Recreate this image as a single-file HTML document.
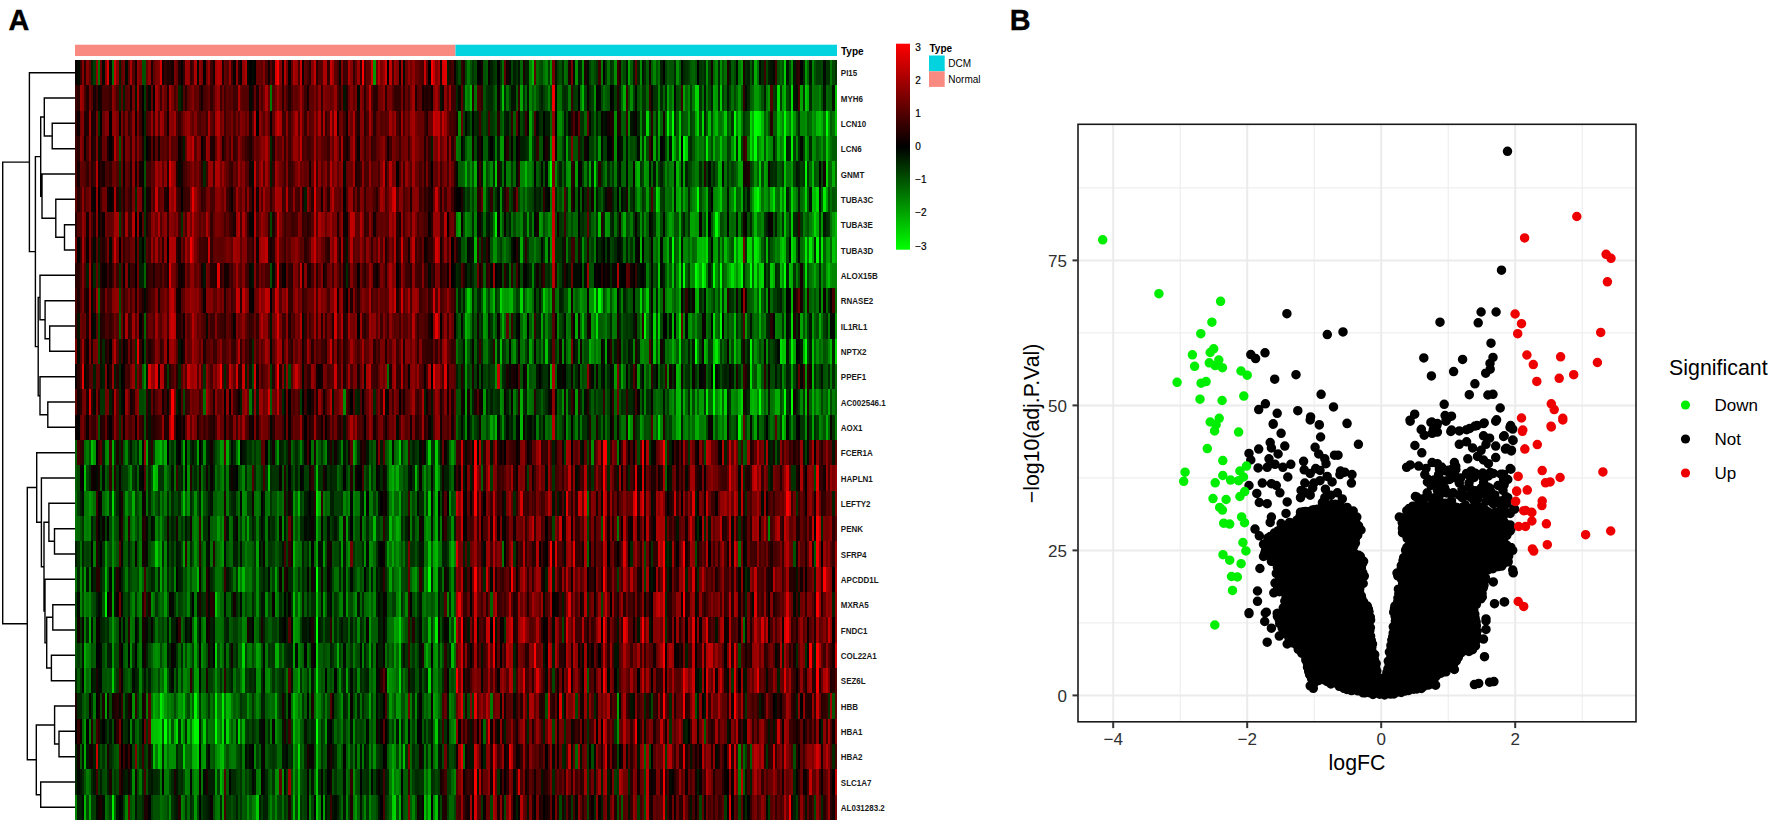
<!DOCTYPE html>
<html><head><meta charset="utf-8"><style>
html,body{margin:0;padding:0;background:#fff;}
body{width:1772px;height:824px;position:relative;overflow:hidden;font-family:"Liberation Sans",Arial,sans-serif;}
.hm{position:absolute;left:0;top:0;filter:blur(0.45px);}
.r{position:absolute;left:75.0px;width:762.0px;height:25.63px;}
svg{position:absolute;left:0;top:0;}
.gm{stroke:#ebebeb;stroke-width:1;}
.gM{stroke:#ebebeb;stroke-width:2;}
.tk{stroke:#333;stroke-width:2;}
.at{font-size:17px;fill:#303030;}
.ax{font-size:21.3px;fill:#000;}
.lg{font-size:21.4px;fill:#000;}
.li{font-size:17px;fill:#000;}
.gl{font-size:8px;fill:#1a1a1a;font-weight:bold;}
.tl{font-size:10px;font-weight:bold;fill:#000;}
.cl{font-size:10px;fill:#000;stroke:#000;stroke-width:0.2px;}
.ll{font-size:10px;fill:#000;}
.pl{font-size:28.8px;font-weight:bold;fill:#000;stroke:#000;stroke-width:0.35px;}
</style></head><body>
<div class="hm"><div class="r" style="top:60.00px;background:linear-gradient(90deg,#0a0000 0.0px 2.3px,#000a00 2.3px 4.6px,#330000 4.6px 6.9px,#850000 6.9px 9.2px,#290000 9.2px 11.5px,#850000 11.5px 13.8px,#5c0000 13.8px 16.1px,#001f00 16.1px 18.4px,#003d00 18.4px 20.7px,#8f0000 20.7px 23.0px,#007000 23.0px 25.2px,#660000 25.2px 27.5px,#000a00 27.5px 29.8px,#850000 29.8px 32.1px,#d60000 32.1px 34.4px,#000a00 34.4px 36.7px,#007000 36.7px 39.0px,#cc0000 39.0px 41.3px,#850000 41.3px 43.6px,#001f00 43.6px 45.9px,#5c0000 45.9px 48.2px,#700000 48.2px 50.5px,#000a00 50.5px 52.8px,#5c0000 52.8px 55.1px,#ad0000 55.1px 57.4px,#520000 57.4px 59.7px,#140000 59.7px 62.0px,#8f0000 62.0px 64.3px,#7a0000 64.3px 66.6px,#005200 66.6px 71.2px,#660000 71.2px 73.4px,#8f0000 73.4px 75.7px,#1f0000 75.7px 78.0px,#5c0000 78.0px 80.3px,#7a0000 80.3px 82.6px,#850000 82.6px 84.9px,#d60000 84.9px 87.2px,#140000 87.2px 89.5px,#330000 89.5px 91.8px,#1f0000 91.8px 94.1px,#290000 94.1px 96.4px,#140000 96.4px 98.7px,#7a0000 98.7px 101.0px,#660000 101.0px 103.3px,#1f0000 103.3px 105.6px,#000000 105.6px 107.9px,#330000 107.9px 110.2px,#990000 110.2px 114.8px,#330000 114.8px 117.1px,#470000 117.1px 119.3px,#ad0000 119.3px 121.6px,#000a00 121.6px 123.9px,#8f0000 123.9px 126.2px,#7a0000 126.2px 128.5px,#000000 128.5px 130.8px,#700000 130.8px 133.1px,#990000 133.1px 135.4px,#3d0000 135.4px 137.7px,#140000 137.7px 140.0px,#a30000 140.0px 142.3px,#b80000 142.3px 144.6px,#ad0000 144.6px 146.9px,#1f0000 146.9px 149.2px,#660000 149.2px 151.5px,#520000 151.5px 153.8px,#990000 153.8px 156.1px,#3d0000 156.1px 158.4px,#0a0000 158.4px 160.7px,#8f0000 160.7px 163.0px,#290000 163.0px 165.3px,#0a0000 165.3px 167.5px,#8f0000 167.5px 169.8px,#ad0000 169.8px 172.1px,#000a00 172.1px 174.4px,#000000 174.4px 176.7px,#000a00 176.7px 179.0px,#000000 179.0px 181.3px,#660000 181.3px 185.9px,#5c0000 185.9px 188.2px,#850000 188.2px 190.5px,#470000 190.5px 192.8px,#140000 192.8px 195.1px,#520000 195.1px 197.4px,#290000 197.4px 199.7px,#d60000 199.7px 202.0px,#ff0000 202.0px 204.3px,#850000 204.3px 206.6px,#140000 206.6px 208.9px,#b80000 208.9px 211.2px,#700000 211.2px 213.5px,#0a0000 213.5px 215.7px,#5c0000 215.7px 218.0px,#ad0000 218.0px 220.3px,#990000 220.3px 222.6px,#470000 222.6px 224.9px,#cc0000 224.9px 227.2px,#0a0000 227.2px 229.5px,#5c0000 229.5px 231.8px,#470000 231.8px 234.1px,#290000 234.1px 236.4px,#850000 236.4px 238.7px,#c20000 238.7px 241.0px,#290000 241.0px 243.3px,#520000 243.3px 247.9px,#ad0000 247.9px 252.5px,#330000 252.5px 254.8px,#cc0000 254.8px 257.1px,#a30000 257.1px 259.4px,#5c0000 259.4px 261.7px,#470000 261.7px 263.9px,#000a00 263.9px 266.2px,#850000 266.2px 268.5px,#3d0000 268.5px 273.1px,#ad0000 273.1px 275.4px,#850000 275.4px 277.7px,#330000 277.7px 280.0px,#5c0000 280.0px 282.3px,#990000 282.3px 284.6px,#330000 284.6px 286.9px,#ff0000 286.9px 289.2px,#3d0000 289.2px 291.5px,#5c0000 291.5px 293.8px,#660000 293.8px 296.1px,#cc0000 296.1px 298.4px,#009900 298.4px 300.7px,#700000 300.7px 303.0px,#b80000 303.0px 305.3px,#7a0000 305.3px 307.6px,#990000 307.6px 309.8px,#cc0000 309.8px 312.1px,#000000 312.1px 314.4px,#c20000 314.4px 316.7px,#470000 316.7px 319.0px,#990000 319.0px 321.3px,#850000 321.3px 323.6px,#0a0000 323.6px 325.9px,#a30000 325.9px 328.2px,#000a00 328.2px 330.5px,#660000 330.5px 332.8px,#8f0000 332.8px 335.1px,#700000 335.1px 337.4px,#8f0000 337.4px 339.7px,#660000 339.7px 344.3px,#520000 344.3px 346.6px,#470000 346.6px 348.9px,#cc0000 348.9px 351.2px,#5c0000 351.2px 353.5px,#000000 353.5px 355.8px,#ff0000 355.8px 358.0px,#c20000 358.0px 360.3px,#850000 360.3px 362.6px,#a30000 362.6px 364.9px,#1f0000 364.9px 367.2px,#d60000 367.2px 369.5px,#e00000 369.5px 371.8px,#001f00 371.8px 374.1px,#330000 374.1px 376.4px,#470000 376.4px 378.7px,#0a0000 378.7px 381.0px,#002900 381.0px 383.3px,#004700 383.3px 385.6px,#330000 385.6px 387.9px,#1f0000 387.9px 390.2px,#004700 390.2px 392.5px,#007a00 392.5px 394.8px,#005200 394.8px 397.1px,#003300 397.1px 399.4px,#004700 399.4px 401.7px,#000000 401.7px 406.2px,#140000 406.2px 408.5px,#005200 408.5px 410.8px,#005c00 410.8px 413.1px,#0a0000 413.1px 415.4px,#001f00 415.4px 417.7px,#003300 417.7px 420.0px,#003d00 420.0px 422.3px,#000000 422.3px 424.6px,#003300 424.6px 426.9px,#007000 426.9px 429.2px,#5c0000 429.2px 431.5px,#140000 431.5px 433.8px,#000a00 433.8px 436.1px,#004700 436.1px 438.4px,#001f00 438.4px 440.7px,#003300 440.7px 443.0px,#001400 443.0px 445.3px,#006600 445.3px 447.6px,#1f0000 447.6px 449.9px,#001f00 449.9px 454.4px,#008500 454.4px 456.7px,#00b800 456.7px 459.0px,#5c0000 459.0px 461.3px,#006600 461.3px 463.6px,#005200 463.6px 465.9px,#004700 465.9px 468.2px,#007000 468.2px 470.5px,#008500 470.5px 472.8px,#003d00 472.8px 475.1px,#009900 475.1px 477.4px,#700000 477.4px 479.7px,#001400 479.7px 482.0px,#003d00 482.0px 484.3px,#005200 484.3px 486.6px,#002900 486.6px 488.9px,#007000 488.9px 491.2px,#006600 491.2px 493.5px,#1f0000 493.5px 495.8px,#7a0000 495.8px 498.1px,#000a00 498.1px 500.3px,#008f00 500.3px 502.6px,#001f00 502.6px 504.9px,#002900 504.9px 507.2px,#008f00 507.2px 509.5px,#1f0000 509.5px 511.8px,#000a00 511.8px 514.1px,#003d00 514.1px 516.4px,#005c00 516.4px 518.7px,#004700 518.7px 521.0px,#003300 521.0px 523.3px,#3d0000 523.3px 525.6px,#007a00 525.6px 527.9px,#000000 527.9px 530.2px,#003300 530.2px 532.5px,#007000 532.5px 534.8px,#003300 534.8px 537.1px,#003d00 537.1px 539.4px,#008f00 539.4px 541.7px,#3d0000 541.7px 544.0px,#1f0000 544.0px 546.3px,#005c00 546.3px 548.5px,#004700 548.5px 550.8px,#001400 550.8px 553.1px,#00a300 553.1px 555.4px,#005c00 555.4px 557.7px,#001f00 557.7px 560.0px,#5c0000 560.0px 562.3px,#002900 562.3px 564.6px,#008f00 564.6px 566.9px,#001400 566.9px 569.2px,#002900 569.2px 571.5px,#005c00 571.5px 573.8px,#140000 573.8px 576.1px,#005c00 576.1px 578.4px,#008500 578.4px 580.7px,#005200 580.7px 583.0px,#007000 583.0px 585.3px,#001f00 585.3px 587.6px,#000000 587.6px 589.9px,#003d00 589.9px 592.2px,#005c00 592.2px 594.5px,#005200 594.5px 599.0px,#002900 599.0px 601.3px,#008f00 601.3px 603.6px,#005c00 603.6px 605.9px,#000a00 605.9px 608.2px,#002900 608.2px 610.5px,#003300 610.5px 612.8px,#003d00 612.8px 615.1px,#005c00 615.1px 617.4px,#006600 617.4px 619.7px,#005200 619.7px 622.0px,#000000 622.0px 624.3px,#003300 624.3px 626.6px,#003d00 626.6px 628.9px,#002900 628.9px 631.2px,#008f00 631.2px 633.5px,#003d00 633.5px 635.8px,#140000 635.8px 638.1px,#006600 638.1px 640.4px,#008500 640.4px 642.7px,#002900 642.7px 644.9px,#008f00 644.9px 647.2px,#005200 647.2px 649.5px,#007000 649.5px 651.8px,#1f0000 651.8px 654.1px,#001f00 654.1px 656.4px,#005c00 656.4px 658.7px,#004700 658.7px 661.0px,#000a00 661.0px 663.3px,#007a00 663.3px 665.6px,#009900 665.6px 667.9px,#1f0000 667.9px 670.2px,#002900 670.2px 672.5px,#001f00 672.5px 674.8px,#005c00 674.8px 677.1px,#002900 677.1px 679.4px,#00ad00 679.4px 681.7px,#007000 681.7px 684.0px,#000a00 684.0px 686.3px,#002900 686.3px 688.6px,#3d0000 688.6px 690.8px,#004700 690.8px 693.1px,#001f00 693.1px 695.4px,#001400 695.4px 697.7px,#000a00 697.7px 700.0px,#470000 700.0px 702.3px,#005200 702.3px 704.6px,#006600 704.6px 706.9px,#005200 706.9px 709.2px,#00cc00 709.2px 711.5px,#001400 711.5px 713.8px,#004700 713.8px 716.1px,#008f00 716.1px 718.4px,#001400 718.4px 720.7px,#290000 720.7px 723.0px,#330000 723.0px 725.3px,#000000 725.3px 727.6px,#002900 727.6px 729.9px,#009900 729.9px 732.2px,#006600 732.2px 734.5px,#001400 734.5px 736.8px,#008500 736.8px 739.0px,#005200 739.0px 741.3px,#003d00 741.3px 745.9px,#004700 745.9px 748.2px,#000a00 748.2px 750.5px,#003300 750.5px 755.1px,#007a00 755.1px 757.4px,#004700 757.4px 759.7px,#003300 759.7px 762.0px)"></div><div class="r" style="top:85.33px;background:linear-gradient(90deg,#3d0000 0.0px 2.3px,#290000 2.3px 4.6px,#a30000 4.6px 6.9px,#8f0000 6.9px 9.2px,#470000 9.2px 11.5px,#1f0000 11.5px 13.8px,#700000 13.8px 16.1px,#520000 16.1px 18.4px,#140000 18.4px 20.7px,#3d0000 20.7px 23.0px,#000a00 23.0px 25.2px,#140000 25.2px 27.5px,#470000 27.5px 34.4px,#330000 34.4px 36.7px,#8f0000 36.7px 39.0px,#700000 39.0px 41.3px,#470000 41.3px 43.6px,#002900 43.6px 45.9px,#5c0000 45.9px 48.2px,#001f00 48.2px 50.5px,#520000 50.5px 52.8px,#5c0000 52.8px 55.1px,#140000 55.1px 57.4px,#7a0000 57.4px 59.7px,#001400 59.7px 62.0px,#a30000 62.0px 64.3px,#330000 64.3px 66.6px,#000000 66.6px 68.9px,#003d00 68.9px 71.2px,#330000 71.2px 73.4px,#000a00 73.4px 75.7px,#660000 75.7px 78.0px,#000000 78.0px 80.3px,#a30000 80.3px 82.6px,#7a0000 82.6px 84.9px,#3d0000 84.9px 87.2px,#850000 87.2px 89.5px,#660000 89.5px 91.8px,#1f0000 91.8px 94.1px,#ad0000 94.1px 96.4px,#7a0000 96.4px 98.7px,#470000 98.7px 101.0px,#660000 101.0px 103.3px,#002900 103.3px 105.6px,#001400 105.6px 107.9px,#520000 107.9px 110.2px,#290000 110.2px 112.5px,#5c0000 112.5px 114.8px,#700000 114.8px 117.1px,#850000 117.1px 119.3px,#5c0000 119.3px 121.6px,#660000 121.6px 123.9px,#330000 123.9px 126.2px,#140000 126.2px 128.5px,#470000 128.5px 130.8px,#520000 130.8px 133.1px,#660000 133.1px 135.4px,#330000 135.4px 137.7px,#520000 137.7px 140.0px,#850000 140.0px 142.3px,#990000 142.3px 144.6px,#3d0000 144.6px 146.9px,#700000 146.9px 149.2px,#3d0000 149.2px 151.5px,#5c0000 151.5px 153.8px,#520000 153.8px 156.1px,#5c0000 156.1px 158.4px,#3d0000 158.4px 163.0px,#ad0000 163.0px 165.3px,#660000 165.3px 167.5px,#520000 167.5px 174.4px,#000a00 174.4px 176.7px,#1f0000 176.7px 179.0px,#660000 179.0px 181.3px,#1f0000 181.3px 183.6px,#700000 183.6px 185.9px,#470000 185.9px 188.2px,#700000 188.2px 190.5px,#ad0000 190.5px 192.8px,#660000 192.8px 195.1px,#007a00 195.1px 197.4px,#520000 197.4px 199.7px,#700000 199.7px 202.0px,#990000 202.0px 204.3px,#700000 204.3px 206.6px,#290000 206.6px 208.9px,#700000 208.9px 211.2px,#470000 211.2px 213.5px,#1f0000 213.5px 215.7px,#470000 215.7px 218.0px,#660000 218.0px 220.3px,#5c0000 220.3px 222.6px,#700000 222.6px 224.9px,#a30000 224.9px 227.2px,#660000 227.2px 229.5px,#3d0000 229.5px 231.8px,#140000 231.8px 234.1px,#5c0000 234.1px 238.7px,#7a0000 238.7px 241.0px,#520000 241.0px 243.3px,#8f0000 243.3px 245.6px,#330000 245.6px 247.9px,#850000 247.9px 250.2px,#7a0000 250.2px 252.5px,#700000 252.5px 254.8px,#660000 254.8px 257.1px,#700000 257.1px 259.4px,#990000 259.4px 261.7px,#470000 261.7px 263.9px,#290000 263.9px 266.2px,#5c0000 266.2px 268.5px,#001400 268.5px 270.8px,#1f0000 270.8px 273.1px,#660000 273.1px 275.4px,#850000 275.4px 277.7px,#5c0000 277.7px 280.0px,#7a0000 280.0px 282.3px,#000a00 282.3px 284.6px,#8f0000 284.6px 286.9px,#700000 286.9px 289.2px,#290000 289.2px 291.5px,#660000 291.5px 293.8px,#c20000 293.8px 296.1px,#520000 296.1px 298.4px,#290000 298.4px 303.0px,#700000 303.0px 307.6px,#8f0000 307.6px 309.8px,#290000 309.8px 312.1px,#7a0000 312.1px 316.7px,#520000 316.7px 319.0px,#330000 319.0px 325.9px,#7a0000 325.9px 328.2px,#290000 328.2px 330.5px,#660000 330.5px 332.8px,#470000 332.8px 335.1px,#7a0000 335.1px 337.4px,#a30000 337.4px 339.7px,#1f0000 339.7px 342.0px,#520000 342.0px 344.3px,#5c0000 344.3px 346.6px,#140000 346.6px 348.9px,#290000 348.9px 351.2px,#1f0000 351.2px 353.5px,#290000 353.5px 355.8px,#0a0000 355.8px 358.0px,#850000 358.0px 360.3px,#a30000 360.3px 362.6px,#700000 362.6px 364.9px,#001400 364.9px 367.2px,#140000 367.2px 369.5px,#8f0000 369.5px 371.8px,#520000 371.8px 374.1px,#a30000 374.1px 376.4px,#3d0000 376.4px 381.0px,#002900 381.0px 383.3px,#000a00 383.3px 385.6px,#5c0000 385.6px 387.9px,#002900 387.9px 390.2px,#008f00 390.2px 392.5px,#007a00 392.5px 394.8px,#00b800 394.8px 397.1px,#290000 397.1px 399.4px,#007000 399.4px 401.7px,#470000 401.7px 406.2px,#330000 406.2px 408.5px,#005200 408.5px 410.8px,#003300 410.8px 413.1px,#002900 413.1px 417.7px,#004700 417.7px 420.0px,#006600 420.0px 422.3px,#0a0000 422.3px 424.6px,#004700 424.6px 426.9px,#00c200 426.9px 429.2px,#002900 429.2px 431.5px,#007000 431.5px 433.8px,#003d00 433.8px 436.1px,#001400 436.1px 440.7px,#005c00 440.7px 443.0px,#330000 443.0px 445.3px,#00a300 445.3px 447.6px,#003300 447.6px 449.9px,#006600 449.9px 452.2px,#001400 452.2px 454.4px,#008500 454.4px 456.7px,#005c00 456.7px 459.0px,#007a00 459.0px 461.3px,#005200 461.3px 463.6px,#003300 463.6px 465.9px,#001f00 465.9px 468.2px,#003d00 468.2px 470.5px,#005200 470.5px 472.8px,#008500 472.8px 475.1px,#004700 475.1px 477.4px,#f50000 477.4px 479.7px,#000a00 479.7px 482.0px,#007000 482.0px 486.6px,#003300 486.6px 488.9px,#002900 488.9px 491.2px,#003300 491.2px 493.5px,#007a00 493.5px 495.8px,#3d0000 495.8px 498.1px,#003300 498.1px 500.3px,#003d00 500.3px 502.6px,#000000 502.6px 504.9px,#007a00 504.9px 507.2px,#00b800 507.2px 509.5px,#003d00 509.5px 511.8px,#0a0000 511.8px 514.1px,#002900 514.1px 516.4px,#003d00 516.4px 518.7px,#008f00 518.7px 521.0px,#0a0000 521.0px 523.3px,#000a00 523.3px 525.6px,#004700 525.6px 527.9px,#007000 527.9px 530.2px,#005c00 530.2px 532.5px,#005200 532.5px 534.8px,#000000 534.8px 537.1px,#000a00 537.1px 539.4px,#003d00 539.4px 541.7px,#290000 541.7px 544.0px,#001f00 544.0px 546.3px,#006600 546.3px 548.5px,#00ad00 548.5px 550.8px,#3d0000 550.8px 553.1px,#005200 553.1px 555.4px,#008f00 555.4px 557.7px,#003d00 557.7px 560.0px,#000a00 560.0px 562.3px,#005200 562.3px 564.6px,#007000 564.6px 566.9px,#003300 566.9px 571.5px,#006600 571.5px 573.8px,#3d0000 573.8px 576.1px,#000a00 576.1px 578.4px,#003300 578.4px 583.0px,#008500 583.0px 585.3px,#002900 585.3px 587.6px,#006600 587.6px 589.9px,#002900 589.9px 592.2px,#00a300 592.2px 594.5px,#006600 594.5px 596.7px,#008f00 596.7px 599.0px,#000000 599.0px 601.3px,#004700 601.3px 603.6px,#005200 603.6px 605.9px,#3d0000 605.9px 608.2px,#00a300 608.2px 610.5px,#006600 610.5px 612.8px,#008500 612.8px 615.1px,#003d00 615.1px 617.4px,#007a00 617.4px 619.7px,#00d600 619.7px 624.3px,#003300 624.3px 626.6px,#007000 626.6px 628.9px,#001400 628.9px 631.2px,#007a00 631.2px 633.5px,#004700 633.5px 635.8px,#001f00 635.8px 638.1px,#00a300 638.1px 640.4px,#009900 640.4px 642.7px,#002900 642.7px 644.9px,#00cc00 644.9px 647.2px,#003d00 647.2px 649.5px,#005c00 649.5px 651.8px,#001400 651.8px 654.1px,#003d00 654.1px 656.4px,#007000 656.4px 658.7px,#004700 658.7px 661.0px,#006600 661.0px 663.3px,#009900 663.3px 665.6px,#005c00 665.6px 667.9px,#330000 667.9px 670.2px,#000a00 670.2px 672.5px,#002900 672.5px 674.8px,#005c00 674.8px 677.1px,#006600 677.1px 679.4px,#009900 679.4px 684.0px,#007a00 684.0px 686.3px,#005200 686.3px 688.6px,#001f00 688.6px 690.8px,#007a00 690.8px 693.1px,#009900 693.1px 695.4px,#520000 695.4px 697.7px,#003d00 697.7px 700.0px,#003300 700.0px 702.3px,#00e000 702.3px 704.6px,#003d00 704.6px 706.9px,#009900 706.9px 709.2px,#00b800 709.2px 711.5px,#004700 711.5px 713.8px,#003300 713.8px 716.1px,#00e000 716.1px 718.4px,#001400 718.4px 720.7px,#000a00 720.7px 723.0px,#470000 723.0px 725.3px,#00a300 725.3px 727.6px,#003300 727.6px 729.9px,#00cc00 729.9px 732.2px,#00ad00 732.2px 734.5px,#002900 734.5px 736.8px,#007a00 736.8px 739.0px,#007000 739.0px 743.6px,#008500 743.6px 745.9px,#005200 745.9px 748.2px,#001400 748.2px 750.5px,#006600 750.5px 752.8px,#005c00 752.8px 757.4px,#001400 757.4px 759.7px,#00c200 759.7px 762.0px)"></div><div class="r" style="top:110.67px;background:linear-gradient(90deg,#330000 0.0px 2.3px,#0a0000 2.3px 4.6px,#7a0000 4.6px 6.9px,#850000 6.9px 9.2px,#1f0000 9.2px 13.8px,#a30000 13.8px 16.1px,#1f0000 16.1px 20.7px,#7a0000 20.7px 23.0px,#003300 23.0px 25.2px,#000000 25.2px 27.5px,#660000 27.5px 29.8px,#850000 29.8px 34.4px,#000000 34.4px 36.7px,#8f0000 36.7px 41.3px,#7a0000 41.3px 43.6px,#000a00 43.6px 45.9px,#7a0000 45.9px 48.2px,#3d0000 48.2px 50.5px,#7a0000 50.5px 52.8px,#330000 52.8px 55.1px,#470000 55.1px 57.4px,#8f0000 57.4px 59.7px,#140000 59.7px 62.0px,#7a0000 62.0px 64.3px,#3d0000 64.3px 66.6px,#000000 66.6px 68.9px,#002900 68.9px 71.2px,#470000 71.2px 73.4px,#520000 73.4px 75.7px,#990000 75.7px 78.0px,#3d0000 78.0px 80.3px,#a30000 80.3px 82.6px,#520000 82.6px 84.9px,#a30000 84.9px 87.2px,#990000 87.2px 89.5px,#520000 89.5px 91.8px,#140000 91.8px 94.1px,#8f0000 94.1px 96.4px,#850000 96.4px 98.7px,#a30000 98.7px 101.0px,#470000 101.0px 103.3px,#330000 103.3px 105.6px,#520000 105.6px 107.9px,#7a0000 107.9px 110.2px,#8f0000 110.2px 112.5px,#990000 112.5px 114.8px,#700000 114.8px 117.1px,#5c0000 117.1px 119.3px,#850000 119.3px 121.6px,#520000 121.6px 123.9px,#470000 123.9px 126.2px,#5c0000 126.2px 130.8px,#3d0000 130.8px 133.1px,#ad0000 133.1px 135.4px,#5c0000 135.4px 137.7px,#470000 137.7px 140.0px,#a30000 140.0px 142.3px,#b80000 142.3px 144.6px,#700000 144.6px 146.9px,#850000 146.9px 149.2px,#3d0000 149.2px 151.5px,#5c0000 151.5px 156.1px,#7a0000 156.1px 158.4px,#470000 158.4px 160.7px,#7a0000 160.7px 163.0px,#520000 163.0px 165.3px,#850000 165.3px 167.5px,#7a0000 167.5px 169.8px,#5c0000 169.8px 172.1px,#7a0000 172.1px 174.4px,#1f0000 174.4px 176.7px,#5c0000 176.7px 179.0px,#c20000 179.0px 181.3px,#000000 181.3px 183.6px,#8f0000 183.6px 185.9px,#700000 185.9px 188.2px,#520000 188.2px 190.5px,#850000 190.5px 192.8px,#5c0000 192.8px 195.1px,#0a0000 195.1px 197.4px,#5c0000 197.4px 199.7px,#a30000 199.7px 202.0px,#cc0000 202.0px 204.3px,#ad0000 204.3px 206.6px,#3d0000 206.6px 211.2px,#8f0000 211.2px 213.5px,#3d0000 213.5px 215.7px,#5c0000 215.7px 218.0px,#850000 218.0px 220.3px,#ad0000 220.3px 222.6px,#520000 222.6px 224.9px,#ad0000 224.9px 227.2px,#660000 227.2px 229.5px,#330000 229.5px 231.8px,#850000 231.8px 234.1px,#520000 234.1px 236.4px,#5c0000 236.4px 238.7px,#990000 238.7px 241.0px,#660000 241.0px 243.3px,#ad0000 243.3px 245.6px,#3d0000 245.6px 247.9px,#ad0000 247.9px 250.2px,#330000 250.2px 252.5px,#520000 252.5px 254.8px,#c20000 254.8px 257.1px,#660000 257.1px 259.4px,#cc0000 259.4px 261.7px,#140000 261.7px 263.9px,#660000 263.9px 266.2px,#700000 266.2px 268.5px,#3d0000 268.5px 270.8px,#0a0000 270.8px 273.1px,#850000 273.1px 275.4px,#660000 275.4px 277.7px,#ad0000 277.7px 280.0px,#3d0000 280.0px 282.3px,#1f0000 282.3px 284.6px,#850000 284.6px 289.2px,#290000 289.2px 291.5px,#470000 291.5px 293.8px,#ad0000 293.8px 296.1px,#700000 296.1px 298.4px,#290000 298.4px 300.7px,#5c0000 300.7px 303.0px,#700000 303.0px 305.3px,#520000 305.3px 307.6px,#5c0000 307.6px 309.8px,#520000 309.8px 312.1px,#5c0000 312.1px 314.4px,#a30000 314.4px 316.7px,#7a0000 316.7px 319.0px,#990000 319.0px 321.3px,#470000 321.3px 323.6px,#290000 323.6px 325.9px,#a30000 325.9px 328.2px,#470000 328.2px 330.5px,#7a0000 330.5px 332.8px,#5c0000 332.8px 335.1px,#990000 335.1px 337.4px,#a30000 337.4px 339.7px,#7a0000 339.7px 342.0px,#660000 342.0px 348.9px,#3d0000 348.9px 351.2px,#1f0000 351.2px 353.5px,#660000 353.5px 358.0px,#cc0000 358.0px 360.3px,#b80000 360.3px 362.6px,#c20000 362.6px 364.9px,#700000 364.9px 367.2px,#c20000 367.2px 369.5px,#990000 369.5px 371.8px,#660000 371.8px 374.1px,#470000 374.1px 378.7px,#3d0000 378.7px 381.0px,#1f0000 381.0px 383.3px,#008f00 383.3px 385.6px,#660000 385.6px 387.9px,#003d00 387.9px 390.2px,#000a00 390.2px 392.5px,#002900 392.5px 394.8px,#005200 394.8px 397.1px,#000000 397.1px 399.4px,#002900 399.4px 401.7px,#001f00 401.7px 404.0px,#470000 404.0px 406.2px,#003300 406.2px 408.5px,#004700 408.5px 410.8px,#003300 410.8px 413.1px,#470000 413.1px 415.4px,#003300 415.4px 417.7px,#003d00 417.7px 420.0px,#005200 420.0px 422.3px,#290000 422.3px 424.6px,#005200 424.6px 426.9px,#006600 426.9px 429.2px,#001f00 429.2px 431.5px,#001400 431.5px 433.8px,#003d00 433.8px 436.1px,#330000 436.1px 438.4px,#005c00 438.4px 440.7px,#5c0000 440.7px 443.0px,#0a0000 443.0px 445.3px,#004700 445.3px 447.6px,#002900 447.6px 449.9px,#3d0000 449.9px 452.2px,#0a0000 452.2px 454.4px,#00a300 454.4px 456.7px,#005c00 456.7px 459.0px,#470000 459.0px 461.3px,#000a00 461.3px 463.6px,#002900 463.6px 465.9px,#003300 465.9px 468.2px,#000000 468.2px 470.5px,#001f00 470.5px 475.1px,#006600 475.1px 477.4px,#8f0000 477.4px 479.7px,#000000 479.7px 482.0px,#008500 482.0px 484.3px,#008f00 484.3px 486.6px,#006600 486.6px 488.9px,#001400 488.9px 491.2px,#004700 491.2px 493.5px,#000a00 493.5px 495.8px,#290000 495.8px 498.1px,#520000 498.1px 500.3px,#140000 500.3px 502.6px,#660000 502.6px 504.9px,#003300 504.9px 509.5px,#006600 509.5px 511.8px,#660000 511.8px 514.1px,#000a00 514.1px 516.4px,#003300 516.4px 518.7px,#006600 518.7px 521.0px,#001f00 521.0px 523.3px,#004700 523.3px 525.6px,#0a0000 525.6px 527.9px,#001400 527.9px 530.2px,#000a00 530.2px 532.5px,#140000 532.5px 534.8px,#1f0000 534.8px 539.4px,#008f00 539.4px 541.7px,#1f0000 541.7px 546.3px,#005c00 546.3px 550.8px,#3d0000 550.8px 553.1px,#008f00 553.1px 555.4px,#001400 555.4px 557.7px,#000a00 557.7px 560.0px,#0a0000 560.0px 562.3px,#002900 562.3px 564.6px,#008500 564.6px 566.9px,#002900 566.9px 571.5px,#00d600 571.5px 573.8px,#004700 573.8px 576.1px,#290000 576.1px 578.4px,#006600 578.4px 580.7px,#002900 580.7px 583.0px,#00ad00 583.0px 585.3px,#005c00 585.3px 587.6px,#140000 587.6px 589.9px,#005c00 589.9px 592.2px,#00eb00 592.2px 594.5px,#007a00 594.5px 596.7px,#00ff00 596.7px 599.0px,#002900 599.0px 601.3px,#005c00 601.3px 603.6px,#00cc00 603.6px 605.9px,#004700 605.9px 608.2px,#005c00 608.2px 612.8px,#009900 612.8px 615.1px,#003d00 615.1px 617.4px,#005200 617.4px 619.7px,#00a300 619.7px 622.0px,#00d600 622.0px 624.3px,#004700 624.3px 626.6px,#00d600 626.6px 628.9px,#001f00 628.9px 631.2px,#005c00 631.2px 633.5px,#00b800 633.5px 635.8px,#004700 635.8px 638.1px,#009900 638.1px 640.4px,#00b800 640.4px 642.7px,#007000 642.7px 647.2px,#008500 647.2px 649.5px,#00cc00 649.5px 651.8px,#005200 651.8px 654.1px,#007000 654.1px 656.4px,#003300 656.4px 658.7px,#00ff00 658.7px 661.0px,#008500 661.0px 663.3px,#00c200 663.3px 665.6px,#007a00 665.6px 667.9px,#003300 667.9px 670.2px,#004700 670.2px 672.5px,#005200 672.5px 674.8px,#00d600 674.8px 677.1px,#00ad00 677.1px 679.4px,#00ff00 679.4px 681.7px,#00f500 681.7px 684.0px,#00eb00 684.0px 686.3px,#00b800 686.3px 688.6px,#005c00 688.6px 690.8px,#008500 690.8px 693.1px,#005200 693.1px 695.4px,#290000 695.4px 697.7px,#005c00 697.7px 702.3px,#00c200 702.3px 704.6px,#00a300 704.6px 706.9px,#008500 706.9px 709.2px,#00ff00 709.2px 711.5px,#009900 711.5px 713.8px,#007a00 713.8px 716.1px,#00e000 716.1px 718.4px,#008f00 718.4px 720.7px,#005200 720.7px 723.0px,#002900 723.0px 725.3px,#008500 725.3px 729.9px,#008f00 729.9px 732.2px,#005c00 732.2px 734.5px,#006600 734.5px 736.8px,#009900 736.8px 739.0px,#008500 739.0px 741.3px,#00b800 741.3px 743.6px,#00c200 743.6px 745.9px,#00ad00 745.9px 748.2px,#007000 748.2px 750.5px,#00ff00 750.5px 752.8px,#009900 752.8px 755.1px,#005c00 755.1px 757.4px,#007000 757.4px 759.7px,#00c200 759.7px 762.0px)"></div><div class="r" style="top:136.00px;background:linear-gradient(90deg,#3d0000 0.0px 2.3px,#290000 2.3px 4.6px,#8f0000 4.6px 6.9px,#700000 6.9px 9.2px,#0a0000 9.2px 11.5px,#470000 11.5px 13.8px,#8f0000 13.8px 16.1px,#1f0000 16.1px 18.4px,#290000 18.4px 20.7px,#850000 20.7px 23.0px,#001400 23.0px 25.2px,#1f0000 25.2px 27.5px,#660000 27.5px 32.1px,#1f0000 32.1px 34.4px,#000000 34.4px 36.7px,#1f0000 36.7px 39.0px,#b80000 39.0px 41.3px,#700000 41.3px 43.6px,#005200 43.6px 45.9px,#700000 45.9px 48.2px,#140000 48.2px 50.5px,#7a0000 50.5px 52.8px,#700000 52.8px 55.1px,#330000 55.1px 57.4px,#8f0000 57.4px 59.7px,#3d0000 59.7px 62.0px,#850000 62.0px 64.3px,#520000 64.3px 66.6px,#1f0000 66.6px 68.9px,#003300 68.9px 71.2px,#000000 71.2px 73.4px,#140000 73.4px 75.7px,#5c0000 75.7px 78.0px,#140000 78.0px 80.3px,#5c0000 80.3px 82.6px,#140000 82.6px 84.9px,#5c0000 84.9px 87.2px,#520000 87.2px 89.5px,#5c0000 89.5px 91.8px,#470000 91.8px 94.1px,#8f0000 94.1px 96.4px,#520000 96.4px 98.7px,#5c0000 98.7px 101.0px,#520000 101.0px 103.3px,#0a0000 103.3px 105.6px,#1f0000 105.6px 107.9px,#001f00 107.9px 110.2px,#660000 110.2px 112.5px,#ad0000 112.5px 114.8px,#990000 114.8px 117.1px,#c20000 117.1px 119.3px,#520000 119.3px 121.6px,#8f0000 121.6px 123.9px,#7a0000 123.9px 126.2px,#0a0000 126.2px 128.5px,#290000 128.5px 130.8px,#990000 130.8px 133.1px,#8f0000 133.1px 135.4px,#1f0000 135.4px 140.0px,#660000 140.0px 142.3px,#a30000 142.3px 144.6px,#7a0000 144.6px 146.9px,#1f0000 146.9px 149.2px,#3d0000 149.2px 151.5px,#660000 151.5px 153.8px,#3d0000 153.8px 156.1px,#8f0000 156.1px 158.4px,#330000 158.4px 160.7px,#470000 160.7px 163.0px,#8f0000 163.0px 165.3px,#700000 165.3px 167.5px,#520000 167.5px 169.8px,#3d0000 169.8px 172.1px,#330000 172.1px 174.4px,#1f0000 174.4px 176.7px,#3d0000 176.7px 179.0px,#700000 179.0px 181.3px,#5c0000 181.3px 183.6px,#700000 183.6px 185.9px,#8f0000 185.9px 188.2px,#850000 188.2px 190.5px,#ad0000 190.5px 192.8px,#7a0000 192.8px 195.1px,#002900 195.1px 197.4px,#1f0000 197.4px 199.7px,#7a0000 199.7px 202.0px,#5c0000 202.0px 206.6px,#850000 206.6px 208.9px,#330000 208.9px 211.2px,#7a0000 211.2px 213.5px,#3d0000 213.5px 215.7px,#5c0000 215.7px 218.0px,#990000 218.0px 222.6px,#700000 222.6px 224.9px,#c20000 224.9px 227.2px,#470000 227.2px 229.5px,#520000 229.5px 231.8px,#3d0000 231.8px 236.4px,#520000 236.4px 238.7px,#a30000 238.7px 241.0px,#520000 241.0px 243.3px,#7a0000 243.3px 245.6px,#5c0000 245.6px 247.9px,#520000 247.9px 252.5px,#3d0000 252.5px 254.8px,#850000 254.8px 257.1px,#5c0000 257.1px 259.4px,#a30000 259.4px 261.7px,#7a0000 261.7px 263.9px,#330000 263.9px 266.2px,#ad0000 266.2px 268.5px,#290000 268.5px 270.8px,#140000 270.8px 273.1px,#330000 273.1px 275.4px,#850000 275.4px 277.7px,#ad0000 277.7px 280.0px,#3d0000 280.0px 282.3px,#0a0000 282.3px 284.6px,#850000 284.6px 286.9px,#700000 286.9px 289.2px,#3d0000 289.2px 291.5px,#5c0000 291.5px 293.8px,#7a0000 293.8px 296.1px,#330000 296.1px 298.4px,#3d0000 298.4px 300.7px,#5c0000 300.7px 303.0px,#660000 303.0px 305.3px,#7a0000 305.3px 307.6px,#8f0000 307.6px 309.8px,#520000 309.8px 312.1px,#140000 312.1px 314.4px,#3d0000 314.4px 316.7px,#7a0000 316.7px 319.0px,#700000 319.0px 321.3px,#5c0000 321.3px 323.6px,#3d0000 323.6px 325.9px,#700000 325.9px 330.5px,#7a0000 330.5px 332.8px,#3d0000 332.8px 335.1px,#700000 335.1px 337.4px,#a30000 337.4px 339.7px,#7a0000 339.7px 344.3px,#660000 344.3px 348.9px,#1f0000 348.9px 351.2px,#5c0000 351.2px 353.5px,#330000 353.5px 355.8px,#001f00 355.8px 358.0px,#850000 358.0px 360.3px,#7a0000 360.3px 362.6px,#b80000 362.6px 364.9px,#5c0000 364.9px 367.2px,#7a0000 367.2px 369.5px,#990000 369.5px 371.8px,#330000 371.8px 374.1px,#990000 374.1px 376.4px,#290000 376.4px 378.7px,#520000 378.7px 381.0px,#007a00 381.0px 383.3px,#007000 383.3px 385.6px,#000a00 385.6px 387.9px,#001f00 387.9px 390.2px,#005c00 390.2px 392.5px,#007a00 392.5px 397.1px,#140000 397.1px 399.4px,#004700 399.4px 401.7px,#000a00 401.7px 404.0px,#1f0000 404.0px 406.2px,#000000 406.2px 408.5px,#005c00 408.5px 413.1px,#001400 413.1px 415.4px,#000000 415.4px 417.7px,#001f00 417.7px 420.0px,#007a00 420.0px 422.3px,#001f00 422.3px 424.6px,#009900 424.6px 429.2px,#0a0000 429.2px 431.5px,#290000 431.5px 433.8px,#003300 433.8px 436.1px,#0a0000 436.1px 438.4px,#004700 438.4px 440.7px,#000000 440.7px 443.0px,#140000 443.0px 445.3px,#001f00 445.3px 449.9px,#002900 449.9px 452.2px,#003300 452.2px 454.4px,#00a300 454.4px 456.7px,#003d00 456.7px 459.0px,#001f00 459.0px 461.3px,#330000 461.3px 463.6px,#005200 463.6px 468.2px,#000000 468.2px 470.5px,#1f0000 470.5px 472.8px,#001400 472.8px 475.1px,#008f00 475.1px 477.4px,#d60000 477.4px 479.7px,#140000 479.7px 482.0px,#007000 482.0px 486.6px,#003d00 486.6px 488.9px,#001400 488.9px 491.2px,#00a300 491.2px 493.5px,#003d00 493.5px 495.8px,#850000 495.8px 498.1px,#005200 498.1px 502.6px,#3d0000 502.6px 504.9px,#002900 504.9px 507.2px,#003d00 507.2px 509.5px,#140000 509.5px 511.8px,#000000 511.8px 514.1px,#003d00 514.1px 518.7px,#006600 518.7px 521.0px,#003300 521.0px 523.3px,#009900 523.3px 525.6px,#000a00 525.6px 527.9px,#003d00 527.9px 532.5px,#000000 532.5px 537.1px,#1f0000 537.1px 539.4px,#008f00 539.4px 541.7px,#0a0000 541.7px 544.0px,#000a00 544.0px 546.3px,#001400 546.3px 548.5px,#006600 548.5px 550.8px,#001400 550.8px 553.1px,#006600 553.1px 555.4px,#004700 555.4px 557.7px,#005200 557.7px 560.0px,#003d00 560.0px 562.3px,#000a00 562.3px 564.6px,#00a300 564.6px 566.9px,#003300 566.9px 569.2px,#00ad00 569.2px 571.5px,#004700 571.5px 573.8px,#3d0000 573.8px 576.1px,#0a0000 576.1px 578.4px,#00a300 578.4px 580.7px,#003300 580.7px 583.0px,#008f00 583.0px 585.3px,#000000 585.3px 587.6px,#000a00 587.6px 589.9px,#004700 589.9px 592.2px,#008f00 592.2px 594.5px,#001400 594.5px 596.7px,#00d600 596.7px 599.0px,#009900 599.0px 601.3px,#005c00 601.3px 603.6px,#00e000 603.6px 605.9px,#000000 605.9px 608.2px,#00ff00 608.2px 610.5px,#00cc00 610.5px 612.8px,#003300 612.8px 615.1px,#002900 615.1px 617.4px,#005200 617.4px 619.7px,#007a00 619.7px 622.0px,#008f00 622.0px 624.3px,#007000 624.3px 626.6px,#007a00 626.6px 628.9px,#005200 628.9px 631.2px,#00eb00 631.2px 633.5px,#007000 633.5px 635.8px,#004700 635.8px 638.1px,#00ad00 638.1px 640.4px,#007000 640.4px 642.7px,#007a00 642.7px 644.9px,#00c200 644.9px 647.2px,#007a00 647.2px 649.5px,#008500 649.5px 651.8px,#003d00 651.8px 654.1px,#004700 654.1px 656.4px,#008f00 656.4px 658.7px,#00d600 658.7px 661.0px,#002900 661.0px 663.3px,#00d600 663.3px 665.6px,#003d00 665.6px 667.9px,#330000 667.9px 670.2px,#470000 670.2px 672.5px,#007a00 672.5px 674.8px,#00d600 674.8px 677.1px,#00a300 677.1px 679.4px,#00ff00 679.4px 681.7px,#007a00 681.7px 684.0px,#009900 684.0px 686.3px,#00b800 686.3px 688.6px,#005200 688.6px 690.8px,#00b800 690.8px 693.1px,#008f00 693.1px 695.4px,#008500 695.4px 697.7px,#001f00 697.7px 700.0px,#005200 700.0px 702.3px,#00ad00 702.3px 704.6px,#007a00 704.6px 706.9px,#008f00 706.9px 709.2px,#00ff00 709.2px 711.5px,#001f00 711.5px 713.8px,#002900 713.8px 716.1px,#00f500 716.1px 718.4px,#003d00 718.4px 720.7px,#008500 720.7px 723.0px,#002900 723.0px 725.3px,#000a00 725.3px 727.6px,#003d00 727.6px 729.9px,#00ad00 729.9px 732.2px,#007a00 732.2px 734.5px,#002900 734.5px 736.8px,#008f00 736.8px 739.0px,#008500 739.0px 741.3px,#005c00 741.3px 743.6px,#007000 743.6px 745.9px,#008f00 745.9px 748.2px,#005c00 748.2px 750.5px,#00cc00 750.5px 752.8px,#008f00 752.8px 755.1px,#007000 755.1px 757.4px,#005c00 757.4px 762.0px)"></div><div class="r" style="top:161.33px;background:linear-gradient(90deg,#470000 0.0px 2.3px,#140000 2.3px 4.6px,#660000 4.6px 6.9px,#5c0000 6.9px 9.2px,#520000 9.2px 11.5px,#330000 11.5px 13.8px,#660000 13.8px 16.1px,#290000 16.1px 18.4px,#3d0000 18.4px 20.7px,#b80000 20.7px 23.0px,#140000 23.0px 25.2px,#290000 25.2px 27.5px,#140000 27.5px 29.8px,#470000 29.8px 34.4px,#330000 34.4px 36.7px,#660000 36.7px 39.0px,#700000 39.0px 41.3px,#520000 41.3px 43.6px,#003300 43.6px 45.9px,#660000 45.9px 48.2px,#0a0000 48.2px 50.5px,#660000 50.5px 52.8px,#520000 52.8px 55.1px,#1f0000 55.1px 57.4px,#8f0000 57.4px 59.7px,#140000 59.7px 62.0px,#700000 62.0px 64.3px,#140000 64.3px 66.6px,#0a0000 66.6px 68.9px,#005200 68.9px 71.2px,#3d0000 71.2px 75.7px,#5c0000 75.7px 78.0px,#520000 78.0px 80.3px,#a30000 80.3px 82.6px,#850000 82.6px 84.9px,#990000 84.9px 87.2px,#5c0000 87.2px 89.5px,#8f0000 89.5px 91.8px,#290000 91.8px 94.1px,#e00000 94.1px 96.4px,#a30000 96.4px 98.7px,#8f0000 98.7px 101.0px,#1f0000 101.0px 103.3px,#000a00 103.3px 105.6px,#140000 105.6px 107.9px,#3d0000 107.9px 110.2px,#470000 110.2px 112.5px,#5c0000 112.5px 114.8px,#700000 114.8px 117.1px,#850000 117.1px 119.3px,#660000 119.3px 121.6px,#7a0000 121.6px 123.9px,#520000 123.9px 126.2px,#290000 126.2px 128.5px,#002900 128.5px 130.8px,#3d0000 130.8px 133.1px,#990000 133.1px 137.7px,#3d0000 137.7px 140.0px,#ad0000 140.0px 144.6px,#700000 144.6px 146.9px,#990000 146.9px 149.2px,#700000 149.2px 151.5px,#5c0000 151.5px 153.8px,#3d0000 153.8px 156.1px,#330000 156.1px 158.4px,#660000 158.4px 160.7px,#520000 160.7px 163.0px,#a30000 163.0px 165.3px,#700000 165.3px 167.5px,#850000 167.5px 169.8px,#520000 169.8px 174.4px,#140000 174.4px 176.7px,#000a00 176.7px 179.0px,#c20000 179.0px 181.3px,#520000 181.3px 183.6px,#850000 183.6px 185.9px,#ad0000 185.9px 188.2px,#520000 188.2px 190.5px,#a30000 190.5px 192.8px,#700000 192.8px 195.1px,#001f00 195.1px 197.4px,#330000 197.4px 199.7px,#a30000 199.7px 202.0px,#8f0000 202.0px 204.3px,#700000 204.3px 206.6px,#5c0000 206.6px 208.9px,#3d0000 208.9px 211.2px,#850000 211.2px 213.5px,#330000 213.5px 215.7px,#3d0000 215.7px 218.0px,#520000 218.0px 220.3px,#7a0000 220.3px 222.6px,#990000 222.6px 224.9px,#660000 224.9px 227.2px,#700000 227.2px 229.5px,#5c0000 229.5px 231.8px,#660000 231.8px 234.1px,#140000 234.1px 236.4px,#5c0000 236.4px 238.7px,#cc0000 238.7px 241.0px,#3d0000 241.0px 243.3px,#8f0000 243.3px 245.6px,#520000 245.6px 247.9px,#700000 247.9px 250.2px,#850000 250.2px 252.5px,#470000 252.5px 254.8px,#b80000 254.8px 257.1px,#700000 257.1px 259.4px,#8f0000 259.4px 261.7px,#5c0000 261.7px 263.9px,#7a0000 263.9px 266.2px,#8f0000 266.2px 268.5px,#000a00 268.5px 270.8px,#5c0000 270.8px 273.1px,#700000 273.1px 275.4px,#660000 275.4px 277.7px,#a30000 277.7px 280.0px,#1f0000 280.0px 282.3px,#290000 282.3px 284.6px,#3d0000 284.6px 286.9px,#8f0000 286.9px 289.2px,#470000 289.2px 293.8px,#990000 293.8px 296.1px,#520000 296.1px 298.4px,#5c0000 298.4px 300.7px,#660000 300.7px 303.0px,#470000 303.0px 305.3px,#850000 305.3px 307.6px,#c20000 307.6px 309.8px,#290000 309.8px 312.1px,#5c0000 312.1px 314.4px,#b80000 314.4px 316.7px,#700000 316.7px 319.0px,#7a0000 319.0px 321.3px,#000000 321.3px 323.6px,#470000 323.6px 325.9px,#8f0000 325.9px 328.2px,#3d0000 328.2px 330.5px,#990000 330.5px 332.8px,#700000 332.8px 335.1px,#520000 335.1px 337.4px,#a30000 337.4px 339.7px,#660000 339.7px 344.3px,#470000 344.3px 346.6px,#660000 346.6px 348.9px,#290000 348.9px 351.2px,#7a0000 351.2px 353.5px,#330000 353.5px 355.8px,#000000 355.8px 358.0px,#660000 358.0px 360.3px,#5c0000 360.3px 362.6px,#8f0000 362.6px 364.9px,#3d0000 364.9px 367.2px,#660000 367.2px 369.5px,#7a0000 369.5px 371.8px,#470000 371.8px 374.1px,#8f0000 374.1px 376.4px,#660000 376.4px 378.7px,#290000 378.7px 381.0px,#000a00 381.0px 383.3px,#005c00 383.3px 387.9px,#006600 387.9px 390.2px,#00ad00 390.2px 392.5px,#005c00 392.5px 394.8px,#008f00 394.8px 397.1px,#005200 397.1px 399.4px,#00ad00 399.4px 401.7px,#000a00 401.7px 404.0px,#3d0000 404.0px 406.2px,#001400 406.2px 408.5px,#00a300 408.5px 410.8px,#004700 410.8px 413.1px,#005c00 413.1px 415.4px,#008500 415.4px 417.7px,#002900 417.7px 420.0px,#00cc00 420.0px 422.3px,#1f0000 422.3px 424.6px,#001f00 424.6px 426.9px,#007000 426.9px 429.2px,#000a00 429.2px 431.5px,#007a00 431.5px 436.1px,#003300 436.1px 438.4px,#006600 438.4px 440.7px,#000a00 440.7px 443.0px,#330000 443.0px 445.3px,#008500 445.3px 449.9px,#00b800 449.9px 452.2px,#007a00 452.2px 454.4px,#008500 454.4px 456.7px,#006600 456.7px 459.0px,#000000 459.0px 461.3px,#005c00 461.3px 463.6px,#004700 463.6px 465.9px,#000a00 465.9px 468.2px,#005200 468.2px 470.5px,#000a00 470.5px 472.8px,#008f00 472.8px 475.1px,#00f500 475.1px 477.4px,#7a0000 477.4px 479.7px,#008500 479.7px 482.0px,#004700 482.0px 484.3px,#001f00 484.3px 486.6px,#005c00 486.6px 488.9px,#002900 488.9px 491.2px,#008f00 491.2px 493.5px,#009900 493.5px 495.8px,#290000 495.8px 498.1px,#1f0000 498.1px 500.3px,#009900 500.3px 502.6px,#000000 502.6px 504.9px,#0a0000 504.9px 507.2px,#003d00 507.2px 509.5px,#007a00 509.5px 511.8px,#003300 511.8px 514.1px,#00a300 514.1px 516.4px,#001f00 516.4px 518.7px,#00d600 518.7px 521.0px,#005200 521.0px 523.3px,#290000 523.3px 525.6px,#003300 525.6px 527.9px,#005c00 527.9px 530.2px,#007a00 530.2px 532.5px,#002900 532.5px 534.8px,#005c00 534.8px 537.1px,#003300 537.1px 539.4px,#007a00 539.4px 541.7px,#001f00 541.7px 544.0px,#000a00 544.0px 546.3px,#005c00 546.3px 548.5px,#006600 548.5px 550.8px,#000a00 550.8px 553.1px,#007000 553.1px 555.4px,#006600 555.4px 557.7px,#0a0000 557.7px 560.0px,#009900 560.0px 562.3px,#00b800 562.3px 564.6px,#003300 564.6px 566.9px,#004700 566.9px 569.2px,#009900 569.2px 571.5px,#008f00 571.5px 573.8px,#001400 573.8px 576.1px,#006600 576.1px 578.4px,#001400 578.4px 580.7px,#008f00 580.7px 583.0px,#003d00 583.0px 585.3px,#001f00 585.3px 587.6px,#004700 587.6px 589.9px,#008500 589.9px 592.2px,#005c00 592.2px 594.5px,#007a00 594.5px 596.7px,#008500 596.7px 599.0px,#000a00 599.0px 601.3px,#00b800 601.3px 603.6px,#008500 603.6px 605.9px,#001400 605.9px 608.2px,#00a300 608.2px 610.5px,#001f00 610.5px 612.8px,#003d00 612.8px 615.1px,#004700 615.1px 617.4px,#006600 617.4px 619.7px,#007a00 619.7px 624.3px,#002900 624.3px 626.6px,#005c00 626.6px 628.9px,#290000 628.9px 631.2px,#003d00 631.2px 633.5px,#000a00 633.5px 635.8px,#004700 635.8px 638.1px,#002900 638.1px 640.4px,#005200 640.4px 642.7px,#00ad00 642.7px 647.2px,#000a00 647.2px 649.5px,#007000 649.5px 651.8px,#003300 651.8px 654.1px,#005c00 654.1px 656.4px,#003d00 656.4px 658.7px,#005200 658.7px 661.0px,#006600 661.0px 663.3px,#00a300 663.3px 667.9px,#140000 667.9px 672.5px,#1f0000 672.5px 674.8px,#003d00 674.8px 677.1px,#005200 677.1px 679.4px,#008f00 679.4px 681.7px,#005c00 681.7px 684.0px,#00cc00 684.0px 686.3px,#004700 686.3px 688.6px,#00a300 688.6px 690.8px,#008f00 690.8px 693.1px,#0a0000 693.1px 695.4px,#002900 695.4px 697.7px,#003300 697.7px 700.0px,#002900 700.0px 702.3px,#005c00 702.3px 704.6px,#005200 704.6px 706.9px,#003300 706.9px 709.2px,#00c200 709.2px 711.5px,#007000 711.5px 716.1px,#009900 716.1px 718.4px,#003d00 718.4px 720.7px,#001400 720.7px 723.0px,#001f00 723.0px 725.3px,#003d00 725.3px 727.6px,#003300 727.6px 729.9px,#00f500 729.9px 732.2px,#003300 732.2px 734.5px,#006600 734.5px 736.8px,#00b800 736.8px 739.0px,#005200 739.0px 741.3px,#005c00 741.3px 743.6px,#000000 743.6px 745.9px,#004700 745.9px 748.2px,#140000 748.2px 750.5px,#00d600 750.5px 752.8px,#006600 752.8px 757.4px,#00ad00 757.4px 759.7px,#006600 759.7px 762.0px)"></div><div class="r" style="top:186.67px;background:linear-gradient(90deg,#5c0000 0.0px 2.3px,#290000 2.3px 4.6px,#470000 4.6px 6.9px,#8f0000 6.9px 9.2px,#470000 9.2px 11.5px,#660000 11.5px 13.8px,#7a0000 13.8px 16.1px,#140000 16.1px 18.4px,#0a0000 18.4px 20.7px,#990000 20.7px 23.0px,#000000 23.0px 25.2px,#3d0000 25.2px 27.5px,#700000 27.5px 32.1px,#140000 32.1px 34.4px,#000000 34.4px 36.7px,#140000 36.7px 39.0px,#ad0000 39.0px 41.3px,#290000 41.3px 43.6px,#001f00 43.6px 45.9px,#470000 45.9px 48.2px,#1f0000 48.2px 50.5px,#5c0000 50.5px 52.8px,#3d0000 52.8px 55.1px,#290000 55.1px 57.4px,#7a0000 57.4px 59.7px,#002900 59.7px 62.0px,#850000 62.0px 64.3px,#7a0000 64.3px 66.6px,#140000 66.6px 68.9px,#003d00 68.9px 71.2px,#140000 71.2px 75.7px,#660000 75.7px 78.0px,#470000 78.0px 80.3px,#cc0000 80.3px 82.6px,#520000 82.6px 84.9px,#660000 84.9px 87.2px,#700000 87.2px 89.5px,#1f0000 89.5px 91.8px,#140000 91.8px 94.1px,#ad0000 94.1px 96.4px,#8f0000 96.4px 98.7px,#b80000 98.7px 101.0px,#470000 101.0px 103.3px,#330000 103.3px 105.6px,#000000 105.6px 107.9px,#330000 107.9px 110.2px,#3d0000 110.2px 114.8px,#850000 114.8px 117.1px,#eb0000 117.1px 119.3px,#990000 119.3px 121.6px,#700000 121.6px 123.9px,#5c0000 123.9px 126.2px,#330000 126.2px 128.5px,#3d0000 128.5px 130.8px,#700000 130.8px 133.1px,#7a0000 133.1px 135.4px,#470000 135.4px 140.0px,#850000 140.0px 142.3px,#8f0000 142.3px 144.6px,#7a0000 144.6px 146.9px,#660000 146.9px 149.2px,#8f0000 149.2px 151.5px,#3d0000 151.5px 153.8px,#290000 153.8px 156.1px,#0a0000 156.1px 158.4px,#470000 158.4px 160.7px,#a30000 160.7px 163.0px,#700000 163.0px 165.3px,#5c0000 165.3px 167.5px,#850000 167.5px 169.8px,#3d0000 169.8px 172.1px,#8f0000 172.1px 174.4px,#3d0000 174.4px 176.7px,#0a0000 176.7px 179.0px,#a30000 179.0px 181.3px,#140000 181.3px 183.6px,#8f0000 183.6px 185.9px,#520000 185.9px 188.2px,#a30000 188.2px 190.5px,#700000 190.5px 195.1px,#330000 195.1px 197.4px,#5c0000 197.4px 199.7px,#ad0000 199.7px 202.0px,#a30000 202.0px 206.6px,#3d0000 206.6px 208.9px,#470000 208.9px 211.2px,#b80000 211.2px 213.5px,#3d0000 213.5px 215.7px,#470000 215.7px 218.0px,#8f0000 218.0px 220.3px,#470000 220.3px 222.6px,#3d0000 222.6px 224.9px,#8f0000 224.9px 227.2px,#1f0000 227.2px 229.5px,#001f00 229.5px 231.8px,#8f0000 231.8px 234.1px,#5c0000 234.1px 236.4px,#290000 236.4px 238.7px,#e00000 238.7px 241.0px,#5c0000 241.0px 243.3px,#660000 243.3px 245.6px,#140000 245.6px 247.9px,#850000 247.9px 250.2px,#660000 250.2px 252.5px,#290000 252.5px 254.8px,#8f0000 254.8px 257.1px,#b80000 257.1px 259.4px,#660000 259.4px 263.9px,#520000 263.9px 266.2px,#7a0000 266.2px 268.5px,#000000 268.5px 270.8px,#470000 270.8px 273.1px,#8f0000 273.1px 275.4px,#990000 275.4px 277.7px,#3d0000 277.7px 280.0px,#700000 280.0px 282.3px,#330000 282.3px 284.6px,#850000 284.6px 286.9px,#7a0000 286.9px 289.2px,#330000 289.2px 291.5px,#660000 291.5px 293.8px,#700000 293.8px 296.1px,#660000 296.1px 298.4px,#470000 298.4px 300.7px,#290000 300.7px 303.0px,#5c0000 303.0px 305.3px,#a30000 305.3px 307.6px,#8f0000 307.6px 309.8px,#470000 309.8px 312.1px,#660000 312.1px 314.4px,#8f0000 314.4px 316.7px,#cc0000 316.7px 319.0px,#e00000 319.0px 321.3px,#470000 321.3px 323.6px,#850000 323.6px 328.2px,#470000 328.2px 330.5px,#5c0000 330.5px 332.8px,#700000 332.8px 335.1px,#1f0000 335.1px 337.4px,#850000 337.4px 339.7px,#8f0000 339.7px 342.0px,#850000 342.0px 344.3px,#3d0000 344.3px 346.6px,#520000 346.6px 348.9px,#290000 348.9px 351.2px,#3d0000 351.2px 353.5px,#1f0000 353.5px 355.8px,#140000 355.8px 358.0px,#660000 358.0px 360.3px,#cc0000 360.3px 362.6px,#700000 362.6px 364.9px,#290000 364.9px 367.2px,#7a0000 367.2px 369.5px,#3d0000 369.5px 371.8px,#7a0000 371.8px 376.4px,#3d0000 376.4px 378.7px,#140000 378.7px 381.0px,#000000 381.0px 385.6px,#1f0000 385.6px 387.9px,#001f00 387.9px 390.2px,#004700 390.2px 392.5px,#003300 392.5px 394.8px,#006600 394.8px 397.1px,#003d00 397.1px 399.4px,#007000 399.4px 401.7px,#290000 401.7px 406.2px,#5c0000 406.2px 408.5px,#008f00 408.5px 410.8px,#003d00 410.8px 413.1px,#001f00 413.1px 415.4px,#330000 415.4px 417.7px,#005200 417.7px 420.0px,#003300 420.0px 422.3px,#000a00 422.3px 424.6px,#008f00 424.6px 426.9px,#001f00 426.9px 429.2px,#1f0000 429.2px 431.5px,#470000 431.5px 433.8px,#004700 433.8px 436.1px,#003300 436.1px 438.4px,#1f0000 438.4px 440.7px,#700000 440.7px 443.0px,#003d00 443.0px 445.3px,#007000 445.3px 447.6px,#005200 447.6px 449.9px,#007a00 449.9px 452.2px,#005200 452.2px 454.4px,#004700 454.4px 456.7px,#003d00 456.7px 459.0px,#001400 459.0px 461.3px,#002900 461.3px 463.6px,#001f00 463.6px 465.9px,#003d00 465.9px 468.2px,#330000 468.2px 470.5px,#000a00 470.5px 472.8px,#000000 472.8px 475.1px,#007a00 475.1px 477.4px,#c20000 477.4px 479.7px,#002900 479.7px 482.0px,#005c00 482.0px 484.3px,#004700 484.3px 486.6px,#007000 486.6px 488.9px,#520000 488.9px 491.2px,#002900 491.2px 493.5px,#008500 493.5px 495.8px,#290000 495.8px 498.1px,#0a0000 498.1px 500.3px,#005c00 500.3px 502.6px,#000000 502.6px 504.9px,#005c00 504.9px 507.2px,#0a0000 507.2px 509.5px,#002900 509.5px 511.8px,#470000 511.8px 514.1px,#003300 514.1px 516.4px,#140000 516.4px 518.7px,#008f00 518.7px 521.0px,#001400 521.0px 523.3px,#003d00 523.3px 525.6px,#005c00 525.6px 527.9px,#002900 527.9px 530.2px,#000a00 530.2px 532.5px,#1f0000 532.5px 537.1px,#001f00 537.1px 539.4px,#004700 539.4px 541.7px,#000000 541.7px 544.0px,#006600 544.0px 546.3px,#000a00 546.3px 548.5px,#001f00 548.5px 550.8px,#1f0000 550.8px 553.1px,#007a00 553.1px 555.4px,#003300 555.4px 557.7px,#001f00 557.7px 560.0px,#006600 560.0px 562.3px,#009900 562.3px 564.6px,#007000 564.6px 566.9px,#003300 566.9px 569.2px,#004700 569.2px 571.5px,#009900 571.5px 573.8px,#003d00 573.8px 576.1px,#470000 576.1px 578.4px,#004700 578.4px 580.7px,#00e000 580.7px 583.0px,#00b800 583.0px 585.3px,#003d00 585.3px 587.6px,#003300 587.6px 589.9px,#007000 589.9px 594.5px,#006600 594.5px 596.7px,#00a300 596.7px 599.0px,#001400 599.0px 601.3px,#00a300 601.3px 603.6px,#00b800 603.6px 605.9px,#005200 605.9px 608.2px,#00a300 608.2px 610.5px,#007a00 610.5px 612.8px,#002900 612.8px 615.1px,#006600 615.1px 617.4px,#008500 617.4px 619.7px,#009900 619.7px 622.0px,#00ff00 622.0px 624.3px,#004700 624.3px 626.6px,#007000 626.6px 628.9px,#007a00 628.9px 631.2px,#00ad00 631.2px 633.5px,#002900 633.5px 635.8px,#000000 635.8px 638.1px,#008500 638.1px 640.4px,#008f00 640.4px 642.7px,#00a300 642.7px 644.9px,#00cc00 644.9px 647.2px,#007000 647.2px 651.8px,#001400 651.8px 654.1px,#007000 654.1px 656.4px,#008500 656.4px 658.7px,#00d600 658.7px 661.0px,#005c00 661.0px 663.3px,#006600 663.3px 665.6px,#00ad00 665.6px 667.9px,#001f00 667.9px 670.2px,#004700 670.2px 672.5px,#001400 672.5px 674.8px,#006600 674.8px 677.1px,#009900 677.1px 679.4px,#00e000 679.4px 681.7px,#00ff00 681.7px 684.0px,#00b800 684.0px 686.3px,#007000 686.3px 688.6px,#009900 688.6px 690.8px,#008f00 690.8px 693.1px,#006600 693.1px 695.4px,#00ad00 695.4px 697.7px,#00e000 697.7px 700.0px,#007000 700.0px 702.3px,#006600 702.3px 704.6px,#00c200 704.6px 706.9px,#008500 706.9px 709.2px,#00e000 709.2px 711.5px,#001f00 711.5px 713.8px,#005200 713.8px 716.1px,#00d600 716.1px 718.4px,#008f00 718.4px 720.7px,#007000 720.7px 723.0px,#001f00 723.0px 725.3px,#006600 725.3px 727.6px,#007a00 727.6px 729.9px,#00d600 729.9px 732.2px,#005c00 732.2px 734.5px,#001400 734.5px 736.8px,#00c200 736.8px 739.0px,#00b800 739.0px 741.3px,#00e000 741.3px 743.6px,#001400 743.6px 745.9px,#005c00 745.9px 748.2px,#00eb00 748.2px 750.5px,#009900 750.5px 752.8px,#004700 752.8px 755.1px,#007000 755.1px 757.4px,#005200 757.4px 759.7px,#005c00 759.7px 762.0px)"></div><div class="r" style="top:212.00px;background:linear-gradient(90deg,#290000 0.0px 2.3px,#520000 2.3px 6.9px,#990000 6.9px 9.2px,#7a0000 9.2px 11.5px,#140000 11.5px 13.8px,#850000 13.8px 16.1px,#470000 16.1px 18.4px,#1f0000 18.4px 20.7px,#8f0000 20.7px 23.0px,#000a00 23.0px 25.2px,#290000 25.2px 27.5px,#0a0000 27.5px 29.8px,#700000 29.8px 32.1px,#5c0000 32.1px 36.7px,#660000 36.7px 39.0px,#a30000 39.0px 43.6px,#003d00 43.6px 45.9px,#520000 45.9px 48.2px,#290000 48.2px 50.5px,#a30000 50.5px 52.8px,#3d0000 52.8px 57.4px,#b80000 57.4px 59.7px,#000000 59.7px 62.0px,#990000 62.0px 64.3px,#000000 64.3px 66.6px,#5c0000 66.6px 68.9px,#003300 68.9px 71.2px,#1f0000 71.2px 73.4px,#3d0000 73.4px 75.7px,#850000 75.7px 78.0px,#8f0000 78.0px 80.3px,#700000 80.3px 82.6px,#ad0000 82.6px 84.9px,#520000 84.9px 87.2px,#7a0000 87.2px 89.5px,#8f0000 89.5px 91.8px,#330000 91.8px 94.1px,#8f0000 94.1px 96.4px,#850000 96.4px 98.7px,#700000 98.7px 101.0px,#850000 101.0px 103.3px,#3d0000 103.3px 105.6px,#003300 105.6px 107.9px,#700000 107.9px 110.2px,#470000 110.2px 112.5px,#a30000 112.5px 114.8px,#700000 114.8px 117.1px,#b80000 117.1px 119.3px,#7a0000 119.3px 121.6px,#700000 121.6px 123.9px,#520000 123.9px 126.2px,#700000 126.2px 128.5px,#5c0000 128.5px 130.8px,#ad0000 130.8px 133.1px,#7a0000 133.1px 135.4px,#330000 135.4px 137.7px,#5c0000 137.7px 140.0px,#7a0000 140.0px 144.6px,#700000 144.6px 146.9px,#660000 146.9px 149.2px,#470000 149.2px 151.5px,#5c0000 151.5px 153.8px,#3d0000 153.8px 156.1px,#330000 156.1px 158.4px,#1f0000 158.4px 160.7px,#990000 160.7px 163.0px,#b80000 163.0px 165.3px,#470000 165.3px 167.5px,#ad0000 167.5px 169.8px,#700000 169.8px 172.1px,#330000 172.1px 174.4px,#0a0000 174.4px 176.7px,#000000 176.7px 179.0px,#b80000 179.0px 181.3px,#470000 181.3px 183.6px,#700000 183.6px 185.9px,#990000 185.9px 188.2px,#850000 188.2px 190.5px,#700000 190.5px 192.8px,#330000 192.8px 195.1px,#004700 195.1px 197.4px,#1f0000 197.4px 199.7px,#520000 199.7px 202.0px,#cc0000 202.0px 204.3px,#850000 204.3px 206.6px,#5c0000 206.6px 208.9px,#3d0000 208.9px 211.2px,#520000 211.2px 215.7px,#3d0000 215.7px 220.3px,#470000 220.3px 222.6px,#850000 222.6px 224.9px,#7a0000 224.9px 227.2px,#330000 227.2px 229.5px,#3d0000 229.5px 231.8px,#290000 231.8px 234.1px,#330000 234.1px 236.4px,#520000 236.4px 238.7px,#c20000 238.7px 241.0px,#520000 241.0px 243.3px,#ad0000 243.3px 245.6px,#8f0000 245.6px 250.2px,#660000 250.2px 252.5px,#850000 252.5px 254.8px,#a30000 254.8px 257.1px,#700000 257.1px 259.4px,#7a0000 259.4px 261.7px,#1f0000 261.7px 263.9px,#660000 263.9px 266.2px,#8f0000 266.2px 268.5px,#0a0000 268.5px 273.1px,#660000 273.1px 275.4px,#c20000 275.4px 277.7px,#b80000 277.7px 280.0px,#5c0000 280.0px 284.6px,#b80000 284.6px 286.9px,#850000 286.9px 289.2px,#330000 289.2px 291.5px,#3d0000 291.5px 293.8px,#8f0000 293.8px 296.1px,#5c0000 296.1px 298.4px,#140000 298.4px 300.7px,#520000 300.7px 303.0px,#660000 303.0px 305.3px,#5c0000 305.3px 307.6px,#660000 307.6px 309.8px,#5c0000 309.8px 312.1px,#520000 312.1px 314.4px,#a30000 314.4px 316.7px,#850000 316.7px 319.0px,#ad0000 319.0px 321.3px,#290000 321.3px 323.6px,#140000 323.6px 325.9px,#990000 325.9px 328.2px,#3d0000 328.2px 330.5px,#700000 330.5px 332.8px,#850000 332.8px 335.1px,#520000 335.1px 337.4px,#a30000 337.4px 339.7px,#7a0000 339.7px 342.0px,#470000 342.0px 344.3px,#5c0000 344.3px 346.6px,#520000 346.6px 348.9px,#470000 348.9px 353.5px,#0a0000 353.5px 355.8px,#290000 355.8px 358.0px,#990000 358.0px 364.9px,#3d0000 364.9px 367.2px,#470000 367.2px 369.5px,#b80000 369.5px 371.8px,#000000 371.8px 374.1px,#660000 374.1px 376.4px,#700000 376.4px 378.7px,#3d0000 378.7px 381.0px,#008500 381.0px 383.3px,#00a300 383.3px 385.6px,#0a0000 385.6px 387.9px,#004700 387.9px 390.2px,#008f00 390.2px 392.5px,#007a00 392.5px 394.8px,#007000 394.8px 397.1px,#002900 397.1px 399.4px,#008500 399.4px 401.7px,#000a00 401.7px 404.0px,#140000 404.0px 406.2px,#001f00 406.2px 408.5px,#006600 408.5px 410.8px,#001f00 410.8px 413.1px,#001400 413.1px 415.4px,#003300 415.4px 417.7px,#007a00 417.7px 420.0px,#00eb00 420.0px 422.3px,#0a0000 422.3px 424.6px,#008f00 424.6px 426.9px,#005200 426.9px 429.2px,#0a0000 429.2px 431.5px,#003d00 431.5px 433.8px,#001f00 433.8px 436.1px,#007000 436.1px 438.4px,#004700 438.4px 440.7px,#007000 440.7px 443.0px,#006600 443.0px 445.3px,#008500 445.3px 447.6px,#002900 447.6px 449.9px,#003300 449.9px 452.2px,#009900 452.2px 454.4px,#003300 454.4px 456.7px,#007a00 456.7px 459.0px,#000000 459.0px 461.3px,#140000 461.3px 463.6px,#009900 463.6px 465.9px,#008f00 465.9px 468.2px,#004700 468.2px 470.5px,#006600 470.5px 472.8px,#008f00 472.8px 475.1px,#008500 475.1px 477.4px,#cc0000 477.4px 479.7px,#004700 479.7px 482.0px,#140000 482.0px 484.3px,#003300 484.3px 486.6px,#003d00 486.6px 488.9px,#3d0000 488.9px 491.2px,#004700 491.2px 493.5px,#006600 493.5px 495.8px,#004700 495.8px 498.1px,#006600 498.1px 502.6px,#000000 502.6px 504.9px,#003300 504.9px 507.2px,#002900 507.2px 509.5px,#003d00 509.5px 511.8px,#660000 511.8px 514.1px,#003300 514.1px 516.4px,#005c00 516.4px 518.7px,#007000 518.7px 521.0px,#003300 521.0px 523.3px,#00c200 523.3px 525.6px,#290000 525.6px 527.9px,#001f00 527.9px 530.2px,#009900 530.2px 532.5px,#008f00 532.5px 534.8px,#002900 534.8px 537.1px,#001f00 537.1px 539.4px,#007000 539.4px 541.7px,#003300 541.7px 544.0px,#140000 544.0px 546.3px,#007000 546.3px 548.5px,#00ad00 548.5px 550.8px,#004700 550.8px 553.1px,#005200 553.1px 555.4px,#007a00 555.4px 557.7px,#003300 557.7px 560.0px,#0a0000 560.0px 562.3px,#003300 562.3px 564.6px,#008f00 564.6px 566.9px,#003d00 566.9px 569.2px,#008500 569.2px 571.5px,#005c00 571.5px 573.8px,#0a0000 573.8px 576.1px,#001400 576.1px 578.4px,#003300 578.4px 580.7px,#008f00 580.7px 583.0px,#009900 583.0px 585.3px,#004700 585.3px 587.6px,#000a00 587.6px 589.9px,#005c00 589.9px 592.2px,#008500 592.2px 594.5px,#00a300 594.5px 596.7px,#008f00 596.7px 599.0px,#005200 599.0px 603.6px,#00ad00 603.6px 605.9px,#003d00 605.9px 608.2px,#001f00 608.2px 610.5px,#005c00 610.5px 612.8px,#003300 612.8px 615.1px,#00a300 615.1px 619.7px,#009900 619.7px 624.3px,#0a0000 624.3px 626.6px,#006600 626.6px 628.9px,#004700 628.9px 631.2px,#00b800 631.2px 633.5px,#000000 633.5px 635.8px,#005200 635.8px 638.1px,#008f00 638.1px 640.4px,#00ff00 640.4px 642.7px,#00a300 642.7px 644.9px,#004700 644.9px 647.2px,#005200 647.2px 649.5px,#006600 649.5px 651.8px,#000000 651.8px 654.1px,#007000 654.1px 656.4px,#006600 656.4px 658.7px,#007000 658.7px 661.0px,#001400 661.0px 663.3px,#008500 663.3px 665.6px,#003d00 665.6px 667.9px,#140000 667.9px 670.2px,#000000 670.2px 672.5px,#005200 672.5px 674.8px,#002900 674.8px 677.1px,#007000 677.1px 679.4px,#00b800 679.4px 681.7px,#007000 681.7px 686.3px,#008500 686.3px 688.6px,#003300 688.6px 690.8px,#001f00 690.8px 693.1px,#000000 693.1px 695.4px,#0a0000 695.4px 697.7px,#005200 697.7px 700.0px,#001f00 700.0px 702.3px,#006600 702.3px 704.6px,#008500 704.6px 706.9px,#003300 706.9px 709.2px,#00c200 709.2px 711.5px,#006600 711.5px 713.8px,#003300 713.8px 716.1px,#00cc00 716.1px 718.4px,#002900 718.4px 720.7px,#001f00 720.7px 723.0px,#330000 723.0px 725.3px,#003300 725.3px 727.6px,#007a00 727.6px 729.9px,#006600 729.9px 732.2px,#005200 732.2px 734.5px,#007a00 734.5px 736.8px,#009900 736.8px 739.0px,#00d600 739.0px 741.3px,#00ad00 741.3px 743.6px,#003300 743.6px 745.9px,#009900 745.9px 748.2px,#001400 748.2px 750.5px,#002900 750.5px 752.8px,#003300 752.8px 755.1px,#007000 755.1px 757.4px,#009900 757.4px 759.7px,#00b800 759.7px 762.0px)"></div><div class="r" style="top:237.33px;background:linear-gradient(90deg,#700000 0.0px 2.3px,#000000 2.3px 4.6px,#330000 4.6px 6.9px,#ad0000 6.9px 9.2px,#5c0000 9.2px 11.5px,#0a0000 11.5px 13.8px,#850000 13.8px 16.1px,#290000 16.1px 18.4px,#000a00 18.4px 20.7px,#5c0000 20.7px 23.0px,#001f00 23.0px 25.2px,#330000 25.2px 27.5px,#1f0000 27.5px 29.8px,#3d0000 29.8px 32.1px,#7a0000 32.1px 34.4px,#000a00 34.4px 36.7px,#660000 36.7px 39.0px,#cc0000 39.0px 41.3px,#7a0000 41.3px 43.6px,#000000 43.6px 45.9px,#700000 45.9px 48.2px,#330000 48.2px 50.5px,#520000 50.5px 52.8px,#470000 52.8px 55.1px,#660000 55.1px 57.4px,#700000 57.4px 59.7px,#000a00 59.7px 62.0px,#660000 62.0px 64.3px,#001f00 64.3px 66.6px,#000000 66.6px 68.9px,#003300 68.9px 71.2px,#520000 71.2px 73.4px,#3d0000 73.4px 75.7px,#990000 75.7px 78.0px,#5c0000 78.0px 80.3px,#a30000 80.3px 82.6px,#520000 82.6px 84.9px,#7a0000 84.9px 87.2px,#290000 87.2px 89.5px,#8f0000 89.5px 91.8px,#000000 91.8px 94.1px,#b80000 94.1px 96.4px,#ad0000 96.4px 101.0px,#290000 101.0px 103.3px,#140000 103.3px 105.6px,#660000 105.6px 107.9px,#470000 107.9px 110.2px,#a30000 110.2px 112.5px,#7a0000 112.5px 114.8px,#f50000 114.8px 117.1px,#b80000 117.1px 119.3px,#7a0000 119.3px 121.6px,#5c0000 121.6px 123.9px,#3d0000 123.9px 126.2px,#470000 126.2px 128.5px,#3d0000 128.5px 130.8px,#330000 130.8px 133.1px,#cc0000 133.1px 135.4px,#330000 135.4px 137.7px,#5c0000 137.7px 140.0px,#660000 140.0px 142.3px,#5c0000 142.3px 149.2px,#660000 149.2px 151.5px,#7a0000 151.5px 153.8px,#700000 153.8px 156.1px,#5c0000 156.1px 158.4px,#a30000 158.4px 160.7px,#990000 160.7px 165.3px,#5c0000 165.3px 167.5px,#850000 167.5px 172.1px,#3d0000 172.1px 174.4px,#470000 174.4px 176.7px,#290000 176.7px 179.0px,#990000 179.0px 181.3px,#140000 181.3px 183.6px,#990000 183.6px 185.9px,#ad0000 185.9px 190.5px,#c20000 190.5px 192.8px,#290000 192.8px 195.1px,#140000 195.1px 197.4px,#290000 197.4px 199.7px,#850000 199.7px 202.0px,#c20000 202.0px 204.3px,#660000 204.3px 206.6px,#520000 206.6px 208.9px,#3d0000 208.9px 211.2px,#660000 211.2px 213.5px,#520000 213.5px 215.7px,#7a0000 215.7px 220.3px,#8f0000 220.3px 222.6px,#700000 222.6px 224.9px,#520000 224.9px 227.2px,#5c0000 227.2px 229.5px,#290000 229.5px 231.8px,#3d0000 231.8px 234.1px,#520000 234.1px 236.4px,#990000 236.4px 238.7px,#cc0000 238.7px 241.0px,#700000 241.0px 243.3px,#850000 243.3px 245.6px,#660000 245.6px 247.9px,#5c0000 247.9px 250.2px,#3d0000 250.2px 252.5px,#290000 252.5px 254.8px,#990000 254.8px 257.1px,#7a0000 257.1px 259.4px,#b80000 259.4px 261.7px,#470000 261.7px 263.9px,#1f0000 263.9px 266.2px,#ad0000 266.2px 268.5px,#1f0000 268.5px 270.8px,#001400 270.8px 273.1px,#5c0000 273.1px 275.4px,#b80000 275.4px 277.7px,#520000 277.7px 280.0px,#660000 280.0px 282.3px,#5c0000 282.3px 284.6px,#990000 284.6px 286.9px,#700000 286.9px 289.2px,#470000 289.2px 291.5px,#8f0000 291.5px 293.8px,#700000 293.8px 296.1px,#330000 296.1px 298.4px,#700000 298.4px 300.7px,#520000 300.7px 303.0px,#a30000 303.0px 305.3px,#520000 305.3px 307.6px,#990000 307.6px 309.8px,#1f0000 309.8px 312.1px,#470000 312.1px 314.4px,#7a0000 314.4px 316.7px,#5c0000 316.7px 319.0px,#b80000 319.0px 321.3px,#1f0000 321.3px 323.6px,#3d0000 323.6px 325.9px,#d60000 325.9px 328.2px,#520000 328.2px 332.8px,#140000 332.8px 335.1px,#850000 335.1px 337.4px,#c20000 337.4px 339.7px,#3d0000 339.7px 342.0px,#520000 342.0px 344.3px,#3d0000 344.3px 346.6px,#660000 346.6px 348.9px,#0a0000 348.9px 351.2px,#140000 351.2px 353.5px,#330000 353.5px 355.8px,#290000 355.8px 358.0px,#5c0000 358.0px 360.3px,#d60000 360.3px 362.6px,#b80000 362.6px 364.9px,#140000 364.9px 367.2px,#470000 367.2px 369.5px,#8f0000 369.5px 371.8px,#470000 371.8px 374.1px,#8f0000 374.1px 376.4px,#000000 376.4px 378.7px,#520000 378.7px 381.0px,#1f0000 381.0px 383.3px,#001400 383.3px 385.6px,#005200 385.6px 390.2px,#006600 390.2px 392.5px,#000a00 392.5px 394.8px,#001400 394.8px 399.4px,#00b800 399.4px 401.7px,#330000 401.7px 404.0px,#003d00 404.0px 406.2px,#330000 406.2px 408.5px,#001f00 408.5px 410.8px,#330000 410.8px 413.1px,#0a0000 413.1px 415.4px,#005200 415.4px 417.7px,#008f00 417.7px 422.3px,#005200 422.3px 424.6px,#003d00 424.6px 426.9px,#006600 426.9px 429.2px,#007a00 429.2px 431.5px,#005c00 431.5px 433.8px,#004700 433.8px 436.1px,#001400 436.1px 438.4px,#000000 438.4px 440.7px,#290000 440.7px 443.0px,#001400 443.0px 445.3px,#00ad00 445.3px 447.6px,#003300 447.6px 449.9px,#330000 449.9px 452.2px,#003300 452.2px 454.4px,#005c00 454.4px 459.0px,#007a00 459.0px 461.3px,#005c00 461.3px 463.6px,#005200 463.6px 465.9px,#000a00 465.9px 468.2px,#003300 468.2px 470.5px,#009900 470.5px 472.8px,#001400 472.8px 475.1px,#008f00 475.1px 477.4px,#d60000 477.4px 479.7px,#003300 479.7px 486.6px,#001400 486.6px 488.9px,#1f0000 488.9px 491.2px,#007a00 491.2px 493.5px,#003300 493.5px 495.8px,#3d0000 495.8px 500.3px,#005200 500.3px 502.6px,#1f0000 502.6px 504.9px,#001f00 504.9px 507.2px,#008f00 507.2px 509.5px,#004700 509.5px 511.8px,#290000 511.8px 514.1px,#005200 514.1px 516.4px,#003d00 516.4px 518.7px,#007a00 518.7px 521.0px,#000a00 521.0px 523.3px,#002900 523.3px 525.6px,#001400 525.6px 527.9px,#000000 527.9px 530.2px,#003d00 530.2px 532.5px,#000a00 532.5px 534.8px,#004700 534.8px 537.1px,#003d00 537.1px 539.4px,#002900 539.4px 541.7px,#000a00 541.7px 546.3px,#001f00 546.3px 548.5px,#006600 548.5px 550.8px,#001f00 550.8px 553.1px,#005c00 553.1px 555.4px,#003300 555.4px 557.7px,#006600 557.7px 560.0px,#000a00 560.0px 562.3px,#0a0000 562.3px 564.6px,#00b800 564.6px 566.9px,#000000 566.9px 569.2px,#005c00 569.2px 573.8px,#003d00 573.8px 576.1px,#0a0000 576.1px 578.4px,#007a00 578.4px 580.7px,#006600 580.7px 583.0px,#00a300 583.0px 585.3px,#000a00 585.3px 587.6px,#007a00 587.6px 589.9px,#008500 589.9px 592.2px,#00ad00 592.2px 594.5px,#003d00 594.5px 596.7px,#00ff00 596.7px 599.0px,#005200 599.0px 601.3px,#006600 601.3px 603.6px,#00cc00 603.6px 605.9px,#001400 605.9px 608.2px,#008500 608.2px 612.8px,#006600 612.8px 615.1px,#008f00 615.1px 617.4px,#006600 617.4px 619.7px,#007000 619.7px 622.0px,#00b800 622.0px 626.6px,#00c200 626.6px 628.9px,#00b800 628.9px 631.2px,#00e000 631.2px 633.5px,#004700 633.5px 635.8px,#000a00 635.8px 638.1px,#009900 638.1px 640.4px,#00a300 640.4px 642.7px,#003d00 642.7px 644.9px,#009900 644.9px 647.2px,#005200 647.2px 649.5px,#00b800 649.5px 651.8px,#008500 651.8px 654.1px,#006600 654.1px 656.4px,#005200 656.4px 658.7px,#00eb00 658.7px 661.0px,#008f00 661.0px 663.3px,#00d600 663.3px 665.6px,#00cc00 665.6px 667.9px,#7a0000 667.9px 670.2px,#003300 670.2px 672.5px,#00d600 672.5px 677.1px,#007000 677.1px 679.4px,#00eb00 679.4px 681.7px,#00d600 681.7px 684.0px,#00a300 684.0px 686.3px,#005c00 686.3px 688.6px,#003300 688.6px 690.8px,#00b800 690.8px 693.1px,#002900 693.1px 695.4px,#005200 695.4px 697.7px,#006600 697.7px 700.0px,#008500 700.0px 702.3px,#007a00 702.3px 704.6px,#00b800 704.6px 706.9px,#00cc00 706.9px 709.2px,#00b800 709.2px 711.5px,#004700 711.5px 713.8px,#000a00 713.8px 716.1px,#00e000 716.1px 718.4px,#00b800 718.4px 720.7px,#004700 720.7px 723.0px,#000a00 723.0px 725.3px,#006600 725.3px 727.6px,#007a00 727.6px 729.9px,#00eb00 729.9px 732.2px,#007a00 732.2px 734.5px,#00eb00 734.5px 736.8px,#00a300 736.8px 739.0px,#002900 739.0px 741.3px,#00ff00 741.3px 743.6px,#003d00 743.6px 745.9px,#00eb00 745.9px 748.2px,#005c00 748.2px 750.5px,#009900 750.5px 752.8px,#00a300 752.8px 755.1px,#006600 755.1px 757.4px,#00c200 757.4px 759.7px,#00ad00 759.7px 762.0px)"></div><div class="r" style="top:262.67px;background:linear-gradient(90deg,#290000 0.0px 4.6px,#470000 4.6px 6.9px,#850000 6.9px 9.2px,#470000 9.2px 11.5px,#001f00 11.5px 13.8px,#ad0000 13.8px 16.1px,#140000 16.1px 18.4px,#002900 18.4px 20.7px,#660000 20.7px 23.0px,#003300 23.0px 25.2px,#1f0000 25.2px 27.5px,#0a0000 27.5px 32.1px,#3d0000 32.1px 34.4px,#140000 34.4px 36.7px,#3d0000 36.7px 39.0px,#7a0000 39.0px 41.3px,#3d0000 41.3px 43.6px,#003300 43.6px 45.9px,#520000 45.9px 48.2px,#000000 48.2px 50.5px,#850000 50.5px 52.8px,#000a00 52.8px 55.1px,#3d0000 55.1px 59.7px,#000000 59.7px 62.0px,#700000 62.0px 64.3px,#001f00 64.3px 68.9px,#006600 68.9px 71.2px,#1f0000 71.2px 73.4px,#330000 73.4px 75.7px,#3d0000 75.7px 78.0px,#1f0000 78.0px 80.3px,#470000 80.3px 84.9px,#330000 84.9px 87.2px,#5c0000 87.2px 89.5px,#3d0000 89.5px 91.8px,#1f0000 91.8px 94.1px,#e00000 94.1px 96.4px,#7a0000 96.4px 98.7px,#700000 98.7px 101.0px,#470000 101.0px 103.3px,#140000 103.3px 105.6px,#0a0000 105.6px 107.9px,#1f0000 107.9px 110.2px,#700000 110.2px 112.5px,#520000 112.5px 114.8px,#8f0000 114.8px 119.3px,#5c0000 119.3px 121.6px,#700000 121.6px 123.9px,#520000 123.9px 126.2px,#140000 126.2px 128.5px,#001400 128.5px 130.8px,#700000 130.8px 133.1px,#660000 133.1px 135.4px,#290000 135.4px 140.0px,#1f0000 140.0px 142.3px,#e00000 142.3px 144.6px,#290000 144.6px 146.9px,#470000 146.9px 149.2px,#140000 149.2px 153.8px,#470000 153.8px 156.1px,#3d0000 156.1px 158.4px,#660000 158.4px 160.7px,#a30000 160.7px 163.0px,#660000 163.0px 165.3px,#520000 165.3px 167.5px,#850000 167.5px 169.8px,#470000 169.8px 172.1px,#3d0000 172.1px 174.4px,#000a00 174.4px 176.7px,#001400 176.7px 179.0px,#850000 179.0px 181.3px,#330000 181.3px 183.6px,#700000 183.6px 185.9px,#520000 185.9px 188.2px,#660000 188.2px 190.5px,#470000 190.5px 195.1px,#005200 195.1px 197.4px,#000a00 197.4px 199.7px,#520000 199.7px 202.0px,#e00000 202.0px 204.3px,#330000 204.3px 206.6px,#0a0000 206.6px 208.9px,#000000 208.9px 211.2px,#5c0000 211.2px 213.5px,#330000 213.5px 215.7px,#290000 215.7px 218.0px,#850000 218.0px 220.3px,#7a0000 220.3px 222.6px,#470000 222.6px 224.9px,#c20000 224.9px 227.2px,#140000 227.2px 229.5px,#850000 229.5px 231.8px,#1f0000 231.8px 234.1px,#140000 234.1px 236.4px,#470000 236.4px 238.7px,#8f0000 238.7px 241.0px,#290000 241.0px 243.3px,#5c0000 243.3px 245.6px,#850000 245.6px 247.9px,#140000 247.9px 250.2px,#290000 250.2px 252.5px,#660000 252.5px 254.8px,#7a0000 254.8px 257.1px,#3d0000 257.1px 259.4px,#850000 259.4px 261.7px,#5c0000 261.7px 263.9px,#330000 263.9px 266.2px,#660000 266.2px 268.5px,#140000 268.5px 270.8px,#002900 270.8px 273.1px,#290000 273.1px 275.4px,#850000 275.4px 277.7px,#520000 277.7px 280.0px,#470000 280.0px 282.3px,#0a0000 282.3px 284.6px,#700000 284.6px 286.9px,#470000 286.9px 289.2px,#290000 289.2px 291.5px,#520000 291.5px 293.8px,#990000 293.8px 296.1px,#7a0000 296.1px 298.4px,#1f0000 298.4px 300.7px,#0a0000 300.7px 303.0px,#330000 303.0px 305.3px,#7a0000 305.3px 307.6px,#660000 307.6px 309.8px,#290000 309.8px 312.1px,#7a0000 312.1px 314.4px,#ad0000 314.4px 316.7px,#7a0000 316.7px 319.0px,#8f0000 319.0px 321.3px,#000000 321.3px 323.6px,#290000 323.6px 325.9px,#8f0000 325.9px 328.2px,#660000 328.2px 330.5px,#3d0000 330.5px 335.1px,#290000 335.1px 337.4px,#8f0000 337.4px 339.7px,#470000 339.7px 342.0px,#3d0000 342.0px 346.6px,#850000 346.6px 348.9px,#330000 348.9px 351.2px,#3d0000 351.2px 353.5px,#000a00 353.5px 355.8px,#3d0000 355.8px 358.0px,#290000 358.0px 360.3px,#7a0000 360.3px 364.9px,#1f0000 364.9px 367.2px,#330000 367.2px 369.5px,#3d0000 369.5px 371.8px,#140000 371.8px 374.1px,#850000 374.1px 376.4px,#000000 376.4px 378.7px,#000a00 378.7px 381.0px,#002900 381.0px 383.3px,#001f00 383.3px 385.6px,#520000 385.6px 387.9px,#290000 387.9px 390.2px,#000a00 390.2px 392.5px,#002900 392.5px 394.8px,#001400 394.8px 397.1px,#002900 397.1px 399.4px,#004700 399.4px 401.7px,#700000 401.7px 404.0px,#140000 404.0px 406.2px,#330000 406.2px 408.5px,#005c00 408.5px 410.8px,#290000 410.8px 413.1px,#3d0000 413.1px 415.4px,#000a00 415.4px 417.7px,#990000 417.7px 420.0px,#000000 420.0px 422.3px,#000a00 422.3px 424.6px,#0a0000 424.6px 426.9px,#004700 426.9px 429.2px,#330000 429.2px 431.5px,#001400 431.5px 433.8px,#006600 433.8px 436.1px,#330000 436.1px 438.4px,#003d00 438.4px 440.7px,#470000 440.7px 443.0px,#0a0000 443.0px 445.3px,#004700 445.3px 447.6px,#0a0000 447.6px 449.9px,#000000 449.9px 452.2px,#001400 452.2px 454.4px,#002900 454.4px 456.7px,#008500 456.7px 459.0px,#001f00 459.0px 461.3px,#140000 461.3px 463.6px,#002900 463.6px 465.9px,#1f0000 465.9px 468.2px,#3d0000 468.2px 470.5px,#003300 470.5px 472.8px,#002900 472.8px 475.1px,#004700 475.1px 477.4px,#b80000 477.4px 479.7px,#290000 479.7px 482.0px,#005c00 482.0px 484.3px,#003d00 484.3px 486.6px,#001400 486.6px 488.9px,#290000 488.9px 491.2px,#000a00 491.2px 493.5px,#001f00 493.5px 495.8px,#700000 495.8px 498.1px,#000a00 498.1px 504.9px,#000000 504.9px 507.2px,#005c00 507.2px 509.5px,#000a00 509.5px 511.8px,#a30000 511.8px 514.1px,#005200 514.1px 518.7px,#000000 518.7px 521.0px,#0a0000 521.0px 523.3px,#000000 523.3px 525.6px,#290000 525.6px 527.9px,#000000 527.9px 530.2px,#140000 530.2px 532.5px,#0a0000 532.5px 534.8px,#002900 534.8px 537.1px,#140000 537.1px 539.4px,#000a00 539.4px 541.7px,#ad0000 541.7px 544.0px,#000a00 544.0px 546.3px,#000000 546.3px 550.8px,#5c0000 550.8px 553.1px,#520000 553.1px 555.4px,#140000 555.4px 557.7px,#000000 557.7px 560.0px,#3d0000 560.0px 562.3px,#001400 562.3px 564.6px,#000a00 564.6px 566.9px,#000000 566.9px 569.2px,#001400 569.2px 571.5px,#007a00 571.5px 573.8px,#004700 573.8px 576.1px,#000a00 576.1px 578.4px,#005200 578.4px 580.7px,#003d00 580.7px 583.0px,#00cc00 583.0px 585.3px,#000a00 585.3px 587.6px,#001f00 587.6px 589.9px,#005c00 589.9px 592.2px,#008f00 592.2px 594.5px,#005c00 594.5px 596.7px,#00c200 596.7px 599.0px,#003d00 599.0px 601.3px,#008500 601.3px 603.6px,#00eb00 603.6px 605.9px,#003d00 605.9px 608.2px,#00ff00 608.2px 610.5px,#005c00 610.5px 612.8px,#003300 612.8px 615.1px,#008f00 615.1px 617.4px,#008500 617.4px 619.7px,#00ff00 619.7px 622.0px,#00d600 622.0px 624.3px,#00a300 624.3px 626.6px,#00ff00 626.6px 628.9px,#00d600 628.9px 631.2px,#007a00 631.2px 633.5px,#001f00 633.5px 635.8px,#004700 635.8px 638.1px,#00ff00 638.1px 640.4px,#008f00 640.4px 642.7px,#005c00 642.7px 644.9px,#00ff00 644.9px 647.2px,#005200 647.2px 649.5px,#007000 649.5px 651.8px,#009900 651.8px 654.1px,#00b800 654.1px 656.4px,#00e000 656.4px 658.7px,#00b800 658.7px 661.0px,#008f00 661.0px 663.3px,#00c200 663.3px 665.6px,#00ff00 665.6px 667.9px,#002900 667.9px 670.2px,#006600 670.2px 672.5px,#007a00 672.5px 674.8px,#00ff00 674.8px 677.1px,#006600 677.1px 679.4px,#00e000 679.4px 681.7px,#008500 681.7px 684.0px,#00cc00 684.0px 686.3px,#00d600 686.3px 688.6px,#001400 688.6px 690.8px,#004700 690.8px 693.1px,#002900 693.1px 695.4px,#00cc00 695.4px 697.7px,#00ad00 697.7px 700.0px,#002900 700.0px 702.3px,#003300 702.3px 704.6px,#00b800 704.6px 706.9px,#008f00 706.9px 709.2px,#00ff00 709.2px 711.5px,#001f00 711.5px 713.8px,#00b800 713.8px 716.1px,#00ad00 716.1px 718.4px,#003300 718.4px 720.7px,#007a00 720.7px 723.0px,#004700 723.0px 725.3px,#140000 725.3px 727.6px,#005200 727.6px 729.9px,#00e000 729.9px 732.2px,#004700 732.2px 734.5px,#007000 734.5px 736.8px,#008500 736.8px 739.0px,#00a300 739.0px 741.3px,#007a00 741.3px 743.6px,#002900 743.6px 745.9px,#008f00 745.9px 748.2px,#005c00 748.2px 750.5px,#00a300 750.5px 752.8px,#00c200 752.8px 755.1px,#008f00 755.1px 757.4px,#008500 757.4px 762.0px)"></div><div class="r" style="top:288.00px;background:linear-gradient(90deg,#470000 0.0px 2.3px,#1f0000 2.3px 4.6px,#520000 4.6px 6.9px,#7a0000 6.9px 9.2px,#290000 9.2px 11.5px,#140000 11.5px 13.8px,#a30000 13.8px 16.1px,#000a00 16.1px 18.4px,#330000 18.4px 20.7px,#a30000 20.7px 23.0px,#006600 23.0px 25.2px,#3d0000 25.2px 27.5px,#290000 27.5px 29.8px,#7a0000 29.8px 32.1px,#470000 32.1px 36.7px,#850000 36.7px 39.0px,#8f0000 39.0px 43.6px,#004700 43.6px 45.9px,#5c0000 45.9px 48.2px,#330000 48.2px 50.5px,#520000 50.5px 52.8px,#7a0000 52.8px 55.1px,#470000 55.1px 57.4px,#700000 57.4px 59.7px,#1f0000 59.7px 62.0px,#7a0000 62.0px 64.3px,#3d0000 64.3px 66.6px,#1f0000 66.6px 68.9px,#000a00 68.9px 71.2px,#1f0000 71.2px 73.4px,#3d0000 73.4px 75.7px,#520000 75.7px 80.3px,#850000 80.3px 82.6px,#1f0000 82.6px 84.9px,#5c0000 84.9px 87.2px,#660000 87.2px 89.5px,#7a0000 89.5px 91.8px,#520000 91.8px 94.1px,#ad0000 94.1px 96.4px,#c20000 96.4px 98.7px,#850000 98.7px 101.0px,#140000 101.0px 103.3px,#0a0000 103.3px 105.6px,#520000 105.6px 107.9px,#5c0000 107.9px 110.2px,#850000 110.2px 114.8px,#990000 114.8px 117.1px,#8f0000 117.1px 119.3px,#850000 119.3px 121.6px,#8f0000 121.6px 123.9px,#660000 123.9px 126.2px,#470000 126.2px 128.5px,#0a0000 128.5px 130.8px,#850000 130.8px 137.7px,#5c0000 137.7px 142.3px,#850000 142.3px 144.6px,#660000 144.6px 146.9px,#7a0000 146.9px 149.2px,#1f0000 149.2px 151.5px,#5c0000 151.5px 153.8px,#700000 153.8px 156.1px,#3d0000 156.1px 158.4px,#520000 158.4px 160.7px,#cc0000 160.7px 163.0px,#c20000 163.0px 165.3px,#290000 165.3px 167.5px,#c20000 167.5px 169.8px,#8f0000 169.8px 172.1px,#7a0000 172.1px 174.4px,#0a0000 174.4px 176.7px,#000000 176.7px 179.0px,#660000 179.0px 181.3px,#700000 181.3px 183.6px,#ad0000 183.6px 185.9px,#850000 185.9px 188.2px,#8f0000 188.2px 190.5px,#c20000 190.5px 192.8px,#b80000 192.8px 195.1px,#000000 195.1px 197.4px,#520000 197.4px 199.7px,#cc0000 199.7px 202.0px,#b80000 202.0px 204.3px,#520000 204.3px 206.6px,#8f0000 206.6px 208.9px,#7a0000 208.9px 211.2px,#ad0000 211.2px 213.5px,#330000 213.5px 218.0px,#7a0000 218.0px 220.3px,#990000 220.3px 222.6px,#660000 222.6px 224.9px,#7a0000 224.9px 227.2px,#330000 227.2px 229.5px,#470000 229.5px 231.8px,#5c0000 231.8px 234.1px,#660000 234.1px 238.7px,#ad0000 238.7px 241.0px,#470000 241.0px 243.3px,#a30000 243.3px 245.6px,#7a0000 245.6px 247.9px,#850000 247.9px 250.2px,#700000 250.2px 252.5px,#470000 252.5px 254.8px,#850000 254.8px 257.1px,#7a0000 257.1px 259.4px,#c20000 259.4px 261.7px,#140000 261.7px 263.9px,#850000 263.9px 266.2px,#990000 266.2px 268.5px,#1f0000 268.5px 270.8px,#000000 270.8px 273.1px,#7a0000 273.1px 275.4px,#1f0000 275.4px 277.7px,#850000 277.7px 280.0px,#470000 280.0px 282.3px,#290000 282.3px 284.6px,#660000 284.6px 286.9px,#850000 286.9px 289.2px,#700000 289.2px 291.5px,#660000 291.5px 293.8px,#ad0000 293.8px 296.1px,#470000 296.1px 298.4px,#5c0000 298.4px 300.7px,#520000 300.7px 303.0px,#7a0000 303.0px 305.3px,#5c0000 305.3px 307.6px,#660000 307.6px 309.8px,#520000 309.8px 312.1px,#5c0000 312.1px 314.4px,#ad0000 314.4px 316.7px,#8f0000 316.7px 319.0px,#cc0000 319.0px 321.3px,#1f0000 321.3px 323.6px,#470000 323.6px 325.9px,#d60000 325.9px 328.2px,#520000 328.2px 330.5px,#700000 330.5px 332.8px,#ad0000 332.8px 335.1px,#470000 335.1px 337.4px,#990000 337.4px 339.7px,#a30000 339.7px 342.0px,#8f0000 342.0px 344.3px,#3d0000 344.3px 346.6px,#520000 346.6px 351.2px,#660000 351.2px 353.5px,#330000 353.5px 355.8px,#470000 355.8px 358.0px,#d60000 358.0px 360.3px,#520000 360.3px 362.6px,#b80000 362.6px 364.9px,#470000 364.9px 367.2px,#520000 367.2px 369.5px,#660000 369.5px 371.8px,#990000 371.8px 374.1px,#660000 374.1px 376.4px,#470000 376.4px 378.7px,#330000 378.7px 381.0px,#006600 381.0px 383.3px,#001f00 383.3px 385.6px,#005200 385.6px 387.9px,#001f00 387.9px 390.2px,#007a00 390.2px 392.5px,#00cc00 392.5px 394.8px,#00a300 394.8px 397.1px,#002900 397.1px 399.4px,#006600 399.4px 401.7px,#002900 401.7px 404.0px,#001f00 404.0px 406.2px,#005200 406.2px 408.5px,#00b800 408.5px 410.8px,#006600 410.8px 413.1px,#003d00 413.1px 415.4px,#008500 415.4px 417.7px,#00b800 417.7px 420.0px,#003300 420.0px 422.3px,#005200 422.3px 424.6px,#00d600 424.6px 426.9px,#00a300 426.9px 429.2px,#009900 429.2px 433.8px,#00ad00 433.8px 436.1px,#00b800 436.1px 438.4px,#006600 438.4px 440.7px,#003d00 440.7px 443.0px,#004700 443.0px 445.3px,#00d600 445.3px 447.6px,#004700 447.6px 449.9px,#007a00 449.9px 452.2px,#00a300 452.2px 454.4px,#008f00 454.4px 456.7px,#006600 456.7px 459.0px,#000a00 459.0px 461.3px,#004700 461.3px 463.6px,#001400 463.6px 465.9px,#005200 465.9px 468.2px,#00cc00 468.2px 470.5px,#009900 470.5px 472.8px,#007000 472.8px 475.1px,#009900 475.1px 477.4px,#3d0000 477.4px 479.7px,#006600 479.7px 482.0px,#007000 482.0px 484.3px,#001f00 484.3px 486.6px,#002900 486.6px 488.9px,#005200 488.9px 493.5px,#00a300 493.5px 495.8px,#140000 495.8px 498.1px,#007a00 498.1px 500.3px,#005c00 500.3px 502.6px,#007000 502.6px 504.9px,#009900 504.9px 507.2px,#008500 507.2px 509.5px,#007a00 509.5px 511.8px,#0a0000 511.8px 514.1px,#008f00 514.1px 518.7px,#00eb00 518.7px 521.0px,#005c00 521.0px 523.3px,#00ff00 523.3px 525.6px,#00b800 525.6px 527.9px,#004700 527.9px 530.2px,#007000 530.2px 532.5px,#00a300 532.5px 534.8px,#005200 534.8px 537.1px,#008500 537.1px 539.4px,#00a300 539.4px 541.7px,#0a0000 541.7px 544.0px,#003300 544.0px 546.3px,#008500 546.3px 548.5px,#001f00 548.5px 550.8px,#003d00 550.8px 553.1px,#005c00 553.1px 555.4px,#005200 555.4px 557.7px,#000000 557.7px 560.0px,#005c00 560.0px 564.6px,#00d600 564.6px 566.9px,#005200 566.9px 569.2px,#008500 569.2px 571.5px,#00cc00 571.5px 573.8px,#003d00 573.8px 576.1px,#0a0000 576.1px 578.4px,#008f00 578.4px 580.7px,#001f00 580.7px 583.0px,#00a300 583.0px 585.3px,#006600 585.3px 587.6px,#140000 587.6px 589.9px,#007a00 589.9px 592.2px,#009900 592.2px 596.7px,#007000 596.7px 599.0px,#005c00 599.0px 601.3px,#007a00 601.3px 603.6px,#00ad00 603.6px 605.9px,#0a0000 605.9px 608.2px,#003300 608.2px 610.5px,#330000 610.5px 612.8px,#000a00 612.8px 615.1px,#001f00 615.1px 617.4px,#0a0000 617.4px 619.7px,#00ad00 619.7px 622.0px,#00b800 622.0px 624.3px,#002900 624.3px 626.6px,#004700 626.6px 628.9px,#000a00 628.9px 631.2px,#008f00 631.2px 633.5px,#007000 633.5px 635.8px,#005c00 635.8px 638.1px,#003d00 638.1px 640.4px,#007a00 640.4px 642.7px,#004700 642.7px 644.9px,#00c200 644.9px 647.2px,#003300 647.2px 649.5px,#00a300 649.5px 651.8px,#290000 651.8px 654.1px,#002900 654.1px 656.4px,#003300 656.4px 658.7px,#005c00 658.7px 661.0px,#140000 661.0px 663.3px,#004700 663.3px 665.6px,#000000 665.6px 667.9px,#990000 667.9px 670.2px,#140000 670.2px 672.5px,#005200 672.5px 674.8px,#005c00 674.8px 677.1px,#006600 677.1px 679.4px,#009900 679.4px 681.7px,#005c00 681.7px 684.0px,#00d600 684.0px 686.3px,#005c00 686.3px 688.6px,#003300 688.6px 690.8px,#009900 690.8px 693.1px,#0a0000 693.1px 695.4px,#006600 695.4px 697.7px,#003d00 697.7px 702.3px,#002900 702.3px 704.6px,#001f00 704.6px 706.9px,#005200 706.9px 709.2px,#007a00 709.2px 711.5px,#000000 711.5px 713.8px,#000a00 713.8px 716.1px,#00b800 716.1px 718.4px,#140000 718.4px 720.7px,#330000 720.7px 723.0px,#660000 723.0px 725.3px,#140000 725.3px 727.6px,#004700 727.6px 729.9px,#008f00 729.9px 732.2px,#290000 732.2px 734.5px,#005c00 734.5px 736.8px,#007000 736.8px 739.0px,#005200 739.0px 741.3px,#007000 741.3px 743.6px,#001400 743.6px 745.9px,#008f00 745.9px 748.2px,#0a0000 748.2px 750.5px,#006600 750.5px 752.8px,#002900 752.8px 755.1px,#000000 755.1px 757.4px,#470000 757.4px 759.7px,#007000 759.7px 762.0px)"></div><div class="r" style="top:313.33px;background:linear-gradient(90deg,#3d0000 0.0px 2.3px,#001400 2.3px 4.6px,#700000 4.6px 6.9px,#5c0000 6.9px 9.2px,#660000 9.2px 11.5px,#1f0000 11.5px 13.8px,#990000 13.8px 16.1px,#0a0000 16.1px 18.4px,#000a00 18.4px 20.7px,#5c0000 20.7px 23.0px,#004700 23.0px 25.2px,#1f0000 25.2px 27.5px,#290000 27.5px 29.8px,#470000 29.8px 34.4px,#330000 34.4px 36.7px,#470000 36.7px 39.0px,#700000 39.0px 41.3px,#520000 41.3px 43.6px,#005c00 43.6px 45.9px,#700000 45.9px 48.2px,#1f0000 48.2px 50.5px,#ad0000 50.5px 52.8px,#330000 52.8px 55.1px,#3d0000 55.1px 57.4px,#a30000 57.4px 59.7px,#520000 59.7px 62.0px,#8f0000 62.0px 64.3px,#000000 64.3px 66.6px,#290000 66.6px 68.9px,#006600 68.9px 71.2px,#3d0000 71.2px 73.4px,#660000 73.4px 78.0px,#470000 78.0px 80.3px,#a30000 80.3px 82.6px,#5c0000 82.6px 84.9px,#520000 84.9px 87.2px,#7a0000 87.2px 89.5px,#8f0000 89.5px 91.8px,#470000 91.8px 94.1px,#b80000 94.1px 96.4px,#cc0000 96.4px 98.7px,#b80000 98.7px 101.0px,#1f0000 101.0px 105.6px,#3d0000 105.6px 107.9px,#0a0000 107.9px 110.2px,#7a0000 110.2px 112.5px,#520000 112.5px 114.8px,#700000 114.8px 117.1px,#b80000 117.1px 119.3px,#850000 119.3px 121.6px,#5c0000 121.6px 123.9px,#700000 123.9px 126.2px,#520000 126.2px 128.5px,#470000 128.5px 130.8px,#000a00 130.8px 133.1px,#5c0000 133.1px 135.4px,#3d0000 135.4px 140.0px,#850000 140.0px 142.3px,#470000 142.3px 144.6px,#3d0000 144.6px 149.2px,#290000 149.2px 151.5px,#5c0000 151.5px 153.8px,#520000 153.8px 156.1px,#330000 156.1px 158.4px,#0a0000 158.4px 160.7px,#850000 160.7px 163.0px,#660000 163.0px 165.3px,#700000 165.3px 167.5px,#8f0000 167.5px 169.8px,#5c0000 169.8px 172.1px,#470000 172.1px 174.4px,#330000 174.4px 176.7px,#3d0000 176.7px 179.0px,#660000 179.0px 181.3px,#330000 181.3px 183.6px,#850000 183.6px 185.9px,#b80000 185.9px 188.2px,#850000 188.2px 190.5px,#8f0000 190.5px 192.8px,#470000 192.8px 195.1px,#001400 195.1px 197.4px,#700000 197.4px 199.7px,#8f0000 199.7px 202.0px,#e00000 202.0px 204.3px,#7a0000 204.3px 206.6px,#3d0000 206.6px 211.2px,#8f0000 211.2px 213.5px,#1f0000 213.5px 215.7px,#520000 215.7px 218.0px,#470000 218.0px 220.3px,#7a0000 220.3px 222.6px,#660000 222.6px 224.9px,#b80000 224.9px 227.2px,#000a00 227.2px 229.5px,#330000 229.5px 231.8px,#700000 231.8px 234.1px,#3d0000 234.1px 236.4px,#5c0000 236.4px 238.7px,#a30000 238.7px 241.0px,#3d0000 241.0px 243.3px,#8f0000 243.3px 245.6px,#290000 245.6px 247.9px,#850000 247.9px 250.2px,#330000 250.2px 252.5px,#700000 252.5px 254.8px,#5c0000 254.8px 257.1px,#1f0000 257.1px 259.4px,#d60000 259.4px 261.7px,#520000 261.7px 263.9px,#660000 263.9px 266.2px,#b80000 266.2px 268.5px,#1f0000 268.5px 270.8px,#330000 270.8px 273.1px,#a30000 273.1px 275.4px,#7a0000 275.4px 277.7px,#700000 277.7px 280.0px,#850000 280.0px 282.3px,#000000 282.3px 284.6px,#a30000 284.6px 286.9px,#3d0000 286.9px 289.2px,#290000 289.2px 291.5px,#470000 291.5px 293.8px,#a30000 293.8px 296.1px,#850000 296.1px 298.4px,#8f0000 298.4px 300.7px,#520000 300.7px 303.0px,#850000 303.0px 305.3px,#3d0000 305.3px 307.6px,#850000 307.6px 309.8px,#5c0000 309.8px 312.1px,#3d0000 312.1px 314.4px,#8f0000 314.4px 316.7px,#660000 316.7px 319.0px,#520000 319.0px 321.3px,#5c0000 321.3px 323.6px,#3d0000 323.6px 325.9px,#7a0000 325.9px 328.2px,#520000 328.2px 332.8px,#7a0000 332.8px 335.1px,#520000 335.1px 337.4px,#b80000 337.4px 339.7px,#5c0000 339.7px 342.0px,#330000 342.0px 344.3px,#520000 344.3px 348.9px,#470000 348.9px 353.5px,#1f0000 353.5px 355.8px,#000000 355.8px 358.0px,#8f0000 358.0px 360.3px,#eb0000 360.3px 362.6px,#a30000 362.6px 364.9px,#000000 364.9px 367.2px,#5c0000 367.2px 369.5px,#8f0000 369.5px 371.8px,#3d0000 371.8px 374.1px,#8f0000 374.1px 376.4px,#660000 376.4px 378.7px,#000000 378.7px 381.0px,#003d00 381.0px 383.3px,#005c00 383.3px 385.6px,#000a00 385.6px 387.9px,#004700 387.9px 390.2px,#00b800 390.2px 392.5px,#009900 392.5px 394.8px,#007000 394.8px 397.1px,#002900 397.1px 399.4px,#005200 399.4px 401.7px,#140000 401.7px 404.0px,#003d00 404.0px 406.2px,#002900 406.2px 408.5px,#009900 408.5px 410.8px,#008500 410.8px 413.1px,#001400 413.1px 415.4px,#003300 415.4px 417.7px,#007a00 417.7px 420.0px,#005200 420.0px 422.3px,#0a0000 422.3px 424.6px,#006600 424.6px 426.9px,#00ad00 426.9px 429.2px,#006600 429.2px 431.5px,#5c0000 431.5px 433.8px,#006600 433.8px 436.1px,#3d0000 436.1px 438.4px,#003300 438.4px 440.7px,#000a00 440.7px 443.0px,#000000 443.0px 445.3px,#006600 445.3px 447.6px,#009900 447.6px 449.9px,#008500 449.9px 452.2px,#000000 452.2px 454.4px,#005c00 454.4px 456.7px,#008500 456.7px 459.0px,#3d0000 459.0px 461.3px,#002900 461.3px 463.6px,#001f00 463.6px 465.9px,#00a300 465.9px 468.2px,#003d00 468.2px 470.5px,#008500 470.5px 472.8px,#005200 472.8px 475.1px,#004700 475.1px 477.4px,#520000 477.4px 479.7px,#0a0000 479.7px 482.0px,#008500 482.0px 484.3px,#004700 484.3px 486.6px,#003300 486.6px 488.9px,#000a00 488.9px 491.2px,#007a00 491.2px 493.5px,#007000 493.5px 495.8px,#330000 495.8px 498.1px,#000000 498.1px 500.3px,#00ad00 500.3px 502.6px,#140000 502.6px 504.9px,#007000 504.9px 507.2px,#00b800 507.2px 509.5px,#005c00 509.5px 511.8px,#140000 511.8px 516.4px,#009900 516.4px 518.7px,#007a00 518.7px 521.0px,#00e000 521.0px 523.3px,#005c00 523.3px 527.9px,#006600 527.9px 530.2px,#007a00 530.2px 532.5px,#005200 532.5px 534.8px,#002900 534.8px 537.1px,#007a00 537.1px 541.7px,#1f0000 541.7px 544.0px,#001f00 544.0px 546.3px,#005c00 546.3px 548.5px,#003d00 548.5px 550.8px,#003300 550.8px 553.1px,#003d00 553.1px 555.4px,#003300 555.4px 557.7px,#001400 557.7px 560.0px,#140000 560.0px 562.3px,#005200 562.3px 564.6px,#008500 564.6px 566.9px,#330000 566.9px 569.2px,#00f500 569.2px 571.5px,#007a00 571.5px 573.8px,#003d00 573.8px 576.1px,#001400 576.1px 578.4px,#00d600 578.4px 580.7px,#004700 580.7px 583.0px,#00d600 583.0px 585.3px,#004700 585.3px 587.6px,#000000 587.6px 592.2px,#005c00 592.2px 594.5px,#001400 594.5px 596.7px,#00b800 596.7px 599.0px,#000000 599.0px 601.3px,#008500 601.3px 603.6px,#00eb00 603.6px 605.9px,#5c0000 605.9px 608.2px,#008500 608.2px 610.5px,#000a00 610.5px 612.8px,#008500 612.8px 615.1px,#009900 615.1px 617.4px,#006600 617.4px 619.7px,#008f00 619.7px 622.0px,#005c00 622.0px 624.3px,#005200 624.3px 626.6px,#0a0000 626.6px 631.2px,#007000 631.2px 633.5px,#005c00 633.5px 635.8px,#000a00 635.8px 638.1px,#00e000 638.1px 640.4px,#007000 640.4px 642.7px,#005c00 642.7px 644.9px,#00f500 644.9px 647.2px,#000000 647.2px 649.5px,#007000 649.5px 651.8px,#004700 651.8px 654.1px,#006600 654.1px 656.4px,#005c00 656.4px 658.7px,#00c200 658.7px 661.0px,#003300 661.0px 663.3px,#005c00 663.3px 665.6px,#003300 665.6px 667.9px,#520000 667.9px 670.2px,#009900 670.2px 672.5px,#004700 672.5px 674.8px,#001400 674.8px 677.1px,#005c00 677.1px 679.4px,#007000 679.4px 681.7px,#005c00 681.7px 684.0px,#00ad00 684.0px 686.3px,#006600 686.3px 688.6px,#007a00 688.6px 690.8px,#002900 690.8px 693.1px,#001f00 693.1px 695.4px,#290000 695.4px 697.7px,#000000 697.7px 700.0px,#008500 700.0px 702.3px,#007a00 702.3px 706.9px,#003300 706.9px 709.2px,#009900 709.2px 711.5px,#000a00 711.5px 713.8px,#001f00 713.8px 716.1px,#00e000 716.1px 718.4px,#1f0000 718.4px 720.7px,#002900 720.7px 723.0px,#140000 723.0px 725.3px,#00a300 725.3px 727.6px,#005200 727.6px 729.9px,#008f00 729.9px 732.2px,#003d00 732.2px 734.5px,#001400 734.5px 736.8px,#009900 736.8px 739.0px,#005c00 739.0px 741.3px,#004700 741.3px 743.6px,#00ad00 743.6px 745.9px,#007000 745.9px 748.2px,#003d00 748.2px 750.5px,#002900 750.5px 752.8px,#007a00 752.8px 755.1px,#000a00 755.1px 759.7px,#009900 759.7px 762.0px)"></div><div class="r" style="top:338.67px;background:linear-gradient(90deg,#7a0000 0.0px 2.3px,#000a00 2.3px 4.6px,#520000 4.6px 6.9px,#a30000 6.9px 9.2px,#330000 9.2px 11.5px,#0a0000 11.5px 13.8px,#850000 13.8px 16.1px,#1f0000 16.1px 18.4px,#700000 18.4px 20.7px,#7a0000 20.7px 23.0px,#004700 23.0px 25.2px,#1f0000 25.2px 27.5px,#002900 27.5px 29.8px,#1f0000 29.8px 32.1px,#330000 32.1px 34.4px,#000000 34.4px 36.7px,#7a0000 36.7px 39.0px,#b80000 39.0px 41.3px,#520000 41.3px 43.6px,#001f00 43.6px 45.9px,#3d0000 45.9px 48.2px,#000000 48.2px 50.5px,#1f0000 50.5px 52.8px,#700000 52.8px 55.1px,#290000 55.1px 57.4px,#660000 57.4px 59.7px,#003300 59.7px 62.0px,#eb0000 62.0px 64.3px,#330000 64.3px 66.6px,#000000 66.6px 68.9px,#004700 68.9px 71.2px,#3d0000 71.2px 73.4px,#1f0000 73.4px 75.7px,#330000 75.7px 78.0px,#470000 78.0px 80.3px,#850000 80.3px 82.6px,#700000 82.6px 84.9px,#330000 84.9px 87.2px,#470000 87.2px 89.5px,#990000 89.5px 91.8px,#140000 91.8px 94.1px,#990000 94.1px 96.4px,#a30000 96.4px 98.7px,#850000 98.7px 101.0px,#520000 101.0px 103.3px,#001400 103.3px 105.6px,#000000 105.6px 107.9px,#1f0000 107.9px 110.2px,#850000 110.2px 112.5px,#5c0000 112.5px 114.8px,#660000 114.8px 117.1px,#a30000 117.1px 119.3px,#850000 119.3px 121.6px,#7a0000 121.6px 123.9px,#520000 123.9px 126.2px,#850000 126.2px 128.5px,#1f0000 128.5px 130.8px,#520000 130.8px 135.4px,#660000 135.4px 137.7px,#3d0000 137.7px 142.3px,#700000 142.3px 144.6px,#8f0000 144.6px 146.9px,#470000 146.9px 151.5px,#5c0000 151.5px 153.8px,#7a0000 153.8px 156.1px,#3d0000 156.1px 158.4px,#330000 158.4px 160.7px,#700000 160.7px 163.0px,#b80000 163.0px 165.3px,#330000 165.3px 167.5px,#700000 167.5px 169.8px,#3d0000 169.8px 172.1px,#470000 172.1px 174.4px,#1f0000 174.4px 176.7px,#002900 176.7px 179.0px,#700000 179.0px 181.3px,#470000 181.3px 183.6px,#7a0000 183.6px 185.9px,#520000 185.9px 188.2px,#700000 188.2px 190.5px,#a30000 190.5px 192.8px,#850000 192.8px 195.1px,#000a00 195.1px 197.4px,#520000 197.4px 199.7px,#7a0000 199.7px 202.0px,#b80000 202.0px 204.3px,#a30000 204.3px 206.6px,#290000 206.6px 208.9px,#660000 208.9px 211.2px,#990000 211.2px 213.5px,#3d0000 213.5px 215.7px,#290000 215.7px 218.0px,#7a0000 218.0px 220.3px,#5c0000 220.3px 222.6px,#850000 222.6px 224.9px,#700000 224.9px 227.2px,#140000 227.2px 229.5px,#3d0000 229.5px 231.8px,#a30000 231.8px 234.1px,#700000 234.1px 236.4px,#290000 236.4px 238.7px,#700000 238.7px 241.0px,#470000 241.0px 243.3px,#5c0000 243.3px 245.6px,#3d0000 245.6px 250.2px,#290000 250.2px 252.5px,#7a0000 252.5px 254.8px,#cc0000 254.8px 257.1px,#3d0000 257.1px 259.4px,#850000 259.4px 261.7px,#290000 261.7px 263.9px,#470000 263.9px 266.2px,#7a0000 266.2px 268.5px,#290000 268.5px 270.8px,#3d0000 270.8px 273.1px,#660000 273.1px 275.4px,#a30000 275.4px 277.7px,#7a0000 277.7px 280.0px,#5c0000 280.0px 282.3px,#470000 282.3px 284.6px,#660000 284.6px 286.9px,#a30000 286.9px 289.2px,#520000 289.2px 291.5px,#5c0000 291.5px 293.8px,#850000 293.8px 296.1px,#8f0000 296.1px 298.4px,#290000 298.4px 300.7px,#520000 300.7px 303.0px,#3d0000 303.0px 305.3px,#7a0000 305.3px 309.8px,#1f0000 309.8px 312.1px,#700000 312.1px 314.4px,#520000 314.4px 316.7px,#850000 316.7px 319.0px,#990000 319.0px 321.3px,#3d0000 321.3px 323.6px,#5c0000 323.6px 325.9px,#a30000 325.9px 328.2px,#1f0000 328.2px 330.5px,#850000 330.5px 335.1px,#660000 335.1px 337.4px,#8f0000 337.4px 339.7px,#660000 339.7px 342.0px,#330000 342.0px 344.3px,#850000 344.3px 346.6px,#3d0000 346.6px 351.2px,#330000 351.2px 355.8px,#290000 355.8px 358.0px,#660000 358.0px 360.3px,#330000 360.3px 362.6px,#700000 362.6px 364.9px,#330000 364.9px 367.2px,#8f0000 367.2px 369.5px,#ad0000 369.5px 371.8px,#5c0000 371.8px 374.1px,#520000 374.1px 376.4px,#330000 376.4px 378.7px,#3d0000 378.7px 381.0px,#007000 381.0px 383.3px,#004700 383.3px 385.6px,#003d00 385.6px 387.9px,#001400 387.9px 390.2px,#00ad00 390.2px 392.5px,#005c00 392.5px 394.8px,#003300 394.8px 397.1px,#0a0000 397.1px 399.4px,#005c00 399.4px 401.7px,#001f00 401.7px 404.0px,#3d0000 404.0px 406.2px,#002900 406.2px 408.5px,#007000 408.5px 410.8px,#007a00 410.8px 413.1px,#003d00 413.1px 415.4px,#002900 415.4px 417.7px,#330000 417.7px 420.0px,#009900 420.0px 422.3px,#001f00 422.3px 424.6px,#00c200 424.6px 426.9px,#003300 426.9px 429.2px,#003d00 429.2px 431.5px,#006600 431.5px 433.8px,#000000 433.8px 436.1px,#007000 436.1px 438.4px,#008f00 438.4px 440.7px,#003d00 440.7px 443.0px,#0a0000 443.0px 445.3px,#007000 445.3px 447.6px,#007a00 447.6px 449.9px,#004700 449.9px 452.2px,#001f00 452.2px 454.4px,#00a300 454.4px 456.7px,#006600 456.7px 459.0px,#0a0000 459.0px 461.3px,#005c00 461.3px 463.6px,#003d00 463.6px 465.9px,#007a00 465.9px 468.2px,#003300 468.2px 470.5px,#00c200 470.5px 472.8px,#003300 472.8px 475.1px,#001f00 475.1px 477.4px,#5c0000 477.4px 479.7px,#003300 479.7px 482.0px,#005c00 482.0px 484.3px,#140000 484.3px 486.6px,#008f00 486.6px 488.9px,#001400 488.9px 491.2px,#006600 491.2px 493.5px,#008500 493.5px 495.8px,#7a0000 495.8px 498.1px,#000a00 498.1px 500.3px,#001f00 500.3px 502.6px,#008500 502.6px 504.9px,#140000 504.9px 507.2px,#006600 507.2px 509.5px,#004700 509.5px 514.1px,#00ad00 514.1px 516.4px,#008f00 516.4px 518.7px,#007000 518.7px 521.0px,#008f00 521.0px 523.3px,#007a00 523.3px 525.6px,#0a0000 525.6px 527.9px,#001400 527.9px 530.2px,#00a300 530.2px 532.5px,#0a0000 532.5px 534.8px,#330000 534.8px 537.1px,#005200 537.1px 539.4px,#001f00 539.4px 541.7px,#330000 541.7px 544.0px,#140000 544.0px 546.3px,#006600 546.3px 548.5px,#003300 548.5px 550.8px,#004700 550.8px 553.1px,#001400 553.1px 555.4px,#001f00 555.4px 557.7px,#008500 557.7px 560.0px,#290000 560.0px 562.3px,#001f00 562.3px 564.6px,#008500 564.6px 566.9px,#008f00 566.9px 569.2px,#007a00 569.2px 573.8px,#520000 573.8px 576.1px,#001400 576.1px 578.4px,#00c200 578.4px 580.7px,#005200 580.7px 583.0px,#00ad00 583.0px 585.3px,#140000 585.3px 587.6px,#001400 587.6px 589.9px,#007000 589.9px 592.2px,#006600 592.2px 594.5px,#007a00 594.5px 596.7px,#00ad00 596.7px 599.0px,#008500 599.0px 601.3px,#005c00 601.3px 603.6px,#00d600 603.6px 605.9px,#003d00 605.9px 608.2px,#004700 608.2px 610.5px,#005c00 610.5px 612.8px,#001f00 612.8px 615.1px,#005c00 615.1px 617.4px,#001400 617.4px 619.7px,#00ff00 619.7px 622.0px,#008500 622.0px 624.3px,#003d00 624.3px 626.6px,#0a0000 626.6px 628.9px,#00b800 628.9px 631.2px,#009900 631.2px 633.5px,#003d00 633.5px 638.1px,#00c200 638.1px 640.4px,#00eb00 640.4px 642.7px,#00a300 642.7px 644.9px,#003d00 644.9px 647.2px,#006600 647.2px 649.5px,#004700 649.5px 651.8px,#0a0000 651.8px 654.1px,#008500 654.1px 656.4px,#004700 656.4px 658.7px,#00c200 658.7px 661.0px,#007000 661.0px 663.3px,#008f00 663.3px 665.6px,#001f00 665.6px 667.9px,#1f0000 667.9px 670.2px,#003d00 670.2px 672.5px,#001f00 672.5px 674.8px,#00f500 674.8px 677.1px,#005200 677.1px 679.4px,#008f00 679.4px 681.7px,#007000 681.7px 684.0px,#004700 684.0px 686.3px,#006600 686.3px 688.6px,#0a0000 688.6px 690.8px,#008f00 690.8px 693.1px,#002900 693.1px 695.4px,#004700 695.4px 697.7px,#003300 697.7px 700.0px,#001f00 700.0px 702.3px,#000a00 702.3px 704.6px,#00e000 704.6px 706.9px,#00c200 706.9px 709.2px,#00cc00 709.2px 711.5px,#001400 711.5px 713.8px,#005c00 713.8px 716.1px,#00f500 716.1px 718.4px,#00a300 718.4px 720.7px,#000000 720.7px 723.0px,#000a00 723.0px 725.3px,#001f00 725.3px 727.6px,#00ad00 727.6px 729.9px,#00ff00 729.9px 732.2px,#004700 732.2px 734.5px,#001f00 734.5px 736.8px,#00c200 736.8px 739.0px,#005c00 739.0px 741.3px,#008f00 741.3px 743.6px,#006600 743.6px 745.9px,#007a00 745.9px 748.2px,#005200 748.2px 750.5px,#005c00 750.5px 752.8px,#008500 752.8px 755.1px,#00b800 755.1px 757.4px,#002900 757.4px 759.7px,#00e000 759.7px 762.0px)"></div><div class="r" style="top:364.00px;background:linear-gradient(90deg,#0a0000 0.0px 2.3px,#290000 2.3px 4.6px,#470000 4.6px 6.9px,#eb0000 6.9px 9.2px,#000a00 9.2px 11.5px,#1f0000 11.5px 13.8px,#520000 13.8px 18.4px,#001f00 18.4px 20.7px,#5c0000 20.7px 25.2px,#001400 25.2px 27.5px,#001f00 27.5px 29.8px,#850000 29.8px 32.1px,#000000 32.1px 34.4px,#290000 34.4px 36.7px,#990000 36.7px 39.0px,#001f00 39.0px 41.3px,#290000 41.3px 43.6px,#002900 43.6px 45.9px,#000000 45.9px 48.2px,#0a0000 48.2px 50.5px,#470000 50.5px 52.8px,#3d0000 52.8px 55.1px,#700000 55.1px 57.4px,#990000 57.4px 59.7px,#003300 59.7px 62.0px,#7a0000 62.0px 64.3px,#470000 64.3px 66.6px,#005c00 66.6px 68.9px,#008f00 68.9px 71.2px,#001400 71.2px 73.4px,#e00000 73.4px 75.7px,#990000 75.7px 78.0px,#8f0000 78.0px 80.3px,#e00000 80.3px 82.6px,#140000 82.6px 84.9px,#b80000 84.9px 87.2px,#ad0000 87.2px 89.5px,#290000 89.5px 91.8px,#003d00 91.8px 94.1px,#290000 94.1px 96.4px,#470000 96.4px 98.7px,#660000 98.7px 101.0px,#290000 101.0px 103.3px,#002900 103.3px 105.6px,#520000 105.6px 107.9px,#850000 107.9px 110.2px,#520000 110.2px 112.5px,#cc0000 112.5px 114.8px,#a30000 114.8px 117.1px,#990000 117.1px 119.3px,#ad0000 119.3px 121.6px,#520000 121.6px 123.9px,#a30000 123.9px 126.2px,#470000 126.2px 128.5px,#003300 128.5px 130.8px,#8f0000 130.8px 133.1px,#660000 133.1px 135.4px,#470000 135.4px 137.7px,#8f0000 137.7px 140.0px,#700000 140.0px 142.3px,#a30000 142.3px 144.6px,#ff0000 144.6px 146.9px,#470000 146.9px 149.2px,#002900 149.2px 151.5px,#470000 151.5px 153.8px,#c20000 153.8px 156.1px,#8f0000 156.1px 158.4px,#5c0000 158.4px 160.7px,#d60000 160.7px 163.0px,#330000 163.0px 165.3px,#290000 165.3px 167.5px,#cc0000 167.5px 169.8px,#001f00 169.8px 172.1px,#660000 172.1px 174.4px,#001400 174.4px 176.7px,#004700 176.7px 179.0px,#d60000 179.0px 181.3px,#140000 181.3px 183.6px,#700000 183.6px 185.9px,#3d0000 185.9px 188.2px,#520000 188.2px 190.5px,#660000 190.5px 192.8px,#8f0000 192.8px 195.1px,#003d00 195.1px 197.4px,#290000 197.4px 199.7px,#7a0000 199.7px 202.0px,#ff0000 202.0px 204.3px,#290000 204.3px 206.6px,#850000 206.6px 208.9px,#002900 208.9px 211.2px,#8f0000 211.2px 213.5px,#004700 213.5px 215.7px,#520000 215.7px 218.0px,#990000 218.0px 220.3px,#cc0000 220.3px 222.6px,#8f0000 222.6px 224.9px,#700000 224.9px 227.2px,#000a00 227.2px 229.5px,#520000 229.5px 231.8px,#330000 231.8px 236.4px,#990000 236.4px 238.7px,#7a0000 238.7px 241.0px,#140000 241.0px 243.3px,#0a0000 243.3px 245.6px,#140000 245.6px 247.9px,#7a0000 247.9px 250.2px,#700000 250.2px 252.5px,#470000 252.5px 254.8px,#520000 254.8px 259.4px,#cc0000 259.4px 261.7px,#3d0000 261.7px 266.2px,#8f0000 266.2px 268.5px,#1f0000 268.5px 270.8px,#520000 270.8px 273.1px,#a30000 273.1px 275.4px,#470000 275.4px 277.7px,#7a0000 277.7px 282.3px,#1f0000 282.3px 284.6px,#660000 284.6px 286.9px,#8f0000 286.9px 289.2px,#000a00 289.2px 291.5px,#a30000 291.5px 293.8px,#c20000 293.8px 296.1px,#470000 296.1px 298.4px,#3d0000 298.4px 300.7px,#330000 300.7px 303.0px,#660000 303.0px 305.3px,#850000 305.3px 307.6px,#660000 307.6px 309.8px,#8f0000 309.8px 312.1px,#007000 312.1px 314.4px,#1f0000 314.4px 316.7px,#8f0000 316.7px 319.0px,#ad0000 319.0px 321.3px,#330000 321.3px 325.9px,#b80000 325.9px 328.2px,#3d0000 328.2px 330.5px,#5c0000 330.5px 332.8px,#0a0000 332.8px 335.1px,#850000 335.1px 337.4px,#8f0000 337.4px 339.7px,#700000 339.7px 342.0px,#990000 342.0px 344.3px,#520000 344.3px 346.6px,#470000 346.6px 348.9px,#0a0000 348.9px 351.2px,#470000 351.2px 353.5px,#b80000 353.5px 355.8px,#000000 355.8px 358.0px,#eb0000 358.0px 360.3px,#990000 360.3px 362.6px,#a30000 362.6px 364.9px,#700000 364.9px 367.2px,#470000 367.2px 369.5px,#e00000 369.5px 371.8px,#1f0000 371.8px 374.1px,#660000 374.1px 378.7px,#520000 378.7px 381.0px,#001f00 381.0px 383.3px,#003d00 383.3px 385.6px,#290000 385.6px 387.9px,#001f00 387.9px 390.2px,#009900 390.2px 392.5px,#003d00 392.5px 394.8px,#005200 394.8px 397.1px,#1f0000 397.1px 399.4px,#003d00 399.4px 401.7px,#0a0000 401.7px 404.0px,#005200 404.0px 406.2px,#000a00 406.2px 408.5px,#003d00 408.5px 410.8px,#004700 410.8px 413.1px,#002900 413.1px 415.4px,#003d00 415.4px 420.0px,#008f00 420.0px 422.3px,#c20000 422.3px 424.6px,#007a00 424.6px 426.9px,#002900 426.9px 429.2px,#001f00 429.2px 431.5px,#1f0000 431.5px 433.8px,#000a00 433.8px 436.1px,#1f0000 436.1px 438.4px,#140000 438.4px 440.7px,#000000 440.7px 443.0px,#520000 443.0px 445.3px,#005200 445.3px 447.6px,#000000 447.6px 449.9px,#140000 449.9px 452.2px,#009900 452.2px 454.4px,#005200 454.4px 456.7px,#005c00 456.7px 461.3px,#001400 461.3px 463.6px,#000000 463.6px 465.9px,#001f00 465.9px 468.2px,#003300 468.2px 472.8px,#000a00 472.8px 475.1px,#00ad00 475.1px 477.4px,#ad0000 477.4px 479.7px,#005c00 479.7px 482.0px,#000a00 482.0px 486.6px,#0a0000 486.6px 488.9px,#000000 488.9px 491.2px,#003300 491.2px 493.5px,#003d00 493.5px 495.8px,#140000 495.8px 498.1px,#005200 498.1px 500.3px,#002900 500.3px 502.6px,#0a0000 502.6px 504.9px,#006600 504.9px 507.2px,#004700 507.2px 509.5px,#005200 509.5px 511.8px,#8f0000 511.8px 514.1px,#290000 514.1px 516.4px,#000a00 516.4px 518.7px,#005200 518.7px 521.0px,#140000 521.0px 523.3px,#005200 523.3px 525.6px,#001400 525.6px 527.9px,#000a00 527.9px 530.2px,#005c00 530.2px 532.5px,#002900 532.5px 534.8px,#000a00 534.8px 537.1px,#001400 537.1px 539.4px,#009900 539.4px 541.7px,#850000 541.7px 544.0px,#003300 544.0px 546.3px,#00a300 546.3px 548.5px,#006600 548.5px 550.8px,#0a0000 550.8px 553.1px,#004700 553.1px 555.4px,#001f00 555.4px 557.7px,#520000 557.7px 560.0px,#1f0000 560.0px 562.3px,#009900 562.3px 564.6px,#002900 564.6px 566.9px,#000a00 566.9px 569.2px,#008500 569.2px 571.5px,#005200 571.5px 573.8px,#007a00 573.8px 576.1px,#330000 576.1px 578.4px,#001f00 578.4px 580.7px,#000000 580.7px 583.0px,#007000 583.0px 585.3px,#003300 585.3px 587.6px,#004700 587.6px 589.9px,#3d0000 589.9px 592.2px,#008f00 592.2px 594.5px,#140000 594.5px 596.7px,#002900 596.7px 599.0px,#0a0000 599.0px 601.3px,#00b800 601.3px 603.6px,#00ad00 603.6px 605.9px,#140000 605.9px 608.2px,#005200 608.2px 610.5px,#003300 610.5px 612.8px,#002900 612.8px 615.1px,#006600 615.1px 617.4px,#0a0000 617.4px 619.7px,#003300 619.7px 622.0px,#005200 622.0px 624.3px,#000000 624.3px 626.6px,#000a00 626.6px 628.9px,#140000 628.9px 631.2px,#005c00 631.2px 633.5px,#003d00 633.5px 635.8px,#000a00 635.8px 638.1px,#00f500 638.1px 640.4px,#000a00 640.4px 642.7px,#001f00 642.7px 644.9px,#004700 644.9px 647.2px,#002900 647.2px 649.5px,#001f00 649.5px 651.8px,#002900 651.8px 654.1px,#0a0000 654.1px 656.4px,#001400 656.4px 658.7px,#005c00 658.7px 661.0px,#1f0000 661.0px 663.3px,#003300 663.3px 665.6px,#006600 665.6px 667.9px,#3d0000 667.9px 670.2px,#290000 670.2px 672.5px,#001400 672.5px 674.8px,#00e000 674.8px 677.1px,#005c00 677.1px 679.4px,#005200 679.4px 681.7px,#00ad00 681.7px 684.0px,#00a300 684.0px 686.3px,#005200 686.3px 688.6px,#330000 688.6px 690.8px,#004700 690.8px 693.1px,#0a0000 693.1px 695.4px,#004700 695.4px 700.0px,#001400 700.0px 702.3px,#003d00 702.3px 704.6px,#001f00 704.6px 706.9px,#008500 706.9px 709.2px,#005c00 709.2px 711.5px,#001f00 711.5px 713.8px,#002900 713.8px 716.1px,#00a300 716.1px 718.4px,#003d00 718.4px 720.7px,#001400 720.7px 723.0px,#5c0000 723.0px 725.3px,#000a00 725.3px 727.6px,#3d0000 727.6px 729.9px,#008f00 729.9px 732.2px,#290000 732.2px 734.5px,#140000 734.5px 736.8px,#00b800 736.8px 739.0px,#002900 739.0px 741.3px,#005200 741.3px 743.6px,#003300 743.6px 745.9px,#001400 745.9px 748.2px,#005200 748.2px 750.5px,#005c00 750.5px 752.8px,#002900 752.8px 755.1px,#007a00 755.1px 757.4px,#002900 757.4px 759.7px,#007000 759.7px 762.0px)"></div><div class="r" style="top:389.33px;background:linear-gradient(90deg,#5c0000 0.0px 2.3px,#140000 2.3px 4.6px,#290000 4.6px 6.9px,#700000 6.9px 9.2px,#7a0000 9.2px 11.5px,#1f0000 11.5px 13.8px,#e00000 13.8px 16.1px,#330000 16.1px 18.4px,#000a00 18.4px 20.7px,#7a0000 20.7px 23.0px,#290000 23.0px 25.2px,#003300 25.2px 29.8px,#700000 29.8px 34.4px,#001f00 34.4px 36.7px,#1f0000 36.7px 39.0px,#ad0000 39.0px 41.3px,#520000 41.3px 43.6px,#002900 43.6px 45.9px,#000a00 45.9px 48.2px,#000000 48.2px 50.5px,#990000 50.5px 52.8px,#660000 52.8px 55.1px,#140000 55.1px 57.4px,#290000 57.4px 59.7px,#7a0000 59.7px 62.0px,#8f0000 62.0px 64.3px,#004700 64.3px 68.9px,#005200 68.9px 71.2px,#330000 71.2px 73.4px,#001400 73.4px 75.7px,#660000 75.7px 78.0px,#290000 78.0px 80.3px,#520000 80.3px 82.6px,#700000 82.6px 87.2px,#140000 87.2px 89.5px,#3d0000 89.5px 91.8px,#000a00 91.8px 94.1px,#5c0000 94.1px 96.4px,#ff0000 96.4px 98.7px,#7a0000 98.7px 101.0px,#001f00 101.0px 103.3px,#000a00 103.3px 105.6px,#520000 105.6px 107.9px,#004700 107.9px 110.2px,#330000 110.2px 112.5px,#3d0000 112.5px 114.8px,#7a0000 114.8px 117.1px,#660000 117.1px 119.3px,#700000 119.3px 123.9px,#3d0000 123.9px 126.2px,#520000 126.2px 128.5px,#007000 128.5px 130.8px,#a30000 130.8px 133.1px,#7a0000 133.1px 135.4px,#5c0000 135.4px 137.7px,#1f0000 137.7px 140.0px,#8f0000 140.0px 142.3px,#5c0000 142.3px 146.9px,#7a0000 146.9px 149.2px,#000000 149.2px 151.5px,#8f0000 151.5px 153.8px,#000000 153.8px 156.1px,#8f0000 156.1px 158.4px,#3d0000 158.4px 160.7px,#290000 160.7px 163.0px,#0a0000 163.0px 165.3px,#001f00 165.3px 167.5px,#850000 167.5px 169.8px,#a30000 169.8px 172.1px,#660000 172.1px 174.4px,#007a00 174.4px 176.7px,#001f00 176.7px 179.0px,#8f0000 179.0px 181.3px,#001f00 181.3px 183.6px,#990000 183.6px 188.2px,#660000 188.2px 190.5px,#7a0000 190.5px 192.8px,#d60000 192.8px 195.1px,#005c00 195.1px 197.4px,#700000 197.4px 199.7px,#660000 199.7px 202.0px,#c20000 202.0px 204.3px,#520000 204.3px 206.6px,#002900 206.6px 208.9px,#000a00 208.9px 211.2px,#700000 211.2px 213.5px,#000000 213.5px 215.7px,#520000 215.7px 218.0px,#470000 218.0px 220.3px,#5c0000 220.3px 222.6px,#470000 222.6px 224.9px,#003d00 224.9px 227.2px,#000000 227.2px 229.5px,#3d0000 229.5px 231.8px,#000a00 231.8px 234.1px,#000000 234.1px 236.4px,#1f0000 236.4px 238.7px,#660000 238.7px 241.0px,#1f0000 241.0px 243.3px,#990000 243.3px 245.6px,#660000 245.6px 247.9px,#140000 247.9px 250.2px,#3d0000 250.2px 252.5px,#700000 252.5px 254.8px,#b80000 254.8px 257.1px,#001400 257.1px 259.4px,#660000 259.4px 263.9px,#850000 263.9px 266.2px,#8f0000 266.2px 268.5px,#008f00 268.5px 270.8px,#470000 270.8px 273.1px,#290000 273.1px 275.4px,#000000 275.4px 277.7px,#520000 277.7px 280.0px,#002900 280.0px 282.3px,#001f00 282.3px 284.6px,#520000 284.6px 286.9px,#000000 286.9px 289.2px,#470000 289.2px 291.5px,#660000 291.5px 293.8px,#990000 293.8px 296.1px,#7a0000 296.1px 298.4px,#002900 298.4px 300.7px,#520000 300.7px 303.0px,#7a0000 303.0px 305.3px,#330000 305.3px 307.6px,#cc0000 307.6px 309.8px,#000a00 309.8px 312.1px,#0a0000 312.1px 314.4px,#700000 314.4px 316.7px,#3d0000 316.7px 319.0px,#850000 319.0px 321.3px,#660000 321.3px 323.6px,#000000 323.6px 325.9px,#470000 325.9px 328.2px,#140000 328.2px 330.5px,#520000 330.5px 332.8px,#5c0000 332.8px 335.1px,#7a0000 335.1px 337.4px,#a30000 337.4px 339.7px,#470000 339.7px 342.0px,#330000 342.0px 344.3px,#520000 344.3px 346.6px,#ad0000 346.6px 348.9px,#001f00 348.9px 351.2px,#0a0000 351.2px 353.5px,#3d0000 353.5px 355.8px,#001400 355.8px 358.0px,#5c0000 358.0px 360.3px,#990000 360.3px 362.6px,#7a0000 362.6px 364.9px,#1f0000 364.9px 367.2px,#470000 367.2px 369.5px,#850000 369.5px 371.8px,#140000 371.8px 374.1px,#7a0000 374.1px 376.4px,#1f0000 376.4px 378.7px,#5c0000 378.7px 381.0px,#005200 381.0px 385.6px,#140000 385.6px 387.9px,#000a00 387.9px 390.2px,#00a300 390.2px 392.5px,#140000 392.5px 394.8px,#006600 394.8px 397.1px,#001f00 397.1px 399.4px,#1f0000 399.4px 401.7px,#520000 401.7px 404.0px,#140000 404.0px 406.2px,#0a0000 406.2px 408.5px,#009900 408.5px 410.8px,#001f00 410.8px 413.1px,#003d00 413.1px 415.4px,#001f00 415.4px 417.7px,#003d00 417.7px 420.0px,#003300 420.0px 422.3px,#002900 422.3px 424.6px,#008f00 424.6px 426.9px,#007a00 426.9px 429.2px,#0a0000 429.2px 431.5px,#001f00 431.5px 433.8px,#005200 433.8px 436.1px,#0a0000 436.1px 438.4px,#007a00 438.4px 440.7px,#004700 440.7px 443.0px,#290000 443.0px 445.3px,#00ad00 445.3px 447.6px,#002900 447.6px 449.9px,#001f00 449.9px 452.2px,#008500 452.2px 454.4px,#007000 454.4px 456.7px,#006600 456.7px 459.0px,#290000 459.0px 461.3px,#003300 461.3px 463.6px,#003d00 463.6px 465.9px,#005c00 465.9px 468.2px,#003d00 468.2px 470.5px,#002900 470.5px 472.8px,#000a00 472.8px 475.1px,#140000 475.1px 477.4px,#8f0000 477.4px 479.7px,#000a00 479.7px 482.0px,#005c00 482.0px 484.3px,#004700 484.3px 486.6px,#008f00 486.6px 488.9px,#140000 488.9px 491.2px,#008500 491.2px 493.5px,#002900 493.5px 495.8px,#3d0000 495.8px 498.1px,#140000 498.1px 500.3px,#009900 500.3px 502.6px,#290000 502.6px 504.9px,#002900 504.9px 507.2px,#006600 507.2px 509.5px,#000a00 509.5px 511.8px,#290000 511.8px 514.1px,#003300 514.1px 516.4px,#005c00 516.4px 518.7px,#003300 518.7px 521.0px,#005200 521.0px 523.3px,#003d00 523.3px 527.9px,#330000 527.9px 530.2px,#005c00 530.2px 532.5px,#003d00 532.5px 534.8px,#000a00 534.8px 537.1px,#330000 537.1px 539.4px,#006600 539.4px 541.7px,#700000 541.7px 544.0px,#005200 544.0px 546.3px,#002900 546.3px 548.5px,#003300 548.5px 550.8px,#3d0000 550.8px 553.1px,#002900 553.1px 557.7px,#001400 557.7px 560.0px,#470000 560.0px 562.3px,#0a0000 562.3px 564.6px,#005c00 564.6px 566.9px,#001f00 566.9px 569.2px,#008500 569.2px 571.5px,#002900 571.5px 573.8px,#003300 573.8px 576.1px,#0a0000 576.1px 578.4px,#005c00 578.4px 580.7px,#007000 580.7px 583.0px,#006600 583.0px 585.3px,#005c00 585.3px 587.6px,#001400 587.6px 589.9px,#005c00 589.9px 592.2px,#003d00 592.2px 594.5px,#007a00 594.5px 596.7px,#008f00 596.7px 599.0px,#005200 599.0px 601.3px,#00b800 601.3px 603.6px,#00c200 603.6px 605.9px,#003300 605.9px 608.2px,#00ad00 608.2px 610.5px,#006600 610.5px 612.8px,#002900 612.8px 615.1px,#00a300 615.1px 617.4px,#004700 617.4px 619.7px,#00a300 619.7px 622.0px,#005c00 622.0px 624.3px,#009900 624.3px 628.9px,#003300 628.9px 631.2px,#00eb00 631.2px 633.5px,#006600 633.5px 638.1px,#00ff00 638.1px 640.4px,#008500 640.4px 642.7px,#00a300 642.7px 644.9px,#00cc00 644.9px 647.2px,#006600 647.2px 649.5px,#00d600 649.5px 651.8px,#001f00 651.8px 654.1px,#003300 654.1px 656.4px,#008f00 656.4px 658.7px,#008500 658.7px 661.0px,#007a00 661.0px 663.3px,#00ad00 663.3px 665.6px,#00d600 665.6px 667.9px,#1f0000 667.9px 670.2px,#001400 670.2px 672.5px,#002900 672.5px 674.8px,#00ad00 674.8px 677.1px,#00b800 677.1px 679.4px,#00ad00 679.4px 681.7px,#008500 681.7px 684.0px,#00ff00 684.0px 686.3px,#008500 686.3px 688.6px,#005c00 688.6px 690.8px,#008500 690.8px 693.1px,#001f00 693.1px 695.4px,#007000 695.4px 697.7px,#007a00 697.7px 700.0px,#00ad00 700.0px 704.6px,#004700 704.6px 706.9px,#006600 706.9px 709.2px,#00ff00 709.2px 711.5px,#003300 711.5px 713.8px,#001f00 713.8px 716.1px,#00ff00 716.1px 718.4px,#140000 718.4px 720.7px,#001f00 720.7px 723.0px,#003d00 723.0px 725.3px,#008500 725.3px 727.6px,#003300 727.6px 729.9px,#00c200 729.9px 732.2px,#1f0000 732.2px 734.5px,#005c00 734.5px 736.8px,#00ad00 736.8px 739.0px,#007000 739.0px 741.3px,#009900 741.3px 743.6px,#007a00 743.6px 745.9px,#004700 745.9px 748.2px,#007000 748.2px 750.5px,#005c00 750.5px 752.8px,#00ad00 752.8px 755.1px,#004700 755.1px 757.4px,#007a00 757.4px 759.7px,#006600 759.7px 762.0px)"></div><div class="r" style="top:414.67px;background:linear-gradient(90deg,#0a0000 0.0px 2.3px,#000000 2.3px 4.6px,#660000 4.6px 6.9px,#7a0000 6.9px 9.2px,#470000 9.2px 11.5px,#0a0000 11.5px 13.8px,#5c0000 13.8px 16.1px,#3d0000 16.1px 18.4px,#330000 18.4px 20.7px,#660000 20.7px 23.0px,#005200 23.0px 25.2px,#1f0000 25.2px 27.5px,#290000 27.5px 29.8px,#660000 29.8px 32.1px,#1f0000 32.1px 34.4px,#000000 34.4px 36.7px,#330000 36.7px 39.0px,#8f0000 39.0px 41.3px,#520000 41.3px 43.6px,#003300 43.6px 45.9px,#5c0000 45.9px 48.2px,#0a0000 48.2px 50.5px,#700000 50.5px 52.8px,#520000 52.8px 55.1px,#470000 55.1px 57.4px,#660000 57.4px 59.7px,#0a0000 59.7px 62.0px,#850000 62.0px 64.3px,#3d0000 64.3px 66.6px,#290000 66.6px 68.9px,#005200 68.9px 71.2px,#290000 71.2px 73.4px,#001400 73.4px 75.7px,#290000 75.7px 78.0px,#1f0000 78.0px 80.3px,#330000 80.3px 82.6px,#3d0000 82.6px 84.9px,#470000 84.9px 87.2px,#990000 87.2px 89.5px,#1f0000 89.5px 94.1px,#ad0000 94.1px 96.4px,#eb0000 96.4px 98.7px,#470000 98.7px 101.0px,#000000 101.0px 103.3px,#0a0000 103.3px 105.6px,#290000 105.6px 107.9px,#0a0000 107.9px 110.2px,#5c0000 110.2px 112.5px,#ad0000 112.5px 114.8px,#5c0000 114.8px 117.1px,#990000 117.1px 119.3px,#7a0000 119.3px 121.6px,#1f0000 121.6px 123.9px,#470000 123.9px 126.2px,#5c0000 126.2px 128.5px,#3d0000 128.5px 130.8px,#520000 130.8px 133.1px,#330000 133.1px 135.4px,#290000 135.4px 137.7px,#1f0000 137.7px 140.0px,#470000 140.0px 142.3px,#8f0000 142.3px 144.6px,#660000 144.6px 149.2px,#0a0000 149.2px 151.5px,#5c0000 151.5px 153.8px,#330000 153.8px 158.4px,#850000 158.4px 160.7px,#3d0000 160.7px 163.0px,#8f0000 163.0px 165.3px,#5c0000 165.3px 167.5px,#a30000 167.5px 169.8px,#520000 169.8px 172.1px,#470000 172.1px 174.4px,#140000 174.4px 176.7px,#0a0000 176.7px 179.0px,#7a0000 179.0px 181.3px,#1f0000 181.3px 183.6px,#5c0000 183.6px 185.9px,#850000 185.9px 188.2px,#700000 188.2px 192.8px,#520000 192.8px 195.1px,#000a00 195.1px 197.4px,#290000 197.4px 199.7px,#660000 199.7px 204.3px,#5c0000 204.3px 206.6px,#3d0000 206.6px 208.9px,#000a00 208.9px 211.2px,#700000 211.2px 213.5px,#0a0000 213.5px 215.7px,#470000 215.7px 218.0px,#660000 218.0px 220.3px,#5c0000 220.3px 224.9px,#a30000 224.9px 227.2px,#330000 227.2px 229.5px,#000000 229.5px 231.8px,#470000 231.8px 234.1px,#1f0000 234.1px 236.4px,#330000 236.4px 238.7px,#a30000 238.7px 241.0px,#3d0000 241.0px 243.3px,#330000 243.3px 245.6px,#140000 245.6px 247.9px,#5c0000 247.9px 250.2px,#0a0000 250.2px 252.5px,#330000 252.5px 254.8px,#700000 254.8px 257.1px,#470000 257.1px 259.4px,#700000 259.4px 261.7px,#330000 261.7px 263.9px,#1f0000 263.9px 266.2px,#470000 266.2px 268.5px,#001400 268.5px 270.8px,#470000 270.8px 273.1px,#7a0000 273.1px 275.4px,#ad0000 275.4px 277.7px,#700000 277.7px 280.0px,#990000 280.0px 282.3px,#470000 282.3px 284.6px,#520000 284.6px 286.9px,#3d0000 286.9px 289.2px,#000000 289.2px 291.5px,#5c0000 291.5px 293.8px,#990000 293.8px 296.1px,#7a0000 296.1px 298.4px,#140000 298.4px 300.7px,#3d0000 300.7px 303.0px,#700000 303.0px 305.3px,#7a0000 305.3px 307.6px,#3d0000 307.6px 309.8px,#140000 309.8px 312.1px,#470000 312.1px 314.4px,#700000 314.4px 316.7px,#660000 316.7px 319.0px,#850000 319.0px 321.3px,#000a00 321.3px 323.6px,#470000 323.6px 325.9px,#8f0000 325.9px 328.2px,#700000 328.2px 330.5px,#520000 330.5px 332.8px,#660000 332.8px 335.1px,#140000 335.1px 337.4px,#7a0000 337.4px 339.7px,#290000 339.7px 344.3px,#470000 344.3px 346.6px,#a30000 346.6px 348.9px,#290000 348.9px 351.2px,#3d0000 351.2px 353.5px,#0a0000 353.5px 355.8px,#001400 355.8px 358.0px,#520000 358.0px 360.3px,#8f0000 360.3px 362.6px,#990000 362.6px 364.9px,#140000 364.9px 367.2px,#520000 367.2px 369.5px,#5c0000 369.5px 371.8px,#470000 371.8px 374.1px,#700000 374.1px 376.4px,#140000 376.4px 378.7px,#520000 378.7px 381.0px,#006600 381.0px 383.3px,#003d00 383.3px 385.6px,#000a00 385.6px 387.9px,#003300 387.9px 390.2px,#008f00 390.2px 392.5px,#000a00 392.5px 394.8px,#003300 394.8px 397.1px,#006600 397.1px 399.4px,#003d00 399.4px 401.7px,#002900 401.7px 404.0px,#140000 404.0px 406.2px,#007000 406.2px 410.8px,#004700 410.8px 413.1px,#005c00 413.1px 415.4px,#00a300 415.4px 417.7px,#007a00 417.7px 420.0px,#00b800 420.0px 422.3px,#000a00 422.3px 424.6px,#004700 424.6px 426.9px,#008f00 426.9px 429.2px,#003300 429.2px 431.5px,#000a00 431.5px 433.8px,#002900 433.8px 436.1px,#001f00 436.1px 438.4px,#005c00 438.4px 440.7px,#000a00 440.7px 443.0px,#000000 443.0px 445.3px,#00b800 445.3px 447.6px,#0a0000 447.6px 449.9px,#002900 449.9px 452.2px,#001400 452.2px 454.4px,#000a00 454.4px 456.7px,#002900 456.7px 459.0px,#000a00 459.0px 461.3px,#007a00 461.3px 463.6px,#002900 463.6px 465.9px,#004700 465.9px 468.2px,#001400 468.2px 470.5px,#007000 470.5px 472.8px,#005c00 472.8px 475.1px,#007000 475.1px 477.4px,#b80000 477.4px 479.7px,#003300 479.7px 482.0px,#006600 482.0px 484.3px,#005200 484.3px 486.6px,#003300 486.6px 488.9px,#0a0000 488.9px 491.2px,#008f00 491.2px 493.5px,#005c00 493.5px 495.8px,#000000 495.8px 498.1px,#004700 498.1px 500.3px,#007a00 500.3px 502.6px,#001f00 502.6px 504.9px,#007a00 504.9px 507.2px,#003300 507.2px 511.8px,#001400 511.8px 514.1px,#290000 514.1px 516.4px,#005c00 516.4px 521.0px,#290000 521.0px 523.3px,#003300 523.3px 525.6px,#006600 525.6px 527.9px,#001f00 527.9px 530.2px,#007000 530.2px 532.5px,#004700 532.5px 534.8px,#000000 534.8px 537.1px,#1f0000 537.1px 539.4px,#005c00 539.4px 541.7px,#140000 541.7px 544.0px,#004700 544.0px 546.3px,#007000 546.3px 550.8px,#1f0000 550.8px 553.1px,#00c200 553.1px 555.4px,#008f00 555.4px 557.7px,#290000 557.7px 560.0px,#002900 560.0px 562.3px,#003d00 562.3px 564.6px,#009900 564.6px 566.9px,#007a00 566.9px 569.2px,#004700 569.2px 571.5px,#005200 571.5px 573.8px,#004700 573.8px 576.1px,#520000 576.1px 578.4px,#008500 578.4px 580.7px,#005c00 580.7px 583.0px,#00e000 583.0px 585.3px,#008500 585.3px 587.6px,#290000 587.6px 589.9px,#003d00 589.9px 592.2px,#005200 592.2px 594.5px,#003d00 594.5px 596.7px,#007a00 596.7px 599.0px,#007000 599.0px 601.3px,#00ad00 601.3px 603.6px,#00c200 603.6px 605.9px,#001f00 605.9px 608.2px,#007a00 608.2px 610.5px,#008500 610.5px 612.8px,#005c00 612.8px 615.1px,#008500 615.1px 617.4px,#006600 617.4px 619.7px,#00ad00 619.7px 624.3px,#007a00 624.3px 628.9px,#008500 628.9px 631.2px,#004700 631.2px 633.5px,#0a0000 633.5px 638.1px,#008f00 638.1px 640.4px,#005200 640.4px 642.7px,#008500 642.7px 644.9px,#008f00 644.9px 647.2px,#007000 647.2px 649.5px,#00a300 649.5px 651.8px,#0a0000 651.8px 654.1px,#003d00 654.1px 656.4px,#005c00 656.4px 658.7px,#005200 658.7px 661.0px,#002900 661.0px 663.3px,#00f500 663.3px 665.6px,#008f00 665.6px 667.9px,#660000 667.9px 670.2px,#003d00 670.2px 672.5px,#007000 672.5px 674.8px,#000a00 674.8px 677.1px,#006600 677.1px 679.4px,#00a300 679.4px 681.7px,#001f00 681.7px 684.0px,#006600 684.0px 686.3px,#005c00 686.3px 688.6px,#002900 688.6px 690.8px,#000000 690.8px 693.1px,#004700 693.1px 695.4px,#007000 695.4px 697.7px,#005c00 697.7px 700.0px,#5c0000 700.0px 702.3px,#006600 702.3px 704.6px,#003300 704.6px 706.9px,#00cc00 706.9px 709.2px,#00a300 709.2px 711.5px,#000a00 711.5px 713.8px,#003d00 713.8px 716.1px,#008500 716.1px 718.4px,#004700 718.4px 720.7px,#000000 720.7px 725.3px,#003300 725.3px 729.9px,#008f00 729.9px 732.2px,#140000 732.2px 734.5px,#003300 734.5px 736.8px,#00a300 736.8px 739.0px,#002900 739.0px 741.3px,#003d00 741.3px 743.6px,#008500 743.6px 745.9px,#007000 745.9px 748.2px,#005200 748.2px 750.5px,#00ad00 750.5px 752.8px,#006600 752.8px 755.1px,#0a0000 755.1px 757.4px,#003300 757.4px 759.7px,#007a00 759.7px 762.0px)"></div><div class="r" style="top:440.00px;background:linear-gradient(90deg,#005c00 0.0px 2.3px,#470000 2.3px 4.6px,#330000 4.6px 6.9px,#290000 6.9px 9.2px,#006600 9.2px 11.5px,#007a00 11.5px 13.8px,#005200 13.8px 16.1px,#00c200 16.1px 18.4px,#009900 18.4px 20.7px,#000000 20.7px 23.0px,#3d0000 23.0px 25.2px,#5c0000 25.2px 27.5px,#001f00 27.5px 29.8px,#008500 29.8px 32.1px,#008f00 32.1px 34.4px,#3d0000 34.4px 36.7px,#00ad00 36.7px 39.0px,#003300 39.0px 41.3px,#1f0000 41.3px 43.6px,#002900 43.6px 45.9px,#290000 45.9px 48.2px,#005200 48.2px 50.5px,#008500 50.5px 52.8px,#003300 52.8px 55.1px,#001400 55.1px 57.4px,#004700 57.4px 59.7px,#005c00 59.7px 62.0px,#002900 62.0px 64.3px,#008f00 64.3px 66.6px,#000a00 66.6px 68.9px,#8f0000 68.9px 71.2px,#00a300 71.2px 73.4px,#001f00 73.4px 75.7px,#330000 75.7px 78.0px,#003d00 78.0px 80.3px,#009900 80.3px 82.6px,#00a300 82.6px 84.9px,#00b800 84.9px 87.2px,#007a00 87.2px 89.5px,#00ad00 89.5px 91.8px,#000000 91.8px 94.1px,#005200 94.1px 96.4px,#003300 96.4px 98.7px,#005c00 98.7px 101.0px,#000a00 101.0px 103.3px,#000000 103.3px 105.6px,#004700 105.6px 107.9px,#00ad00 107.9px 110.2px,#000000 110.2px 112.5px,#006600 112.5px 114.8px,#002900 114.8px 117.1px,#001400 117.1px 119.3px,#003300 119.3px 121.6px,#00a300 121.6px 123.9px,#000000 123.9px 126.2px,#001f00 126.2px 128.5px,#008f00 128.5px 130.8px,#001f00 130.8px 133.1px,#001400 133.1px 135.4px,#140000 135.4px 137.7px,#002900 137.7px 140.0px,#004700 140.0px 142.3px,#005c00 142.3px 144.6px,#009900 144.6px 146.9px,#008f00 146.9px 149.2px,#520000 149.2px 151.5px,#00ad00 151.5px 153.8px,#004700 153.8px 156.1px,#000a00 156.1px 158.4px,#002900 158.4px 160.7px,#007000 160.7px 163.0px,#00b800 163.0px 165.3px,#000000 165.3px 167.5px,#001400 167.5px 169.8px,#001f00 169.8px 172.1px,#003d00 172.1px 174.4px,#003300 174.4px 176.7px,#005200 176.7px 179.0px,#003300 179.0px 181.3px,#005200 181.3px 183.6px,#004700 183.6px 185.9px,#520000 185.9px 188.2px,#5c0000 188.2px 190.5px,#000000 190.5px 192.8px,#005c00 192.8px 195.1px,#001f00 195.1px 197.4px,#140000 197.4px 199.7px,#005c00 199.7px 202.0px,#009900 202.0px 204.3px,#001f00 204.3px 206.6px,#002900 206.6px 208.9px,#004700 208.9px 211.2px,#002900 211.2px 213.5px,#1f0000 213.5px 215.7px,#006600 215.7px 218.0px,#004700 218.0px 220.3px,#002900 220.3px 222.6px,#004700 222.6px 224.9px,#008500 224.9px 227.2px,#003d00 227.2px 229.5px,#000a00 229.5px 231.8px,#470000 231.8px 234.1px,#000000 234.1px 236.4px,#007000 236.4px 238.7px,#1f0000 238.7px 241.0px,#008500 241.0px 243.3px,#005c00 243.3px 245.6px,#003300 245.6px 247.9px,#006600 247.9px 250.2px,#008500 250.2px 252.5px,#001400 252.5px 254.8px,#290000 254.8px 257.1px,#002900 257.1px 259.4px,#140000 259.4px 261.7px,#001f00 261.7px 263.9px,#003300 263.9px 266.2px,#008500 266.2px 268.5px,#001400 268.5px 270.8px,#003d00 270.8px 273.1px,#140000 273.1px 275.4px,#5c0000 275.4px 277.7px,#00a300 277.7px 280.0px,#007000 280.0px 282.3px,#002900 282.3px 284.6px,#140000 284.6px 286.9px,#290000 286.9px 289.2px,#1f0000 289.2px 291.5px,#001400 291.5px 293.8px,#005200 293.8px 296.1px,#003d00 296.1px 298.4px,#005c00 298.4px 300.7px,#140000 300.7px 303.0px,#850000 303.0px 305.3px,#001f00 305.3px 307.6px,#520000 307.6px 309.8px,#005200 309.8px 312.1px,#006600 312.1px 314.4px,#009900 314.4px 316.7px,#000a00 316.7px 319.0px,#006600 319.0px 321.3px,#007a00 321.3px 323.6px,#00cc00 323.6px 325.9px,#003300 325.9px 328.2px,#006600 328.2px 330.5px,#007a00 330.5px 332.8px,#3d0000 332.8px 335.1px,#003d00 335.1px 337.4px,#001f00 337.4px 339.7px,#003300 339.7px 342.0px,#003d00 342.0px 344.3px,#000a00 344.3px 346.6px,#1f0000 346.6px 348.9px,#000a00 348.9px 351.2px,#005c00 351.2px 353.5px,#00cc00 353.5px 355.8px,#003300 355.8px 360.3px,#00cc00 360.3px 362.6px,#004700 362.6px 364.9px,#001400 364.9px 367.2px,#660000 367.2px 369.5px,#0a0000 369.5px 371.8px,#001f00 371.8px 374.1px,#006600 374.1px 376.4px,#009900 376.4px 378.7px,#006600 378.7px 381.0px,#470000 381.0px 383.3px,#3d0000 383.3px 385.6px,#cc0000 385.6px 387.9px,#330000 387.9px 390.2px,#000a00 390.2px 392.5px,#290000 392.5px 394.8px,#470000 394.8px 397.1px,#000a00 397.1px 399.4px,#ff0000 399.4px 401.7px,#000a00 401.7px 404.0px,#b80000 404.0px 406.2px,#003300 406.2px 408.5px,#330000 408.5px 410.8px,#990000 410.8px 415.4px,#001400 415.4px 417.7px,#5c0000 417.7px 420.0px,#a30000 420.0px 422.3px,#1f0000 422.3px 424.6px,#0a0000 424.6px 426.9px,#290000 426.9px 429.2px,#000000 429.2px 431.5px,#5c0000 431.5px 433.8px,#470000 433.8px 436.1px,#3d0000 436.1px 438.4px,#330000 438.4px 440.7px,#0a0000 440.7px 443.0px,#140000 443.0px 445.3px,#850000 445.3px 447.6px,#8f0000 447.6px 449.9px,#470000 449.9px 452.2px,#0a0000 452.2px 454.4px,#1f0000 454.4px 456.7px,#5c0000 456.7px 461.3px,#990000 461.3px 463.6px,#b80000 463.6px 465.9px,#330000 465.9px 468.2px,#3d0000 468.2px 470.5px,#330000 470.5px 472.8px,#990000 472.8px 475.1px,#470000 475.1px 477.4px,#001f00 477.4px 479.7px,#1f0000 479.7px 482.0px,#520000 482.0px 484.3px,#660000 484.3px 486.6px,#140000 486.6px 488.9px,#003d00 488.9px 491.2px,#ad0000 491.2px 493.5px,#a30000 493.5px 495.8px,#000000 495.8px 498.1px,#660000 498.1px 500.3px,#520000 500.3px 502.6px,#7a0000 502.6px 504.9px,#001400 504.9px 507.2px,#000a00 507.2px 509.5px,#5c0000 509.5px 511.8px,#004700 511.8px 514.1px,#330000 514.1px 516.4px,#008f00 516.4px 518.7px,#3d0000 518.7px 521.0px,#660000 521.0px 523.3px,#a30000 523.3px 525.6px,#290000 525.6px 527.9px,#ff0000 527.9px 532.5px,#003d00 532.5px 534.8px,#330000 534.8px 537.1px,#850000 537.1px 539.4px,#660000 539.4px 541.7px,#007a00 541.7px 544.0px,#0a0000 544.0px 546.3px,#470000 546.3px 548.5px,#ad0000 548.5px 550.8px,#470000 550.8px 553.1px,#0a0000 553.1px 555.4px,#470000 555.4px 557.7px,#000000 557.7px 560.0px,#660000 560.0px 562.3px,#004700 562.3px 564.6px,#520000 564.6px 566.9px,#f50000 566.9px 569.2px,#0a0000 569.2px 571.5px,#ad0000 571.5px 573.8px,#003300 573.8px 576.1px,#000a00 576.1px 578.4px,#0a0000 578.4px 580.7px,#5c0000 580.7px 583.0px,#700000 583.0px 585.3px,#8f0000 585.3px 587.6px,#ff0000 587.6px 589.9px,#006600 589.9px 592.2px,#470000 592.2px 594.5px,#001f00 594.5px 596.7px,#000000 596.7px 599.0px,#3d0000 599.0px 601.3px,#140000 601.3px 603.6px,#520000 603.6px 605.9px,#140000 605.9px 608.2px,#a30000 608.2px 610.5px,#470000 610.5px 612.8px,#003300 612.8px 615.1px,#8f0000 615.1px 617.4px,#660000 617.4px 619.7px,#140000 619.7px 622.0px,#000000 622.0px 624.3px,#850000 624.3px 626.6px,#470000 626.6px 628.9px,#004700 628.9px 631.2px,#c20000 631.2px 633.5px,#ad0000 633.5px 635.8px,#660000 635.8px 640.4px,#520000 640.4px 642.7px,#0a0000 642.7px 644.9px,#000000 644.9px 647.2px,#b80000 647.2px 649.5px,#001f00 649.5px 651.8px,#470000 651.8px 654.1px,#c20000 654.1px 656.4px,#5c0000 656.4px 658.7px,#b80000 658.7px 661.0px,#700000 661.0px 663.3px,#004700 663.3px 665.6px,#470000 665.6px 667.9px,#005c00 667.9px 670.2px,#005200 670.2px 672.5px,#a30000 672.5px 674.8px,#1f0000 674.8px 677.1px,#330000 677.1px 679.4px,#5c0000 679.4px 681.7px,#b80000 681.7px 684.0px,#660000 684.0px 686.3px,#7a0000 686.3px 688.6px,#001f00 688.6px 690.8px,#ad0000 690.8px 693.1px,#001400 693.1px 695.4px,#001f00 695.4px 697.7px,#1f0000 697.7px 700.0px,#005200 700.0px 702.3px,#001f00 702.3px 704.6px,#8f0000 704.6px 706.9px,#3d0000 706.9px 709.2px,#7a0000 709.2px 711.5px,#660000 711.5px 713.8px,#330000 713.8px 716.1px,#470000 716.1px 718.4px,#1f0000 718.4px 720.7px,#3d0000 720.7px 723.0px,#290000 723.0px 725.3px,#990000 725.3px 727.6px,#001400 727.6px 729.9px,#003d00 729.9px 732.2px,#000a00 732.2px 734.5px,#520000 734.5px 736.8px,#ad0000 736.8px 739.0px,#000000 739.0px 741.3px,#850000 741.3px 743.6px,#470000 743.6px 745.9px,#290000 745.9px 748.2px,#5c0000 748.2px 750.5px,#8f0000 750.5px 752.8px,#520000 752.8px 757.4px,#001400 757.4px 759.7px,#5c0000 759.7px 762.0px)"></div><div class="r" style="top:465.33px;background:linear-gradient(90deg,#005c00 0.0px 2.3px,#004700 2.3px 4.6px,#0a0000 4.6px 6.9px,#000000 6.9px 9.2px,#00c200 9.2px 11.5px,#004700 11.5px 13.8px,#002900 13.8px 16.1px,#140000 16.1px 18.4px,#0a0000 18.4px 20.7px,#000a00 20.7px 23.0px,#1f0000 23.0px 25.2px,#005c00 25.2px 27.5px,#000a00 27.5px 29.8px,#005c00 29.8px 32.1px,#004700 32.1px 34.4px,#330000 34.4px 36.7px,#007a00 36.7px 39.0px,#290000 39.0px 41.3px,#003300 41.3px 43.6px,#0a0000 43.6px 45.9px,#003300 45.9px 48.2px,#003d00 48.2px 52.8px,#006600 52.8px 55.1px,#008f00 55.1px 57.4px,#003300 57.4px 59.7px,#001f00 59.7px 62.0px,#006600 62.0px 64.3px,#000a00 64.3px 66.6px,#000000 66.6px 68.9px,#520000 68.9px 71.2px,#006600 71.2px 73.4px,#002900 73.4px 75.7px,#005200 75.7px 78.0px,#00cc00 78.0px 80.3px,#00b800 80.3px 82.6px,#003300 82.6px 89.5px,#008500 89.5px 91.8px,#005c00 91.8px 94.1px,#004700 94.1px 96.4px,#001400 96.4px 98.7px,#007000 98.7px 101.0px,#3d0000 101.0px 103.3px,#002900 103.3px 105.6px,#001f00 105.6px 107.9px,#008500 107.9px 110.2px,#000000 110.2px 112.5px,#008f00 112.5px 114.8px,#290000 114.8px 117.1px,#003d00 117.1px 119.3px,#002900 119.3px 121.6px,#005200 121.6px 123.9px,#140000 123.9px 126.2px,#007000 126.2px 128.5px,#003d00 128.5px 130.8px,#140000 130.8px 133.1px,#003300 133.1px 135.4px,#0a0000 135.4px 137.7px,#001f00 137.7px 140.0px,#007000 140.0px 142.3px,#005200 142.3px 144.6px,#007000 144.6px 146.9px,#008500 146.9px 149.2px,#002900 149.2px 151.5px,#007a00 151.5px 153.8px,#001400 153.8px 156.1px,#140000 156.1px 158.4px,#000a00 158.4px 160.7px,#000000 160.7px 163.0px,#004700 163.0px 165.3px,#005c00 165.3px 167.5px,#008500 167.5px 169.8px,#002900 169.8px 172.1px,#006600 172.1px 174.4px,#005c00 174.4px 176.7px,#520000 176.7px 179.0px,#002900 179.0px 181.3px,#005c00 181.3px 183.6px,#005200 183.6px 185.9px,#003300 185.9px 188.2px,#470000 188.2px 190.5px,#003300 190.5px 192.8px,#00c200 192.8px 195.1px,#002900 195.1px 197.4px,#003300 197.4px 204.3px,#0a0000 204.3px 206.6px,#005c00 206.6px 208.9px,#290000 208.9px 211.2px,#003d00 211.2px 213.5px,#000000 213.5px 215.7px,#003300 215.7px 218.0px,#005200 218.0px 220.3px,#001f00 220.3px 222.6px,#004700 222.6px 224.9px,#000000 224.9px 227.2px,#000a00 227.2px 229.5px,#003d00 229.5px 234.1px,#140000 234.1px 236.4px,#330000 236.4px 238.7px,#003d00 238.7px 241.0px,#00b800 241.0px 243.3px,#003300 243.3px 247.9px,#1f0000 247.9px 250.2px,#000a00 250.2px 252.5px,#003300 252.5px 254.8px,#001f00 254.8px 257.1px,#002900 257.1px 261.7px,#006600 261.7px 263.9px,#005200 263.9px 266.2px,#003d00 266.2px 268.5px,#000000 268.5px 270.8px,#003d00 270.8px 273.1px,#005c00 273.1px 275.4px,#290000 275.4px 277.7px,#005c00 277.7px 280.0px,#140000 280.0px 282.3px,#000000 282.3px 286.9px,#470000 286.9px 289.2px,#005200 289.2px 291.5px,#003300 291.5px 293.8px,#008500 293.8px 296.1px,#003300 296.1px 298.4px,#005c00 298.4px 300.7px,#0a0000 300.7px 303.0px,#000a00 303.0px 305.3px,#002900 305.3px 307.6px,#140000 307.6px 309.8px,#001400 309.8px 312.1px,#005c00 312.1px 314.4px,#009900 314.4px 316.7px,#00ad00 316.7px 319.0px,#008500 319.0px 321.3px,#00ad00 321.3px 323.6px,#006600 323.6px 328.2px,#004700 328.2px 330.5px,#005200 330.5px 332.8px,#001400 332.8px 335.1px,#000a00 335.1px 337.4px,#002900 337.4px 339.7px,#00b800 339.7px 342.0px,#005200 342.0px 344.3px,#0a0000 344.3px 346.6px,#005c00 346.6px 348.9px,#008f00 348.9px 351.2px,#005200 351.2px 353.5px,#007000 353.5px 355.8px,#000a00 355.8px 358.0px,#004700 358.0px 360.3px,#00c200 360.3px 362.6px,#008500 362.6px 364.9px,#003300 364.9px 367.2px,#140000 367.2px 369.5px,#001f00 369.5px 374.1px,#004700 374.1px 376.4px,#006600 376.4px 378.7px,#000a00 378.7px 381.0px,#3d0000 381.0px 383.3px,#140000 383.3px 385.6px,#b80000 385.6px 387.9px,#001400 387.9px 390.2px,#000000 390.2px 392.5px,#7a0000 392.5px 394.8px,#001f00 394.8px 397.1px,#290000 397.1px 399.4px,#ff0000 399.4px 401.7px,#850000 401.7px 404.0px,#660000 404.0px 406.2px,#005c00 406.2px 408.5px,#330000 408.5px 410.8px,#850000 410.8px 413.1px,#c20000 413.1px 415.4px,#003d00 415.4px 417.7px,#850000 417.7px 420.0px,#7a0000 420.0px 422.3px,#330000 422.3px 424.6px,#470000 424.6px 426.9px,#3d0000 426.9px 429.2px,#520000 429.2px 431.5px,#7a0000 431.5px 433.8px,#5c0000 433.8px 436.1px,#a30000 436.1px 438.4px,#290000 438.4px 440.7px,#0a0000 440.7px 443.0px,#850000 443.0px 445.3px,#7a0000 445.3px 447.6px,#850000 447.6px 449.9px,#1f0000 449.9px 452.2px,#003d00 452.2px 454.4px,#700000 454.4px 456.7px,#140000 456.7px 459.0px,#3d0000 459.0px 461.3px,#700000 461.3px 463.6px,#990000 463.6px 465.9px,#660000 465.9px 468.2px,#700000 468.2px 470.5px,#000a00 470.5px 472.8px,#990000 472.8px 475.1px,#520000 475.1px 477.4px,#003300 477.4px 479.7px,#3d0000 479.7px 482.0px,#470000 482.0px 484.3px,#5c0000 484.3px 486.6px,#330000 486.6px 488.9px,#700000 488.9px 491.2px,#5c0000 491.2px 493.5px,#c20000 493.5px 495.8px,#330000 495.8px 498.1px,#8f0000 498.1px 500.3px,#000a00 500.3px 502.6px,#1f0000 502.6px 504.9px,#470000 504.9px 507.2px,#3d0000 507.2px 509.5px,#b80000 509.5px 511.8px,#002900 511.8px 514.1px,#290000 514.1px 516.4px,#003300 516.4px 518.7px,#470000 518.7px 521.0px,#8f0000 521.0px 523.3px,#520000 523.3px 525.6px,#330000 525.6px 527.9px,#ff0000 527.9px 530.2px,#850000 530.2px 532.5px,#002900 532.5px 534.8px,#850000 534.8px 537.1px,#5c0000 537.1px 539.4px,#290000 539.4px 541.7px,#001400 541.7px 544.0px,#a30000 544.0px 546.3px,#0a0000 546.3px 548.5px,#700000 548.5px 550.8px,#1f0000 550.8px 553.1px,#002900 553.1px 555.4px,#470000 555.4px 557.7px,#290000 557.7px 560.0px,#e00000 560.0px 562.3px,#140000 562.3px 564.6px,#000a00 564.6px 566.9px,#d60000 566.9px 569.2px,#0a0000 569.2px 571.5px,#660000 571.5px 573.8px,#470000 573.8px 576.1px,#1f0000 576.1px 580.7px,#5c0000 580.7px 583.0px,#140000 583.0px 585.3px,#290000 585.3px 587.6px,#ad0000 587.6px 589.9px,#006600 589.9px 592.2px,#000a00 592.2px 594.5px,#001400 594.5px 596.7px,#5c0000 596.7px 599.0px,#700000 599.0px 601.3px,#140000 601.3px 603.6px,#520000 603.6px 605.9px,#290000 605.9px 608.2px,#660000 608.2px 610.5px,#000a00 610.5px 612.8px,#3d0000 612.8px 615.1px,#a30000 615.1px 619.7px,#330000 619.7px 622.0px,#1f0000 622.0px 624.3px,#140000 624.3px 626.6px,#7a0000 626.6px 628.9px,#000000 628.9px 631.2px,#660000 631.2px 633.5px,#7a0000 633.5px 635.8px,#8f0000 635.8px 638.1px,#700000 638.1px 642.7px,#520000 642.7px 644.9px,#470000 644.9px 647.2px,#3d0000 647.2px 651.8px,#5c0000 651.8px 654.1px,#e00000 654.1px 656.4px,#850000 656.4px 658.7px,#990000 658.7px 661.0px,#700000 661.0px 663.3px,#000a00 663.3px 665.6px,#c20000 665.6px 667.9px,#002900 667.9px 670.2px,#290000 670.2px 672.5px,#1f0000 672.5px 674.8px,#3d0000 674.8px 677.1px,#ad0000 677.1px 679.4px,#cc0000 679.4px 681.7px,#850000 681.7px 684.0px,#ad0000 684.0px 686.3px,#330000 686.3px 688.6px,#850000 688.6px 690.8px,#660000 690.8px 693.1px,#002900 693.1px 695.4px,#001400 695.4px 697.7px,#7a0000 697.7px 700.0px,#660000 700.0px 702.3px,#5c0000 702.3px 704.6px,#290000 704.6px 706.9px,#660000 706.9px 709.2px,#990000 709.2px 711.5px,#d60000 711.5px 713.8px,#520000 713.8px 716.1px,#003300 716.1px 720.7px,#1f0000 720.7px 723.0px,#0a0000 723.0px 725.3px,#ad0000 725.3px 727.6px,#330000 727.6px 729.9px,#000000 729.9px 732.2px,#7a0000 732.2px 734.5px,#8f0000 734.5px 736.8px,#7a0000 736.8px 739.0px,#004700 739.0px 741.3px,#eb0000 741.3px 743.6px,#330000 743.6px 748.2px,#140000 748.2px 750.5px,#990000 750.5px 752.8px,#470000 752.8px 755.1px,#990000 755.1px 757.4px,#7a0000 757.4px 759.7px,#990000 759.7px 762.0px)"></div><div class="r" style="top:490.67px;background:linear-gradient(90deg,#007000 0.0px 2.3px,#003d00 2.3px 4.6px,#001f00 4.6px 6.9px,#000a00 6.9px 9.2px,#007a00 9.2px 13.8px,#009900 13.8px 16.1px,#008500 16.1px 18.4px,#007000 18.4px 20.7px,#3d0000 20.7px 23.0px,#000000 23.0px 25.2px,#0a0000 25.2px 27.5px,#006600 27.5px 29.8px,#007a00 29.8px 32.1px,#008f00 32.1px 34.4px,#003300 34.4px 36.7px,#00d600 36.7px 39.0px,#004700 39.0px 41.3px,#002900 41.3px 43.6px,#000a00 43.6px 45.9px,#1f0000 45.9px 48.2px,#004700 48.2px 50.5px,#008f00 50.5px 52.8px,#005c00 52.8px 57.4px,#00ad00 57.4px 59.7px,#003d00 59.7px 62.0px,#005200 62.0px 64.3px,#007000 64.3px 66.6px,#0a0000 66.6px 68.9px,#140000 68.9px 71.2px,#007000 71.2px 73.4px,#002900 73.4px 75.7px,#005c00 75.7px 78.0px,#007a00 78.0px 80.3px,#005200 80.3px 82.6px,#003300 82.6px 84.9px,#007a00 84.9px 87.2px,#005200 87.2px 89.5px,#007a00 89.5px 91.8px,#002900 91.8px 94.1px,#006600 94.1px 96.4px,#002900 96.4px 98.7px,#004700 98.7px 103.3px,#002900 103.3px 105.6px,#007000 105.6px 107.9px,#00c200 107.9px 110.2px,#005c00 110.2px 112.5px,#008f00 112.5px 114.8px,#002900 114.8px 117.1px,#004700 117.1px 119.3px,#008f00 119.3px 121.6px,#004700 121.6px 123.9px,#001f00 123.9px 126.2px,#009900 126.2px 128.5px,#005200 128.5px 130.8px,#003d00 130.8px 133.1px,#001f00 133.1px 135.4px,#001400 135.4px 137.7px,#005c00 137.7px 142.3px,#007000 142.3px 149.2px,#1f0000 149.2px 151.5px,#007a00 151.5px 153.8px,#003d00 153.8px 156.1px,#002900 156.1px 158.4px,#001f00 158.4px 160.7px,#005200 160.7px 163.0px,#007000 163.0px 165.3px,#000a00 165.3px 167.5px,#008f00 167.5px 169.8px,#008500 169.8px 172.1px,#003d00 172.1px 176.7px,#140000 176.7px 179.0px,#007000 179.0px 181.3px,#007a00 181.3px 183.6px,#006600 183.6px 185.9px,#000000 185.9px 188.2px,#001400 188.2px 190.5px,#007000 190.5px 192.8px,#007a00 192.8px 195.1px,#003300 195.1px 197.4px,#005200 197.4px 202.0px,#007a00 202.0px 204.3px,#005c00 204.3px 206.6px,#007000 206.6px 208.9px,#290000 208.9px 211.2px,#002900 211.2px 213.5px,#140000 213.5px 215.7px,#001400 215.7px 218.0px,#009900 218.0px 220.3px,#006600 220.3px 222.6px,#00b800 222.6px 224.9px,#003d00 224.9px 227.2px,#005200 227.2px 229.5px,#001f00 229.5px 231.8px,#001400 231.8px 234.1px,#000000 234.1px 236.4px,#001400 236.4px 238.7px,#290000 238.7px 241.0px,#00e000 241.0px 243.3px,#00ad00 243.3px 245.6px,#330000 245.6px 247.9px,#007a00 247.9px 250.2px,#005c00 250.2px 252.5px,#006600 252.5px 254.8px,#001f00 254.8px 259.4px,#003d00 259.4px 266.2px,#003300 266.2px 268.5px,#008500 268.5px 270.8px,#006600 270.8px 273.1px,#008500 273.1px 275.4px,#000a00 275.4px 277.7px,#008500 277.7px 280.0px,#007000 280.0px 284.6px,#001f00 284.6px 286.9px,#001400 286.9px 289.2px,#00a300 289.2px 291.5px,#000000 291.5px 293.8px,#007a00 293.8px 298.4px,#003d00 298.4px 300.7px,#006600 300.7px 303.0px,#001400 303.0px 305.3px,#000000 305.3px 307.6px,#140000 307.6px 309.8px,#0a0000 309.8px 312.1px,#003300 312.1px 314.4px,#007a00 314.4px 316.7px,#00a300 316.7px 319.0px,#006600 319.0px 323.6px,#00a300 323.6px 325.9px,#003d00 325.9px 328.2px,#005200 328.2px 330.5px,#004700 330.5px 332.8px,#3d0000 332.8px 335.1px,#007000 335.1px 337.4px,#004700 337.4px 339.7px,#006600 339.7px 342.0px,#000a00 342.0px 344.3px,#002900 344.3px 348.9px,#008f00 348.9px 351.2px,#003d00 351.2px 353.5px,#00cc00 353.5px 355.8px,#000a00 355.8px 358.0px,#006600 358.0px 360.3px,#00b800 360.3px 362.6px,#000000 362.6px 364.9px,#004700 364.9px 367.2px,#140000 367.2px 369.5px,#520000 369.5px 371.8px,#000000 371.8px 374.1px,#008f00 374.1px 376.4px,#004700 376.4px 378.7px,#005200 378.7px 381.0px,#cc0000 381.0px 383.3px,#8f0000 383.3px 385.6px,#d60000 385.6px 387.9px,#0a0000 387.9px 390.2px,#000000 390.2px 392.5px,#5c0000 392.5px 394.8px,#0a0000 394.8px 397.1px,#470000 397.1px 399.4px,#ff0000 399.4px 401.7px,#3d0000 401.7px 404.0px,#990000 404.0px 406.2px,#330000 406.2px 408.5px,#000000 408.5px 410.8px,#850000 410.8px 413.1px,#700000 413.1px 415.4px,#3d0000 415.4px 417.7px,#c20000 417.7px 420.0px,#5c0000 420.0px 422.3px,#330000 422.3px 424.6px,#470000 424.6px 426.9px,#140000 426.9px 429.2px,#001400 429.2px 431.5px,#7a0000 431.5px 433.8px,#a30000 433.8px 436.1px,#5c0000 436.1px 438.4px,#002900 438.4px 440.7px,#330000 440.7px 443.0px,#700000 443.0px 445.3px,#d60000 445.3px 447.6px,#3d0000 447.6px 452.2px,#330000 452.2px 454.4px,#5c0000 454.4px 456.7px,#470000 456.7px 459.0px,#3d0000 459.0px 461.3px,#7a0000 461.3px 463.6px,#5c0000 463.6px 465.9px,#3d0000 465.9px 468.2px,#470000 468.2px 470.5px,#700000 470.5px 472.8px,#b80000 472.8px 475.1px,#8f0000 475.1px 477.4px,#001400 477.4px 479.7px,#520000 479.7px 482.0px,#001f00 482.0px 484.3px,#1f0000 484.3px 486.6px,#520000 486.6px 488.9px,#001400 488.9px 491.2px,#eb0000 491.2px 493.5px,#660000 493.5px 495.8px,#290000 495.8px 498.1px,#7a0000 498.1px 500.3px,#290000 500.3px 502.6px,#cc0000 502.6px 504.9px,#c20000 504.9px 507.2px,#660000 507.2px 509.5px,#eb0000 509.5px 511.8px,#007000 511.8px 514.1px,#3d0000 514.1px 516.4px,#850000 516.4px 518.7px,#7a0000 518.7px 521.0px,#140000 521.0px 523.3px,#700000 523.3px 525.6px,#000a00 525.6px 527.9px,#e00000 527.9px 530.2px,#b80000 530.2px 532.5px,#290000 532.5px 534.8px,#990000 534.8px 537.1px,#3d0000 537.1px 539.4px,#660000 539.4px 541.7px,#1f0000 541.7px 544.0px,#520000 544.0px 546.3px,#5c0000 546.3px 548.5px,#850000 548.5px 550.8px,#5c0000 550.8px 553.1px,#660000 553.1px 555.4px,#5c0000 555.4px 557.7px,#cc0000 557.7px 560.0px,#ff0000 560.0px 562.3px,#330000 562.3px 564.6px,#ad0000 564.6px 566.9px,#e00000 566.9px 569.2px,#290000 569.2px 571.5px,#990000 571.5px 573.8px,#660000 573.8px 576.1px,#000a00 576.1px 578.4px,#1f0000 578.4px 580.7px,#a30000 580.7px 583.0px,#850000 583.0px 585.3px,#ad0000 585.3px 587.6px,#850000 587.6px 589.9px,#290000 589.9px 592.2px,#000000 592.2px 594.5px,#1f0000 594.5px 596.7px,#330000 596.7px 599.0px,#cc0000 599.0px 601.3px,#330000 601.3px 603.6px,#7a0000 603.6px 605.9px,#000000 605.9px 608.2px,#8f0000 608.2px 610.5px,#470000 610.5px 612.8px,#850000 612.8px 615.1px,#520000 615.1px 617.4px,#e00000 617.4px 619.7px,#001f00 619.7px 622.0px,#0a0000 622.0px 624.3px,#7a0000 624.3px 626.6px,#660000 626.6px 628.9px,#140000 628.9px 631.2px,#cc0000 631.2px 633.5px,#660000 633.5px 635.8px,#3d0000 635.8px 640.4px,#0a0000 640.4px 642.7px,#660000 642.7px 644.9px,#8f0000 644.9px 649.5px,#a30000 649.5px 651.8px,#7a0000 651.8px 654.1px,#ad0000 654.1px 656.4px,#660000 656.4px 658.7px,#c20000 658.7px 661.0px,#990000 661.0px 663.3px,#001400 663.3px 665.6px,#c20000 665.6px 667.9px,#290000 667.9px 670.2px,#002900 670.2px 672.5px,#520000 672.5px 674.8px,#470000 674.8px 677.1px,#7a0000 677.1px 681.7px,#a30000 681.7px 684.0px,#700000 684.0px 686.3px,#000a00 686.3px 688.6px,#990000 688.6px 690.8px,#0a0000 690.8px 693.1px,#3d0000 693.1px 695.4px,#520000 695.4px 697.7px,#330000 697.7px 700.0px,#5c0000 700.0px 704.6px,#700000 704.6px 706.9px,#5c0000 706.9px 709.2px,#850000 709.2px 711.5px,#ff0000 711.5px 713.8px,#cc0000 713.8px 716.1px,#3d0000 716.1px 718.4px,#700000 718.4px 720.7px,#003300 720.7px 723.0px,#330000 723.0px 725.3px,#660000 725.3px 727.6px,#470000 727.6px 729.9px,#0a0000 729.9px 732.2px,#7a0000 732.2px 734.5px,#8f0000 734.5px 736.8px,#5c0000 736.8px 739.0px,#140000 739.0px 741.3px,#c20000 741.3px 743.6px,#700000 743.6px 745.9px,#290000 745.9px 748.2px,#330000 748.2px 750.5px,#5c0000 750.5px 752.8px,#520000 752.8px 755.1px,#660000 755.1px 757.4px,#001f00 757.4px 759.7px,#850000 759.7px 762.0px)"></div><div class="r" style="top:516.00px;background:linear-gradient(90deg,#007000 0.0px 2.3px,#006600 2.3px 4.6px,#005200 4.6px 6.9px,#003300 6.9px 9.2px,#008500 9.2px 11.5px,#007a00 11.5px 13.8px,#008500 13.8px 16.1px,#001f00 16.1px 18.4px,#003d00 18.4px 20.7px,#290000 20.7px 23.0px,#000000 23.0px 25.2px,#001f00 25.2px 27.5px,#0a0000 27.5px 29.8px,#003d00 29.8px 32.1px,#000000 32.1px 34.4px,#004700 34.4px 36.7px,#008f00 36.7px 39.0px,#005200 39.0px 41.3px,#004700 41.3px 43.6px,#0a0000 43.6px 45.9px,#290000 45.9px 48.2px,#004700 48.2px 50.5px,#007a00 50.5px 52.8px,#290000 52.8px 55.1px,#006600 55.1px 57.4px,#008500 57.4px 59.7px,#005c00 59.7px 62.0px,#003d00 62.0px 64.3px,#007000 64.3px 66.6px,#1f0000 66.6px 68.9px,#290000 68.9px 71.2px,#000a00 71.2px 73.4px,#003d00 73.4px 75.7px,#000a00 75.7px 78.0px,#001400 78.0px 80.3px,#008500 80.3px 82.6px,#005c00 82.6px 84.9px,#008f00 84.9px 87.2px,#005c00 87.2px 89.5px,#004700 89.5px 91.8px,#140000 91.8px 94.1px,#003d00 94.1px 96.4px,#001f00 96.4px 98.7px,#003300 98.7px 101.0px,#1f0000 101.0px 103.3px,#005200 103.3px 105.6px,#003300 105.6px 107.9px,#005200 107.9px 110.2px,#001400 110.2px 112.5px,#003300 112.5px 114.8px,#140000 114.8px 117.1px,#007000 117.1px 119.3px,#008500 119.3px 121.6px,#007000 121.6px 123.9px,#3d0000 123.9px 126.2px,#008f00 126.2px 128.5px,#003300 128.5px 133.1px,#000000 133.1px 135.4px,#005c00 135.4px 137.7px,#006600 137.7px 142.3px,#009900 142.3px 144.6px,#007000 144.6px 146.9px,#008f00 146.9px 149.2px,#3d0000 149.2px 151.5px,#001400 151.5px 153.8px,#007000 153.8px 156.1px,#006600 156.1px 158.4px,#001400 158.4px 160.7px,#0a0000 160.7px 163.0px,#006600 163.0px 165.3px,#003d00 165.3px 167.5px,#008500 167.5px 169.8px,#004700 169.8px 172.1px,#00a300 172.1px 174.4px,#004700 174.4px 176.7px,#001f00 176.7px 179.0px,#003300 179.0px 181.3px,#007a00 181.3px 183.6px,#003300 183.6px 185.9px,#000a00 185.9px 188.2px,#001f00 188.2px 190.5px,#007a00 190.5px 192.8px,#001400 192.8px 195.1px,#003300 195.1px 197.4px,#002900 197.4px 199.7px,#005200 199.7px 202.0px,#007a00 202.0px 204.3px,#0a0000 204.3px 206.6px,#008f00 206.6px 208.9px,#001400 208.9px 211.2px,#004700 211.2px 213.5px,#660000 213.5px 215.7px,#1f0000 215.7px 218.0px,#008500 218.0px 220.3px,#005200 220.3px 222.6px,#007a00 222.6px 224.9px,#002900 224.9px 229.5px,#000a00 229.5px 231.8px,#001400 231.8px 234.1px,#000a00 234.1px 236.4px,#0a0000 236.4px 238.7px,#001400 238.7px 241.0px,#00ad00 241.0px 243.3px,#007000 243.3px 245.6px,#0a0000 245.6px 247.9px,#005200 247.9px 250.2px,#004700 250.2px 252.5px,#000a00 252.5px 254.8px,#003d00 254.8px 257.1px,#002900 257.1px 259.4px,#001400 259.4px 261.7px,#003300 261.7px 263.9px,#008500 263.9px 266.2px,#008f00 266.2px 268.5px,#140000 268.5px 270.8px,#009900 270.8px 273.1px,#003300 273.1px 275.4px,#000000 275.4px 277.7px,#007000 277.7px 280.0px,#005200 280.0px 284.6px,#0a0000 284.6px 286.9px,#007a00 286.9px 289.2px,#006600 289.2px 291.5px,#002900 291.5px 293.8px,#005c00 293.8px 296.1px,#005200 296.1px 298.4px,#00b800 298.4px 300.7px,#003d00 300.7px 303.0px,#003300 303.0px 305.3px,#005200 305.3px 307.6px,#330000 307.6px 309.8px,#002900 309.8px 312.1px,#003300 312.1px 314.4px,#00b800 314.4px 316.7px,#007000 316.7px 319.0px,#008500 319.0px 321.3px,#00ad00 321.3px 323.6px,#009900 323.6px 325.9px,#002900 325.9px 328.2px,#004700 328.2px 330.5px,#001f00 330.5px 332.8px,#140000 332.8px 335.1px,#007a00 335.1px 337.4px,#002900 337.4px 339.7px,#005c00 339.7px 342.0px,#006600 342.0px 344.3px,#140000 344.3px 346.6px,#000a00 346.6px 348.9px,#007a00 348.9px 351.2px,#009900 351.2px 353.5px,#008f00 353.5px 355.8px,#001400 355.8px 358.0px,#007000 358.0px 360.3px,#00ad00 360.3px 362.6px,#001400 362.6px 364.9px,#007a00 364.9px 367.2px,#140000 367.2px 369.5px,#330000 369.5px 371.8px,#003300 371.8px 374.1px,#003d00 374.1px 376.4px,#008f00 376.4px 378.7px,#001f00 378.7px 381.0px,#700000 381.0px 383.3px,#660000 383.3px 385.6px,#cc0000 385.6px 387.9px,#000000 387.9px 392.5px,#470000 392.5px 394.8px,#3d0000 394.8px 397.1px,#470000 397.1px 399.4px,#a30000 399.4px 401.7px,#330000 401.7px 404.0px,#990000 404.0px 406.2px,#0a0000 406.2px 408.5px,#470000 408.5px 410.8px,#520000 410.8px 413.1px,#a30000 413.1px 415.4px,#1f0000 415.4px 417.7px,#e00000 417.7px 420.0px,#7a0000 420.0px 422.3px,#0a0000 422.3px 424.6px,#7a0000 424.6px 426.9px,#000a00 426.9px 429.2px,#0a0000 429.2px 431.5px,#3d0000 431.5px 433.8px,#7a0000 433.8px 436.1px,#700000 436.1px 438.4px,#140000 438.4px 440.7px,#700000 440.7px 445.3px,#660000 445.3px 447.6px,#8f0000 447.6px 449.9px,#330000 449.9px 452.2px,#5c0000 452.2px 454.4px,#8f0000 454.4px 456.7px,#c20000 456.7px 459.0px,#330000 459.0px 461.3px,#8f0000 461.3px 463.6px,#990000 463.6px 465.9px,#470000 465.9px 468.2px,#520000 468.2px 470.5px,#000000 470.5px 472.8px,#470000 472.8px 475.1px,#330000 475.1px 477.4px,#004700 477.4px 479.7px,#850000 479.7px 482.0px,#5c0000 482.0px 484.3px,#cc0000 484.3px 486.6px,#0a0000 486.6px 488.9px,#1f0000 488.9px 491.2px,#a30000 491.2px 493.5px,#b80000 493.5px 495.8px,#140000 495.8px 498.1px,#8f0000 498.1px 500.3px,#330000 500.3px 504.9px,#660000 504.9px 507.2px,#470000 507.2px 509.5px,#ad0000 509.5px 511.8px,#004700 511.8px 514.1px,#3d0000 514.1px 516.4px,#7a0000 516.4px 518.7px,#1f0000 518.7px 521.0px,#5c0000 521.0px 523.3px,#660000 523.3px 525.6px,#005200 525.6px 527.9px,#eb0000 527.9px 530.2px,#7a0000 530.2px 532.5px,#140000 532.5px 534.8px,#850000 534.8px 537.1px,#1f0000 537.1px 539.4px,#660000 539.4px 541.7px,#007a00 541.7px 544.0px,#520000 544.0px 546.3px,#0a0000 546.3px 548.5px,#b80000 548.5px 550.8px,#520000 550.8px 553.1px,#140000 553.1px 555.4px,#0a0000 555.4px 557.7px,#ad0000 557.7px 560.0px,#990000 560.0px 562.3px,#140000 562.3px 564.6px,#520000 564.6px 566.9px,#850000 566.9px 569.2px,#0a0000 569.2px 571.5px,#b80000 571.5px 573.8px,#3d0000 573.8px 576.1px,#1f0000 576.1px 578.4px,#0a0000 578.4px 580.7px,#ad0000 580.7px 585.3px,#a30000 585.3px 587.6px,#ad0000 587.6px 589.9px,#001f00 589.9px 592.2px,#5c0000 592.2px 594.5px,#330000 594.5px 596.7px,#520000 596.7px 599.0px,#290000 599.0px 601.3px,#001400 601.3px 603.6px,#520000 603.6px 605.9px,#660000 605.9px 610.5px,#140000 610.5px 612.8px,#850000 612.8px 615.1px,#cc0000 615.1px 617.4px,#7a0000 617.4px 619.7px,#000a00 619.7px 622.0px,#002900 622.0px 624.3px,#000000 624.3px 626.6px,#ad0000 626.6px 628.9px,#002900 628.9px 631.2px,#8f0000 631.2px 633.5px,#001400 633.5px 635.8px,#8f0000 635.8px 638.1px,#5c0000 638.1px 640.4px,#7a0000 640.4px 644.9px,#c20000 644.9px 647.2px,#1f0000 647.2px 649.5px,#290000 649.5px 651.8px,#520000 651.8px 654.1px,#c20000 654.1px 656.4px,#000a00 656.4px 658.7px,#8f0000 658.7px 661.0px,#330000 661.0px 663.3px,#003300 663.3px 665.6px,#3d0000 665.6px 667.9px,#000a00 667.9px 670.2px,#1f0000 670.2px 672.5px,#5c0000 672.5px 674.8px,#290000 674.8px 677.1px,#a30000 677.1px 679.4px,#990000 679.4px 681.7px,#ad0000 681.7px 684.0px,#140000 684.0px 686.3px,#700000 686.3px 688.6px,#ad0000 688.6px 690.8px,#520000 690.8px 693.1px,#008500 693.1px 695.4px,#470000 695.4px 697.7px,#5c0000 697.7px 700.0px,#990000 700.0px 702.3px,#b80000 702.3px 704.6px,#3d0000 704.6px 706.9px,#290000 706.9px 709.2px,#c20000 709.2px 711.5px,#a30000 711.5px 713.8px,#5c0000 713.8px 718.4px,#7a0000 718.4px 720.7px,#1f0000 720.7px 725.3px,#660000 725.3px 727.6px,#470000 727.6px 729.9px,#330000 729.9px 732.2px,#7a0000 732.2px 734.5px,#330000 734.5px 736.8px,#c20000 736.8px 739.0px,#000000 739.0px 741.3px,#ff0000 741.3px 743.6px,#c20000 743.6px 745.9px,#002900 745.9px 748.2px,#7a0000 748.2px 750.5px,#700000 750.5px 752.8px,#7a0000 752.8px 755.1px,#8f0000 755.1px 757.4px,#290000 757.4px 759.7px,#5c0000 759.7px 762.0px)"></div><div class="r" style="top:541.33px;background:linear-gradient(90deg,#001f00 0.0px 2.3px,#003300 2.3px 4.6px,#007000 4.6px 6.9px,#001f00 6.9px 9.2px,#004700 9.2px 11.5px,#003d00 11.5px 13.8px,#004700 13.8px 16.1px,#000000 16.1px 18.4px,#007a00 18.4px 20.7px,#290000 20.7px 23.0px,#001400 23.0px 25.2px,#000000 25.2px 27.5px,#003300 27.5px 29.8px,#009900 29.8px 32.1px,#005c00 32.1px 34.4px,#004700 34.4px 36.7px,#008f00 36.7px 39.0px,#006600 39.0px 41.3px,#005200 41.3px 43.6px,#520000 43.6px 45.9px,#000a00 45.9px 48.2px,#005200 48.2px 50.5px,#005c00 50.5px 52.8px,#001f00 52.8px 55.1px,#004700 55.1px 57.4px,#006600 57.4px 59.7px,#0a0000 59.7px 62.0px,#005200 62.0px 64.3px,#007a00 64.3px 66.6px,#140000 66.6px 71.2px,#000a00 71.2px 73.4px,#004700 73.4px 75.7px,#005c00 75.7px 78.0px,#006600 78.0px 80.3px,#00cc00 80.3px 82.6px,#008500 82.6px 84.9px,#00a300 84.9px 87.2px,#002900 87.2px 89.5px,#008500 89.5px 91.8px,#001400 91.8px 94.1px,#004700 94.1px 96.4px,#002900 96.4px 98.7px,#005200 98.7px 101.0px,#001400 101.0px 103.3px,#001f00 103.3px 105.6px,#004700 105.6px 107.9px,#00a300 107.9px 110.2px,#330000 110.2px 112.5px,#007a00 112.5px 114.8px,#002900 114.8px 117.1px,#005200 117.1px 119.3px,#008f00 119.3px 121.6px,#006600 121.6px 123.9px,#330000 123.9px 126.2px,#005200 126.2px 128.5px,#007000 128.5px 130.8px,#001400 130.8px 133.1px,#000a00 133.1px 135.4px,#007000 135.4px 137.7px,#290000 137.7px 140.0px,#005c00 140.0px 142.3px,#007000 142.3px 144.6px,#008500 144.6px 146.9px,#009900 146.9px 149.2px,#000a00 149.2px 151.5px,#005200 151.5px 153.8px,#006600 153.8px 158.4px,#001f00 158.4px 163.0px,#005200 163.0px 165.3px,#001400 165.3px 167.5px,#005c00 167.5px 169.8px,#007a00 169.8px 172.1px,#006600 172.1px 176.7px,#005200 176.7px 179.0px,#003300 179.0px 181.3px,#00a300 181.3px 183.6px,#001400 183.6px 185.9px,#002900 185.9px 188.2px,#0a0000 188.2px 190.5px,#007000 190.5px 192.8px,#003300 192.8px 197.4px,#003d00 197.4px 199.7px,#005c00 199.7px 202.0px,#005200 202.0px 204.3px,#003300 204.3px 206.6px,#001400 206.6px 208.9px,#470000 208.9px 211.2px,#003d00 211.2px 213.5px,#330000 213.5px 215.7px,#140000 215.7px 218.0px,#00b800 218.0px 220.3px,#007a00 220.3px 222.6px,#007000 222.6px 227.2px,#001f00 227.2px 229.5px,#004700 229.5px 231.8px,#002900 231.8px 234.1px,#007000 234.1px 236.4px,#000000 236.4px 238.7px,#006600 238.7px 241.0px,#00a300 241.0px 243.3px,#001400 243.3px 247.9px,#009900 247.9px 250.2px,#004700 250.2px 252.5px,#140000 252.5px 257.1px,#005200 257.1px 259.4px,#004700 259.4px 263.9px,#002900 263.9px 266.2px,#009900 266.2px 268.5px,#001400 268.5px 270.8px,#007000 270.8px 273.1px,#008f00 273.1px 275.4px,#700000 275.4px 277.7px,#003300 277.7px 280.0px,#005200 280.0px 282.3px,#004700 282.3px 286.9px,#002900 286.9px 289.2px,#008f00 289.2px 291.5px,#000a00 291.5px 293.8px,#008f00 293.8px 296.1px,#008500 296.1px 298.4px,#006600 298.4px 300.7px,#003300 300.7px 303.0px,#000a00 303.0px 305.3px,#000000 305.3px 307.6px,#0a0000 307.6px 309.8px,#003d00 309.8px 312.1px,#009900 312.1px 314.4px,#007000 314.4px 316.7px,#00a300 316.7px 319.0px,#007000 319.0px 321.3px,#008f00 321.3px 323.6px,#007000 323.6px 325.9px,#005200 325.9px 328.2px,#007000 328.2px 330.5px,#003300 330.5px 332.8px,#7a0000 332.8px 335.1px,#003300 335.1px 339.7px,#005200 339.7px 342.0px,#003300 342.0px 344.3px,#001400 344.3px 348.9px,#007000 348.9px 351.2px,#006600 351.2px 353.5px,#00c200 353.5px 355.8px,#005c00 355.8px 358.0px,#00a300 358.0px 360.3px,#00b800 360.3px 362.6px,#007000 362.6px 367.2px,#001f00 367.2px 371.8px,#003300 371.8px 374.1px,#007a00 374.1px 376.4px,#00ad00 376.4px 378.7px,#007a00 378.7px 381.0px,#d60000 381.0px 383.3px,#700000 383.3px 385.6px,#7a0000 385.6px 387.9px,#001f00 387.9px 390.2px,#520000 390.2px 392.5px,#002900 392.5px 394.8px,#660000 394.8px 397.1px,#7a0000 397.1px 399.4px,#990000 399.4px 401.7px,#520000 401.7px 404.0px,#660000 404.0px 406.2px,#290000 406.2px 408.5px,#000a00 408.5px 410.8px,#990000 410.8px 413.1px,#a30000 413.1px 415.4px,#470000 415.4px 417.7px,#ad0000 417.7px 420.0px,#660000 420.0px 422.3px,#850000 422.3px 424.6px,#700000 424.6px 426.9px,#007a00 426.9px 429.2px,#000000 429.2px 431.5px,#3d0000 431.5px 433.8px,#7a0000 433.8px 436.1px,#b80000 436.1px 438.4px,#003300 438.4px 440.7px,#140000 440.7px 443.0px,#470000 443.0px 445.3px,#3d0000 445.3px 447.6px,#b80000 447.6px 449.9px,#330000 449.9px 452.2px,#660000 452.2px 454.4px,#520000 454.4px 456.7px,#290000 456.7px 461.3px,#b80000 461.3px 463.6px,#0a0000 463.6px 465.9px,#3d0000 465.9px 468.2px,#140000 468.2px 470.5px,#000000 470.5px 472.8px,#660000 472.8px 475.1px,#ff0000 475.1px 477.4px,#1f0000 477.4px 479.7px,#d60000 479.7px 482.0px,#470000 482.0px 484.3px,#520000 484.3px 486.6px,#330000 486.6px 488.9px,#000a00 488.9px 491.2px,#8f0000 491.2px 493.5px,#a30000 493.5px 495.8px,#5c0000 495.8px 498.1px,#eb0000 498.1px 500.3px,#330000 500.3px 504.9px,#3d0000 504.9px 507.2px,#140000 507.2px 509.5px,#ad0000 509.5px 511.8px,#006600 511.8px 514.1px,#140000 514.1px 516.4px,#660000 516.4px 518.7px,#1f0000 518.7px 521.0px,#5c0000 521.0px 523.3px,#520000 523.3px 525.6px,#3d0000 525.6px 527.9px,#c20000 527.9px 530.2px,#a30000 530.2px 532.5px,#000000 532.5px 534.8px,#5c0000 534.8px 537.1px,#700000 537.1px 539.4px,#290000 539.4px 541.7px,#000000 541.7px 544.0px,#330000 544.0px 546.3px,#5c0000 546.3px 548.5px,#e00000 548.5px 550.8px,#7a0000 550.8px 553.1px,#0a0000 553.1px 555.4px,#002900 555.4px 557.7px,#700000 557.7px 560.0px,#990000 560.0px 562.3px,#520000 562.3px 564.6px,#290000 564.6px 566.9px,#8f0000 566.9px 569.2px,#004700 569.2px 571.5px,#700000 571.5px 573.8px,#140000 573.8px 576.1px,#003300 576.1px 578.4px,#330000 578.4px 583.0px,#cc0000 583.0px 585.3px,#a30000 585.3px 587.6px,#ff0000 587.6px 589.9px,#001f00 589.9px 592.2px,#002900 592.2px 594.5px,#001400 594.5px 596.7px,#a30000 596.7px 599.0px,#330000 599.0px 601.3px,#000000 601.3px 603.6px,#5c0000 603.6px 605.9px,#850000 605.9px 608.2px,#f50000 608.2px 610.5px,#140000 610.5px 612.8px,#330000 612.8px 615.1px,#a30000 615.1px 617.4px,#8f0000 617.4px 619.7px,#004700 619.7px 622.0px,#1f0000 622.0px 624.3px,#3d0000 624.3px 626.6px,#660000 626.6px 628.9px,#470000 628.9px 631.2px,#b80000 631.2px 633.5px,#000000 633.5px 635.8px,#700000 635.8px 638.1px,#3d0000 638.1px 640.4px,#700000 640.4px 642.7px,#330000 642.7px 644.9px,#7a0000 644.9px 647.2px,#a30000 647.2px 649.5px,#470000 649.5px 651.8px,#140000 651.8px 654.1px,#b80000 654.1px 656.4px,#140000 656.4px 658.7px,#d60000 658.7px 661.0px,#990000 661.0px 663.3px,#007000 663.3px 665.6px,#700000 665.6px 667.9px,#000000 667.9px 670.2px,#000a00 670.2px 672.5px,#660000 672.5px 674.8px,#3d0000 674.8px 677.1px,#470000 677.1px 679.4px,#3d0000 679.4px 681.7px,#8f0000 681.7px 684.0px,#470000 684.0px 686.3px,#5c0000 686.3px 688.6px,#470000 688.6px 690.8px,#700000 690.8px 693.1px,#330000 693.1px 695.4px,#1f0000 695.4px 697.7px,#470000 697.7px 702.3px,#520000 702.3px 704.6px,#7a0000 704.6px 706.9px,#330000 706.9px 709.2px,#990000 709.2px 711.5px,#b80000 711.5px 713.8px,#700000 713.8px 716.1px,#5c0000 716.1px 718.4px,#005200 718.4px 720.7px,#140000 720.7px 723.0px,#850000 723.0px 725.3px,#520000 725.3px 727.6px,#5c0000 727.6px 729.9px,#1f0000 729.9px 732.2px,#5c0000 732.2px 734.5px,#b80000 734.5px 736.8px,#1f0000 736.8px 739.0px,#005c00 739.0px 741.3px,#f50000 741.3px 743.6px,#850000 743.6px 745.9px,#000000 745.9px 748.2px,#990000 748.2px 750.5px,#700000 750.5px 752.8px,#8f0000 752.8px 755.1px,#520000 755.1px 757.4px,#330000 757.4px 759.7px,#a30000 759.7px 762.0px)"></div><div class="r" style="top:566.67px;background:linear-gradient(90deg,#007000 0.0px 2.3px,#002900 2.3px 4.6px,#008f00 4.6px 6.9px,#003300 6.9px 9.2px,#009900 9.2px 11.5px,#001400 11.5px 13.8px,#007a00 13.8px 16.1px,#000a00 16.1px 18.4px,#001f00 18.4px 20.7px,#290000 20.7px 25.2px,#001f00 25.2px 27.5px,#003d00 27.5px 29.8px,#00b800 29.8px 32.1px,#005200 32.1px 34.4px,#000a00 34.4px 36.7px,#009900 36.7px 39.0px,#001f00 39.0px 41.3px,#290000 41.3px 43.6px,#0a0000 43.6px 45.9px,#001f00 45.9px 48.2px,#004700 48.2px 50.5px,#007a00 50.5px 52.8px,#003300 52.8px 55.1px,#004700 55.1px 57.4px,#005c00 57.4px 62.0px,#004700 62.0px 64.3px,#008f00 64.3px 66.6px,#005c00 66.6px 68.9px,#470000 68.9px 71.2px,#005200 71.2px 73.4px,#003d00 73.4px 75.7px,#001f00 75.7px 78.0px,#002900 78.0px 80.3px,#007000 80.3px 82.6px,#001f00 82.6px 84.9px,#00a300 84.9px 87.2px,#004700 87.2px 89.5px,#008500 89.5px 91.8px,#002900 91.8px 94.1px,#005200 94.1px 96.4px,#003300 96.4px 98.7px,#008500 98.7px 101.0px,#000000 101.0px 103.3px,#001f00 103.3px 105.6px,#002900 105.6px 107.9px,#005c00 107.9px 110.2px,#004700 110.2px 112.5px,#007a00 112.5px 114.8px,#005200 114.8px 117.1px,#007a00 117.1px 121.6px,#00b800 121.6px 123.9px,#140000 123.9px 126.2px,#005200 126.2px 128.5px,#007a00 128.5px 130.8px,#290000 130.8px 133.1px,#0a0000 133.1px 135.4px,#002900 135.4px 137.7px,#003d00 137.7px 140.0px,#007000 140.0px 146.9px,#005200 146.9px 149.2px,#3d0000 149.2px 151.5px,#001400 151.5px 153.8px,#002900 153.8px 156.1px,#003d00 156.1px 158.4px,#007000 158.4px 160.7px,#003300 160.7px 163.0px,#00ad00 163.0px 165.3px,#007a00 165.3px 167.5px,#00b800 167.5px 169.8px,#007000 169.8px 174.4px,#007a00 174.4px 176.7px,#004700 176.7px 179.0px,#003d00 179.0px 181.3px,#008f00 181.3px 183.6px,#003d00 183.6px 185.9px,#003300 185.9px 188.2px,#001f00 188.2px 190.5px,#003d00 190.5px 192.8px,#000a00 192.8px 195.1px,#006600 195.1px 197.4px,#003d00 197.4px 199.7px,#00a300 199.7px 202.0px,#005200 202.0px 204.3px,#0a0000 204.3px 206.6px,#006600 206.6px 208.9px,#290000 208.9px 211.2px,#140000 211.2px 213.5px,#002900 213.5px 218.0px,#008500 218.0px 220.3px,#006600 220.3px 222.6px,#003300 222.6px 224.9px,#005c00 224.9px 227.2px,#002900 227.2px 229.5px,#003d00 229.5px 231.8px,#0a0000 231.8px 234.1px,#004700 234.1px 236.4px,#140000 236.4px 238.7px,#001400 238.7px 241.0px,#00ff00 241.0px 243.3px,#004700 243.3px 245.6px,#140000 245.6px 247.9px,#005200 247.9px 250.2px,#003d00 250.2px 252.5px,#0a0000 252.5px 254.8px,#001400 254.8px 257.1px,#004700 257.1px 259.4px,#007000 259.4px 263.9px,#002900 263.9px 266.2px,#006600 266.2px 268.5px,#001400 268.5px 270.8px,#007a00 270.8px 273.1px,#004700 273.1px 275.4px,#000a00 275.4px 277.7px,#003d00 277.7px 280.0px,#005200 280.0px 282.3px,#007000 282.3px 284.6px,#004700 284.6px 286.9px,#005c00 286.9px 289.2px,#000000 289.2px 291.5px,#003300 291.5px 293.8px,#007a00 293.8px 296.1px,#001f00 296.1px 298.4px,#007000 298.4px 300.7px,#001400 300.7px 303.0px,#002900 303.0px 305.3px,#001400 305.3px 307.6px,#330000 307.6px 309.8px,#002900 309.8px 312.1px,#005200 312.1px 314.4px,#00a300 314.4px 316.7px,#005200 316.7px 319.0px,#007000 319.0px 321.3px,#007a00 321.3px 323.6px,#00a300 323.6px 325.9px,#004700 325.9px 330.5px,#003d00 330.5px 332.8px,#660000 332.8px 335.1px,#005c00 335.1px 337.4px,#008500 337.4px 339.7px,#009900 339.7px 342.0px,#005c00 342.0px 344.3px,#330000 344.3px 346.6px,#002900 346.6px 348.9px,#009900 348.9px 351.2px,#007a00 351.2px 353.5px,#00ff00 353.5px 355.8px,#002900 355.8px 358.0px,#009900 358.0px 360.3px,#00ad00 360.3px 362.6px,#001f00 362.6px 364.9px,#002900 364.9px 367.2px,#007000 367.2px 369.5px,#140000 369.5px 371.8px,#001400 371.8px 374.1px,#005200 374.1px 376.4px,#008500 376.4px 378.7px,#002900 378.7px 381.0px,#850000 381.0px 383.3px,#700000 383.3px 385.6px,#b80000 385.6px 387.9px,#1f0000 387.9px 390.2px,#001400 390.2px 392.5px,#470000 392.5px 394.8px,#000000 394.8px 397.1px,#700000 397.1px 399.4px,#ff0000 399.4px 401.7px,#5c0000 401.7px 404.0px,#8f0000 404.0px 406.2px,#3d0000 406.2px 408.5px,#002900 408.5px 410.8px,#d60000 410.8px 413.1px,#660000 413.1px 415.4px,#000a00 415.4px 417.7px,#b80000 417.7px 420.0px,#1f0000 420.0px 422.3px,#520000 422.3px 424.6px,#3d0000 424.6px 426.9px,#330000 426.9px 429.2px,#520000 429.2px 431.5px,#660000 431.5px 433.8px,#330000 433.8px 436.1px,#ff0000 436.1px 438.4px,#660000 438.4px 440.7px,#0a0000 440.7px 443.0px,#470000 443.0px 445.3px,#8f0000 445.3px 447.6px,#b80000 447.6px 449.9px,#7a0000 449.9px 452.2px,#330000 452.2px 454.4px,#7a0000 454.4px 456.7px,#330000 456.7px 459.0px,#7a0000 459.0px 461.3px,#a30000 461.3px 463.6px,#990000 463.6px 465.9px,#1f0000 465.9px 468.2px,#0a0000 468.2px 470.5px,#001f00 470.5px 472.8px,#ad0000 472.8px 475.1px,#d60000 475.1px 477.4px,#001f00 477.4px 479.7px,#8f0000 479.7px 482.0px,#520000 482.0px 484.3px,#290000 484.3px 486.6px,#990000 486.6px 488.9px,#470000 488.9px 491.2px,#b80000 491.2px 493.5px,#660000 493.5px 495.8px,#140000 495.8px 498.1px,#a30000 498.1px 500.3px,#5c0000 500.3px 502.6px,#8f0000 502.6px 504.9px,#520000 504.9px 507.2px,#660000 507.2px 509.5px,#990000 509.5px 511.8px,#0a0000 511.8px 514.1px,#290000 514.1px 516.4px,#330000 516.4px 518.7px,#0a0000 518.7px 521.0px,#850000 521.0px 523.3px,#520000 523.3px 525.6px,#1f0000 525.6px 527.9px,#ff0000 527.9px 530.2px,#8f0000 530.2px 532.5px,#290000 532.5px 534.8px,#3d0000 534.8px 537.1px,#850000 537.1px 539.4px,#470000 539.4px 541.7px,#003d00 541.7px 544.0px,#660000 544.0px 546.3px,#3d0000 546.3px 548.5px,#b80000 548.5px 550.8px,#850000 550.8px 553.1px,#470000 553.1px 555.4px,#b80000 555.4px 557.7px,#660000 557.7px 560.0px,#700000 560.0px 562.3px,#1f0000 562.3px 564.6px,#140000 564.6px 566.9px,#990000 566.9px 569.2px,#003d00 569.2px 571.5px,#a30000 571.5px 573.8px,#000a00 573.8px 576.1px,#001400 576.1px 578.4px,#0a0000 578.4px 580.7px,#a30000 580.7px 583.0px,#3d0000 583.0px 585.3px,#660000 585.3px 587.6px,#ff0000 587.6px 589.9px,#3d0000 589.9px 592.2px,#001f00 592.2px 594.5px,#0a0000 594.5px 596.7px,#700000 596.7px 599.0px,#3d0000 599.0px 601.3px,#290000 601.3px 603.6px,#8f0000 603.6px 605.9px,#850000 605.9px 608.2px,#d60000 608.2px 610.5px,#001f00 610.5px 612.8px,#700000 612.8px 615.1px,#5c0000 615.1px 617.4px,#d60000 617.4px 619.7px,#1f0000 619.7px 622.0px,#002900 622.0px 624.3px,#700000 624.3px 626.6px,#b80000 626.6px 628.9px,#700000 628.9px 631.2px,#470000 631.2px 633.5px,#5c0000 633.5px 635.8px,#470000 635.8px 638.1px,#700000 638.1px 640.4px,#1f0000 640.4px 642.7px,#470000 642.7px 644.9px,#660000 644.9px 647.2px,#8f0000 647.2px 649.5px,#3d0000 649.5px 654.1px,#700000 654.1px 656.4px,#290000 656.4px 658.7px,#990000 658.7px 661.0px,#3d0000 661.0px 663.3px,#000a00 663.3px 665.6px,#8f0000 665.6px 667.9px,#0a0000 667.9px 670.2px,#002900 670.2px 672.5px,#001400 672.5px 674.8px,#8f0000 674.8px 677.1px,#700000 677.1px 679.4px,#c20000 679.4px 681.7px,#470000 681.7px 684.0px,#520000 684.0px 686.3px,#470000 686.3px 688.6px,#7a0000 688.6px 690.8px,#290000 690.8px 693.1px,#1f0000 693.1px 697.7px,#b80000 697.7px 700.0px,#700000 700.0px 702.3px,#850000 702.3px 704.6px,#7a0000 704.6px 706.9px,#3d0000 706.9px 709.2px,#660000 709.2px 711.5px,#a30000 711.5px 713.8px,#290000 713.8px 718.4px,#1f0000 718.4px 720.7px,#001400 720.7px 723.0px,#470000 723.0px 725.3px,#140000 725.3px 727.6px,#5c0000 727.6px 729.9px,#000000 729.9px 732.2px,#520000 732.2px 734.5px,#5c0000 734.5px 736.8px,#7a0000 736.8px 739.0px,#001f00 739.0px 741.3px,#b80000 741.3px 743.6px,#990000 743.6px 745.9px,#3d0000 745.9px 748.2px,#ff0000 748.2px 750.5px,#ad0000 750.5px 752.8px,#990000 752.8px 755.1px,#850000 755.1px 757.4px,#000000 757.4px 759.7px,#b80000 759.7px 762.0px)"></div><div class="r" style="top:592.00px;background:linear-gradient(90deg,#003d00 0.0px 2.3px,#000a00 2.3px 4.6px,#008500 4.6px 6.9px,#004700 6.9px 9.2px,#008500 9.2px 11.5px,#007000 11.5px 13.8px,#008500 13.8px 16.1px,#005200 16.1px 18.4px,#004700 18.4px 20.7px,#001f00 20.7px 23.0px,#000a00 23.0px 25.2px,#001400 25.2px 27.5px,#005200 27.5px 29.8px,#00eb00 29.8px 32.1px,#000000 32.1px 34.4px,#140000 34.4px 36.7px,#00a300 36.7px 39.0px,#001400 39.0px 41.3px,#0a0000 41.3px 43.6px,#700000 43.6px 45.9px,#000a00 45.9px 48.2px,#003d00 48.2px 50.5px,#004700 50.5px 52.8px,#002900 52.8px 55.1px,#006600 55.1px 57.4px,#008500 57.4px 59.7px,#003300 59.7px 62.0px,#007000 62.0px 64.3px,#008500 64.3px 66.6px,#290000 66.6px 68.9px,#5c0000 68.9px 71.2px,#001f00 71.2px 73.4px,#1f0000 73.4px 75.7px,#008f00 75.7px 78.0px,#007000 78.0px 80.3px,#003300 80.3px 82.6px,#005c00 82.6px 84.9px,#007000 84.9px 87.2px,#005c00 87.2px 89.5px,#009900 89.5px 91.8px,#005200 91.8px 94.1px,#0a0000 94.1px 96.4px,#000a00 96.4px 98.7px,#003300 98.7px 101.0px,#006600 101.0px 103.3px,#003d00 103.3px 105.6px,#004700 105.6px 107.9px,#005c00 107.9px 110.2px,#005200 110.2px 112.5px,#008500 112.5px 114.8px,#002900 114.8px 117.1px,#000000 117.1px 119.3px,#007a00 119.3px 121.6px,#001400 121.6px 123.9px,#1f0000 123.9px 126.2px,#002900 126.2px 128.5px,#003300 128.5px 130.8px,#330000 130.8px 133.1px,#000a00 133.1px 135.4px,#290000 135.4px 137.7px,#1f0000 137.7px 140.0px,#00cc00 140.0px 142.3px,#008500 142.3px 144.6px,#006600 144.6px 149.2px,#000a00 149.2px 151.5px,#005c00 151.5px 153.8px,#006600 153.8px 156.1px,#002900 156.1px 158.4px,#140000 158.4px 160.7px,#002900 160.7px 163.0px,#004700 163.0px 165.3px,#000a00 165.3px 167.5px,#007000 167.5px 169.8px,#004700 169.8px 172.1px,#005c00 172.1px 174.4px,#006600 174.4px 176.7px,#002900 176.7px 179.0px,#004700 179.0px 181.3px,#008f00 181.3px 183.6px,#003d00 183.6px 185.9px,#001400 185.9px 190.5px,#008f00 190.5px 192.8px,#003d00 192.8px 195.1px,#005200 195.1px 197.4px,#0a0000 197.4px 199.7px,#008f00 199.7px 202.0px,#007a00 202.0px 204.3px,#002900 204.3px 206.6px,#004700 206.6px 208.9px,#000000 208.9px 211.2px,#002900 211.2px 213.5px,#0a0000 213.5px 215.7px,#003300 215.7px 218.0px,#00c200 218.0px 220.3px,#005c00 220.3px 222.6px,#00a300 222.6px 224.9px,#007000 224.9px 227.2px,#001f00 227.2px 229.5px,#005c00 229.5px 231.8px,#002900 231.8px 234.1px,#005200 234.1px 236.4px,#002900 236.4px 241.0px,#00c200 241.0px 243.3px,#005c00 243.3px 245.6px,#001400 245.6px 247.9px,#009900 247.9px 250.2px,#005c00 250.2px 252.5px,#001400 252.5px 254.8px,#000a00 254.8px 257.1px,#006600 257.1px 259.4px,#003300 259.4px 261.7px,#004700 261.7px 263.9px,#007a00 263.9px 266.2px,#008500 266.2px 268.5px,#001400 268.5px 270.8px,#009900 270.8px 273.1px,#005200 273.1px 275.4px,#004700 275.4px 277.7px,#007000 277.7px 280.0px,#008f00 280.0px 282.3px,#001400 282.3px 284.6px,#006600 284.6px 286.9px,#002900 286.9px 289.2px,#006600 289.2px 291.5px,#007000 291.5px 293.8px,#008500 293.8px 296.1px,#005c00 296.1px 298.4px,#008500 298.4px 300.7px,#001f00 300.7px 303.0px,#000a00 303.0px 305.3px,#001f00 305.3px 307.6px,#0a0000 307.6px 309.8px,#000a00 309.8px 312.1px,#005200 312.1px 314.4px,#005c00 314.4px 316.7px,#003d00 316.7px 321.3px,#008500 321.3px 323.6px,#00ad00 323.6px 325.9px,#003300 325.9px 328.2px,#005200 328.2px 330.5px,#008500 330.5px 332.8px,#3d0000 332.8px 335.1px,#000000 335.1px 337.4px,#004700 337.4px 339.7px,#006600 339.7px 342.0px,#003300 342.0px 344.3px,#001400 344.3px 346.6px,#007000 346.6px 348.9px,#007a00 348.9px 351.2px,#005c00 351.2px 353.5px,#006600 353.5px 355.8px,#005200 355.8px 358.0px,#005c00 358.0px 360.3px,#008500 360.3px 362.6px,#001400 362.6px 364.9px,#003d00 364.9px 367.2px,#003300 367.2px 369.5px,#520000 369.5px 371.8px,#008500 371.8px 374.1px,#002900 374.1px 376.4px,#008f00 376.4px 378.7px,#005200 378.7px 381.0px,#a30000 381.0px 383.3px,#eb0000 383.3px 385.6px,#8f0000 385.6px 387.9px,#330000 387.9px 392.5px,#660000 392.5px 394.8px,#000000 394.8px 397.1px,#520000 397.1px 399.4px,#cc0000 399.4px 401.7px,#660000 401.7px 404.0px,#5c0000 404.0px 406.2px,#3d0000 406.2px 408.5px,#7a0000 408.5px 410.8px,#290000 410.8px 413.1px,#660000 413.1px 415.4px,#006600 415.4px 417.7px,#8f0000 417.7px 420.0px,#ad0000 420.0px 422.3px,#330000 422.3px 424.6px,#3d0000 424.6px 426.9px,#520000 426.9px 429.2px,#3d0000 429.2px 431.5px,#5c0000 431.5px 433.8px,#b80000 433.8px 436.1px,#520000 436.1px 438.4px,#1f0000 438.4px 440.7px,#290000 440.7px 443.0px,#a30000 443.0px 445.3px,#660000 445.3px 447.6px,#8f0000 447.6px 449.9px,#5c0000 449.9px 452.2px,#1f0000 452.2px 454.4px,#660000 454.4px 456.7px,#a30000 456.7px 459.0px,#850000 459.0px 461.3px,#7a0000 461.3px 463.6px,#5c0000 463.6px 465.9px,#a30000 465.9px 468.2px,#000a00 468.2px 470.5px,#470000 470.5px 472.8px,#5c0000 472.8px 475.1px,#ad0000 475.1px 477.4px,#000000 477.4px 479.7px,#0a0000 479.7px 482.0px,#140000 482.0px 484.3px,#3d0000 484.3px 486.6px,#001f00 486.6px 488.9px,#3d0000 488.9px 491.2px,#850000 491.2px 493.5px,#e00000 493.5px 495.8px,#520000 495.8px 498.1px,#850000 498.1px 500.3px,#470000 500.3px 502.6px,#700000 502.6px 504.9px,#140000 504.9px 507.2px,#290000 507.2px 509.5px,#b80000 509.5px 511.8px,#002900 511.8px 514.1px,#520000 514.1px 516.4px,#7a0000 516.4px 518.7px,#0a0000 518.7px 521.0px,#520000 521.0px 523.3px,#990000 523.3px 525.6px,#004700 525.6px 527.9px,#850000 527.9px 530.2px,#c20000 530.2px 532.5px,#660000 532.5px 534.8px,#000000 534.8px 537.1px,#990000 537.1px 539.4px,#3d0000 539.4px 541.7px,#1f0000 541.7px 544.0px,#700000 544.0px 546.3px,#990000 546.3px 548.5px,#290000 548.5px 550.8px,#700000 550.8px 553.1px,#3d0000 553.1px 555.4px,#470000 555.4px 557.7px,#290000 557.7px 560.0px,#7a0000 560.0px 562.3px,#290000 562.3px 564.6px,#470000 564.6px 566.9px,#8f0000 566.9px 569.2px,#000a00 569.2px 571.5px,#470000 571.5px 573.8px,#140000 573.8px 576.1px,#000000 576.1px 578.4px,#8f0000 578.4px 580.7px,#b80000 580.7px 583.0px,#cc0000 583.0px 585.3px,#a30000 585.3px 587.6px,#e00000 587.6px 589.9px,#002900 589.9px 592.2px,#290000 592.2px 596.7px,#5c0000 596.7px 599.0px,#520000 599.0px 601.3px,#8f0000 601.3px 605.9px,#140000 605.9px 608.2px,#ff0000 608.2px 610.5px,#290000 610.5px 612.8px,#330000 612.8px 615.1px,#850000 615.1px 617.4px,#990000 617.4px 619.7px,#000a00 619.7px 622.0px,#1f0000 622.0px 624.3px,#8f0000 624.3px 626.6px,#470000 626.6px 628.9px,#290000 628.9px 631.2px,#470000 631.2px 633.5px,#660000 633.5px 635.8px,#850000 635.8px 638.1px,#660000 638.1px 640.4px,#700000 640.4px 642.7px,#850000 642.7px 644.9px,#470000 644.9px 647.2px,#990000 647.2px 649.5px,#330000 649.5px 651.8px,#470000 651.8px 654.1px,#c20000 654.1px 656.4px,#290000 656.4px 658.7px,#ad0000 658.7px 661.0px,#990000 661.0px 663.3px,#140000 663.3px 665.6px,#5c0000 665.6px 667.9px,#1f0000 667.9px 670.2px,#002900 670.2px 672.5px,#700000 672.5px 674.8px,#330000 674.8px 677.1px,#000a00 677.1px 679.4px,#e00000 679.4px 681.7px,#470000 681.7px 684.0px,#5c0000 684.0px 686.3px,#3d0000 686.3px 688.6px,#990000 688.6px 690.8px,#330000 690.8px 693.1px,#0a0000 693.1px 695.4px,#850000 695.4px 697.7px,#1f0000 697.7px 700.0px,#330000 700.0px 702.3px,#470000 702.3px 704.6px,#660000 704.6px 706.9px,#520000 706.9px 709.2px,#850000 709.2px 711.5px,#d60000 711.5px 713.8px,#7a0000 713.8px 716.1px,#660000 716.1px 718.4px,#000a00 718.4px 720.7px,#470000 720.7px 723.0px,#001400 723.0px 725.3px,#700000 725.3px 727.6px,#7a0000 727.6px 729.9px,#330000 729.9px 732.2px,#850000 732.2px 734.5px,#7a0000 734.5px 736.8px,#520000 736.8px 739.0px,#290000 739.0px 741.3px,#ff0000 741.3px 743.6px,#990000 743.6px 745.9px,#290000 745.9px 748.2px,#660000 748.2px 750.5px,#990000 750.5px 752.8px,#850000 752.8px 755.1px,#8f0000 755.1px 757.4px,#001f00 757.4px 759.7px,#a30000 759.7px 762.0px)"></div><div class="r" style="top:617.33px;background:linear-gradient(90deg,#005200 0.0px 2.3px,#140000 2.3px 4.6px,#003300 4.6px 6.9px,#0a0000 6.9px 9.2px,#007a00 9.2px 11.5px,#002900 11.5px 13.8px,#00a300 13.8px 16.1px,#001400 16.1px 18.4px,#006600 18.4px 20.7px,#0a0000 20.7px 25.2px,#001f00 25.2px 27.5px,#002900 27.5px 29.8px,#003d00 29.8px 32.1px,#002900 32.1px 34.4px,#005c00 34.4px 36.7px,#009900 36.7px 39.0px,#006600 39.0px 41.3px,#005200 41.3px 43.6px,#0a0000 43.6px 45.9px,#004700 45.9px 48.2px,#000a00 48.2px 50.5px,#005200 50.5px 52.8px,#290000 52.8px 55.1px,#007a00 55.1px 57.4px,#007000 57.4px 59.7px,#000000 59.7px 62.0px,#001f00 62.0px 64.3px,#007000 64.3px 66.6px,#140000 66.6px 71.2px,#000a00 71.2px 73.4px,#002900 73.4px 75.7px,#0a0000 75.7px 78.0px,#003300 78.0px 80.3px,#007000 80.3px 82.6px,#004700 82.6px 84.9px,#005200 84.9px 87.2px,#003d00 87.2px 89.5px,#005c00 89.5px 91.8px,#001400 91.8px 94.1px,#007000 94.1px 96.4px,#001f00 96.4px 101.0px,#000000 101.0px 103.3px,#330000 103.3px 105.6px,#006600 105.6px 107.9px,#004700 107.9px 110.2px,#000a00 110.2px 112.5px,#001f00 112.5px 114.8px,#0a0000 114.8px 117.1px,#005c00 117.1px 119.3px,#00ad00 119.3px 121.6px,#003d00 121.6px 123.9px,#000a00 123.9px 126.2px,#006600 126.2px 128.5px,#008500 128.5px 130.8px,#0a0000 130.8px 133.1px,#140000 133.1px 135.4px,#001f00 135.4px 137.7px,#001400 137.7px 140.0px,#007000 140.0px 146.9px,#006600 146.9px 149.2px,#002900 149.2px 151.5px,#001f00 151.5px 153.8px,#005c00 153.8px 156.1px,#005200 156.1px 158.4px,#003d00 158.4px 163.0px,#005c00 163.0px 165.3px,#005200 165.3px 167.5px,#008500 167.5px 169.8px,#007a00 169.8px 172.1px,#1f0000 172.1px 174.4px,#001400 174.4px 176.7px,#000000 176.7px 179.0px,#007000 179.0px 181.3px,#006600 181.3px 183.6px,#003300 183.6px 185.9px,#1f0000 185.9px 188.2px,#001f00 188.2px 190.5px,#004700 190.5px 192.8px,#005c00 192.8px 197.4px,#003d00 197.4px 202.0px,#005200 202.0px 204.3px,#001400 204.3px 206.6px,#000a00 206.6px 208.9px,#000000 208.9px 211.2px,#001f00 211.2px 213.5px,#520000 213.5px 215.7px,#000a00 215.7px 218.0px,#00a300 218.0px 220.3px,#008f00 220.3px 222.6px,#008500 222.6px 224.9px,#003d00 224.9px 227.2px,#001400 227.2px 231.8px,#001f00 231.8px 234.1px,#000a00 234.1px 236.4px,#1f0000 236.4px 238.7px,#002900 238.7px 241.0px,#00ff00 241.0px 243.3px,#001f00 243.3px 245.6px,#002900 245.6px 247.9px,#005200 247.9px 250.2px,#002900 250.2px 254.8px,#330000 254.8px 257.1px,#007000 257.1px 259.4px,#002900 259.4px 261.7px,#005200 261.7px 263.9px,#002900 263.9px 266.2px,#001400 266.2px 268.5px,#003300 268.5px 270.8px,#002900 270.8px 273.1px,#006600 273.1px 275.4px,#001f00 275.4px 277.7px,#005200 277.7px 280.0px,#003300 280.0px 282.3px,#008500 282.3px 284.6px,#002900 284.6px 286.9px,#003d00 286.9px 289.2px,#006600 289.2px 291.5px,#0a0000 291.5px 293.8px,#009900 293.8px 296.1px,#005c00 296.1px 303.0px,#001400 303.0px 305.3px,#001f00 305.3px 307.6px,#0a0000 307.6px 309.8px,#001f00 309.8px 312.1px,#006600 312.1px 314.4px,#007000 314.4px 319.0px,#00a300 319.0px 321.3px,#009900 321.3px 323.6px,#00d600 323.6px 325.9px,#007a00 325.9px 328.2px,#006600 328.2px 330.5px,#005200 330.5px 332.8px,#470000 332.8px 335.1px,#003300 335.1px 337.4px,#290000 337.4px 339.7px,#003d00 339.7px 342.0px,#002900 342.0px 344.3px,#000a00 344.3px 346.6px,#006600 346.6px 348.9px,#005200 348.9px 351.2px,#004700 351.2px 353.5px,#00b800 353.5px 355.8px,#003d00 355.8px 358.0px,#007a00 358.0px 360.3px,#00eb00 360.3px 362.6px,#140000 362.6px 364.9px,#005200 364.9px 367.2px,#001f00 367.2px 369.5px,#0a0000 369.5px 371.8px,#000a00 371.8px 374.1px,#007a00 374.1px 376.4px,#004700 376.4px 378.7px,#00c200 378.7px 381.0px,#ad0000 381.0px 383.3px,#660000 383.3px 385.6px,#ff0000 385.6px 387.9px,#140000 387.9px 390.2px,#290000 390.2px 392.5px,#001400 392.5px 394.8px,#700000 394.8px 397.1px,#330000 397.1px 399.4px,#d60000 399.4px 401.7px,#000a00 401.7px 404.0px,#470000 404.0px 406.2px,#520000 406.2px 408.5px,#330000 408.5px 410.8px,#c20000 410.8px 413.1px,#cc0000 413.1px 415.4px,#000000 415.4px 417.7px,#ff0000 417.7px 420.0px,#001400 420.0px 422.3px,#520000 422.3px 424.6px,#0a0000 424.6px 429.2px,#003300 429.2px 431.5px,#990000 431.5px 433.8px,#b80000 433.8px 436.1px,#d60000 436.1px 438.4px,#1f0000 438.4px 440.7px,#290000 440.7px 443.0px,#990000 443.0px 445.3px,#ad0000 445.3px 447.6px,#d60000 447.6px 449.9px,#8f0000 449.9px 452.2px,#7a0000 452.2px 454.4px,#520000 454.4px 459.0px,#660000 459.0px 461.3px,#ad0000 461.3px 463.6px,#660000 463.6px 465.9px,#290000 465.9px 468.2px,#000000 468.2px 470.5px,#0a0000 470.5px 472.8px,#850000 472.8px 475.1px,#5c0000 475.1px 477.4px,#000a00 477.4px 479.7px,#a30000 479.7px 482.0px,#850000 482.0px 484.3px,#470000 484.3px 486.6px,#004700 486.6px 488.9px,#330000 488.9px 491.2px,#e00000 491.2px 493.5px,#850000 493.5px 495.8px,#5c0000 495.8px 498.1px,#c20000 498.1px 500.3px,#3d0000 500.3px 507.2px,#b80000 507.2px 509.5px,#3d0000 509.5px 511.8px,#1f0000 511.8px 514.1px,#700000 514.1px 516.4px,#330000 516.4px 518.7px,#470000 518.7px 521.0px,#8f0000 521.0px 523.3px,#c20000 523.3px 525.6px,#0a0000 525.6px 527.9px,#ff0000 527.9px 530.2px,#990000 530.2px 532.5px,#1f0000 532.5px 534.8px,#7a0000 534.8px 537.1px,#5c0000 537.1px 539.4px,#330000 539.4px 541.7px,#001400 541.7px 544.0px,#660000 544.0px 546.3px,#330000 546.3px 548.5px,#eb0000 548.5px 550.8px,#c20000 550.8px 553.1px,#520000 553.1px 557.7px,#0a0000 557.7px 560.0px,#520000 560.0px 562.3px,#001400 562.3px 564.6px,#850000 564.6px 566.9px,#ff0000 566.9px 569.2px,#660000 569.2px 571.5px,#a30000 571.5px 573.8px,#001400 573.8px 576.1px,#0a0000 576.1px 578.4px,#850000 578.4px 583.0px,#8f0000 583.0px 585.3px,#700000 585.3px 587.6px,#d60000 587.6px 589.9px,#003300 589.9px 592.2px,#3d0000 592.2px 594.5px,#1f0000 594.5px 596.7px,#850000 596.7px 599.0px,#0a0000 599.0px 601.3px,#990000 601.3px 603.6px,#290000 603.6px 605.9px,#520000 605.9px 608.2px,#850000 608.2px 610.5px,#000000 610.5px 612.8px,#8f0000 612.8px 615.1px,#660000 615.1px 617.4px,#e00000 617.4px 619.7px,#0a0000 619.7px 622.0px,#8f0000 622.0px 624.3px,#0a0000 624.3px 626.6px,#850000 626.6px 631.2px,#e00000 631.2px 633.5px,#330000 633.5px 635.8px,#520000 635.8px 638.1px,#470000 638.1px 640.4px,#001400 640.4px 642.7px,#5c0000 642.7px 644.9px,#a30000 644.9px 647.2px,#b80000 647.2px 649.5px,#0a0000 649.5px 651.8px,#140000 651.8px 654.1px,#b80000 654.1px 656.4px,#470000 656.4px 661.0px,#5c0000 661.0px 663.3px,#0a0000 663.3px 665.6px,#990000 665.6px 667.9px,#007000 667.9px 670.2px,#000a00 670.2px 672.5px,#7a0000 672.5px 674.8px,#1f0000 674.8px 677.1px,#5c0000 677.1px 679.4px,#b80000 679.4px 681.7px,#850000 681.7px 684.0px,#700000 684.0px 686.3px,#d60000 686.3px 688.6px,#7a0000 688.6px 690.8px,#b80000 690.8px 693.1px,#0a0000 693.1px 695.4px,#470000 695.4px 697.7px,#850000 697.7px 700.0px,#470000 700.0px 702.3px,#700000 702.3px 704.6px,#990000 704.6px 706.9px,#0a0000 706.9px 709.2px,#d60000 709.2px 711.5px,#f50000 711.5px 713.8px,#990000 713.8px 716.1px,#330000 716.1px 718.4px,#470000 718.4px 720.7px,#1f0000 720.7px 723.0px,#700000 723.0px 725.3px,#990000 725.3px 727.6px,#520000 727.6px 729.9px,#700000 729.9px 732.2px,#0a0000 732.2px 734.5px,#520000 734.5px 736.8px,#700000 736.8px 739.0px,#1f0000 739.0px 741.3px,#a30000 741.3px 743.6px,#5c0000 743.6px 745.9px,#660000 745.9px 748.2px,#850000 748.2px 750.5px,#5c0000 750.5px 752.8px,#cc0000 752.8px 755.1px,#8f0000 755.1px 757.4px,#000000 757.4px 759.7px,#990000 759.7px 762.0px)"></div><div class="r" style="top:642.67px;background:linear-gradient(90deg,#005200 0.0px 2.3px,#003d00 2.3px 4.6px,#005c00 4.6px 6.9px,#001400 6.9px 9.2px,#00ad00 9.2px 11.5px,#008500 11.5px 13.8px,#007a00 13.8px 16.1px,#005200 16.1px 18.4px,#005c00 18.4px 20.7px,#000000 20.7px 25.2px,#000a00 25.2px 27.5px,#004700 27.5px 29.8px,#006600 29.8px 32.1px,#001f00 32.1px 36.7px,#009900 36.7px 39.0px,#004700 39.0px 43.6px,#1f0000 43.6px 45.9px,#000000 45.9px 48.2px,#005200 48.2px 50.5px,#006600 50.5px 52.8px,#000000 52.8px 55.1px,#008f00 55.1px 57.4px,#003300 57.4px 59.7px,#000000 59.7px 62.0px,#005c00 62.0px 64.3px,#007a00 64.3px 66.6px,#000a00 66.6px 68.9px,#140000 68.9px 71.2px,#001f00 71.2px 73.4px,#004700 73.4px 75.7px,#005c00 75.7px 78.0px,#008500 78.0px 80.3px,#008f00 80.3px 82.6px,#008500 82.6px 84.9px,#004700 84.9px 87.2px,#007000 87.2px 89.5px,#008500 89.5px 91.8px,#001400 91.8px 94.1px,#002900 94.1px 96.4px,#0a0000 96.4px 98.7px,#000a00 98.7px 101.0px,#003300 101.0px 103.3px,#006600 103.3px 105.6px,#002900 105.6px 107.9px,#008500 107.9px 110.2px,#004700 110.2px 112.5px,#008500 112.5px 114.8px,#006600 114.8px 117.1px,#003d00 117.1px 119.3px,#00a300 119.3px 121.6px,#005c00 121.6px 123.9px,#0a0000 123.9px 126.2px,#008f00 126.2px 128.5px,#007000 128.5px 130.8px,#004700 130.8px 133.1px,#140000 133.1px 135.4px,#001f00 135.4px 137.7px,#000000 137.7px 140.0px,#00d600 140.0px 142.3px,#005200 142.3px 144.6px,#008500 144.6px 146.9px,#006600 146.9px 149.2px,#001400 149.2px 151.5px,#007000 151.5px 153.8px,#002900 153.8px 156.1px,#140000 156.1px 158.4px,#003d00 158.4px 160.7px,#002900 160.7px 163.0px,#007000 163.0px 165.3px,#006600 165.3px 167.5px,#00d600 167.5px 169.8px,#003d00 169.8px 172.1px,#007000 172.1px 174.4px,#007a00 174.4px 176.7px,#004700 176.7px 179.0px,#006600 179.0px 181.3px,#00a300 181.3px 183.6px,#008f00 183.6px 185.9px,#004700 185.9px 188.2px,#000a00 188.2px 190.5px,#007a00 190.5px 192.8px,#003300 192.8px 195.1px,#003d00 195.1px 197.4px,#003300 197.4px 199.7px,#00ad00 199.7px 204.3px,#004700 204.3px 206.6px,#007000 206.6px 208.9px,#003300 208.9px 211.2px,#002900 211.2px 213.5px,#001f00 213.5px 218.0px,#00a300 218.0px 220.3px,#000a00 220.3px 222.6px,#008500 222.6px 224.9px,#007000 224.9px 227.2px,#005c00 227.2px 229.5px,#000000 229.5px 231.8px,#007000 231.8px 234.1px,#005200 234.1px 236.4px,#0a0000 236.4px 238.7px,#000000 238.7px 241.0px,#00d600 241.0px 243.3px,#005c00 243.3px 247.9px,#004700 247.9px 250.2px,#005200 250.2px 252.5px,#005c00 252.5px 254.8px,#001f00 254.8px 257.1px,#003300 257.1px 259.4px,#005200 259.4px 261.7px,#00ad00 261.7px 263.9px,#003d00 263.9px 266.2px,#005c00 266.2px 268.5px,#000a00 268.5px 270.8px,#006600 270.8px 273.1px,#005c00 273.1px 275.4px,#003300 275.4px 277.7px,#007a00 277.7px 280.0px,#005200 280.0px 282.3px,#004700 282.3px 284.6px,#000a00 284.6px 286.9px,#008500 286.9px 289.2px,#001f00 289.2px 291.5px,#004700 291.5px 293.8px,#00a300 293.8px 296.1px,#003300 296.1px 298.4px,#007000 298.4px 300.7px,#0a0000 300.7px 303.0px,#001f00 303.0px 307.6px,#0a0000 307.6px 309.8px,#007000 309.8px 312.1px,#004700 312.1px 314.4px,#006600 314.4px 316.7px,#005200 316.7px 319.0px,#009900 319.0px 321.3px,#006600 321.3px 323.6px,#00c200 323.6px 325.9px,#003300 325.9px 328.2px,#001400 328.2px 330.5px,#003300 330.5px 332.8px,#470000 332.8px 335.1px,#005200 335.1px 337.4px,#003300 337.4px 339.7px,#005c00 339.7px 342.0px,#003d00 342.0px 344.3px,#000a00 344.3px 346.6px,#1f0000 346.6px 348.9px,#007a00 348.9px 351.2px,#00ad00 351.2px 353.5px,#007a00 353.5px 355.8px,#000000 355.8px 358.0px,#008500 358.0px 360.3px,#009900 360.3px 362.6px,#003300 362.6px 364.9px,#007a00 364.9px 367.2px,#004700 367.2px 369.5px,#330000 369.5px 371.8px,#003300 371.8px 374.1px,#001f00 374.1px 376.4px,#00b800 376.4px 378.7px,#007000 378.7px 381.0px,#5c0000 381.0px 383.3px,#850000 383.3px 385.6px,#d60000 385.6px 387.9px,#330000 387.9px 390.2px,#8f0000 390.2px 392.5px,#290000 392.5px 394.8px,#000000 394.8px 397.1px,#330000 397.1px 399.4px,#a30000 399.4px 401.7px,#290000 401.7px 404.0px,#520000 404.0px 406.2px,#001400 406.2px 408.5px,#3d0000 408.5px 410.8px,#5c0000 410.8px 413.1px,#c20000 413.1px 415.4px,#5c0000 415.4px 417.7px,#eb0000 417.7px 420.0px,#140000 420.0px 422.3px,#5c0000 422.3px 424.6px,#000000 424.6px 426.9px,#5c0000 426.9px 429.2px,#330000 429.2px 431.5px,#b80000 431.5px 433.8px,#990000 433.8px 436.1px,#a30000 436.1px 438.4px,#001f00 438.4px 440.7px,#140000 440.7px 443.0px,#7a0000 443.0px 445.3px,#700000 445.3px 447.6px,#5c0000 447.6px 449.9px,#290000 449.9px 454.4px,#850000 454.4px 456.7px,#7a0000 456.7px 459.0px,#ff0000 459.0px 461.3px,#660000 461.3px 465.9px,#7a0000 465.9px 468.2px,#001400 468.2px 470.5px,#000000 470.5px 472.8px,#cc0000 472.8px 475.1px,#a30000 475.1px 477.4px,#001f00 477.4px 479.7px,#ad0000 479.7px 482.0px,#7a0000 482.0px 484.3px,#290000 484.3px 488.9px,#140000 488.9px 491.2px,#ad0000 491.2px 493.5px,#8f0000 493.5px 495.8px,#1f0000 495.8px 498.1px,#ad0000 498.1px 500.3px,#8f0000 500.3px 502.6px,#0a0000 502.6px 504.9px,#3d0000 504.9px 507.2px,#000a00 507.2px 509.5px,#a30000 509.5px 511.8px,#000a00 511.8px 514.1px,#330000 514.1px 516.4px,#0a0000 516.4px 518.7px,#660000 518.7px 521.0px,#3d0000 521.0px 523.3px,#000000 523.3px 525.6px,#470000 525.6px 527.9px,#c20000 527.9px 530.2px,#700000 530.2px 532.5px,#290000 532.5px 534.8px,#a30000 534.8px 537.1px,#3d0000 537.1px 539.4px,#001400 539.4px 544.0px,#520000 544.0px 546.3px,#660000 546.3px 548.5px,#ad0000 548.5px 550.8px,#7a0000 550.8px 553.1px,#700000 553.1px 555.4px,#3d0000 555.4px 557.7px,#7a0000 557.7px 560.0px,#660000 560.0px 562.3px,#a30000 562.3px 564.6px,#3d0000 564.6px 566.9px,#8f0000 566.9px 569.2px,#330000 569.2px 571.5px,#700000 571.5px 573.8px,#520000 573.8px 578.4px,#140000 578.4px 580.7px,#660000 580.7px 583.0px,#850000 583.0px 585.3px,#a30000 585.3px 587.6px,#ff0000 587.6px 589.9px,#0a0000 589.9px 592.2px,#850000 592.2px 594.5px,#ad0000 594.5px 596.7px,#990000 596.7px 599.0px,#0a0000 599.0px 603.6px,#290000 603.6px 605.9px,#140000 605.9px 608.2px,#7a0000 608.2px 610.5px,#001f00 610.5px 612.8px,#470000 612.8px 615.1px,#3d0000 615.1px 617.4px,#c20000 617.4px 619.7px,#000000 619.7px 622.0px,#3d0000 622.0px 626.6px,#b80000 626.6px 628.9px,#290000 628.9px 631.2px,#ad0000 631.2px 633.5px,#c20000 633.5px 638.1px,#700000 638.1px 640.4px,#990000 640.4px 642.7px,#700000 642.7px 644.9px,#7a0000 644.9px 647.2px,#520000 647.2px 649.5px,#000000 649.5px 651.8px,#700000 651.8px 654.1px,#e00000 654.1px 656.4px,#290000 656.4px 658.7px,#e00000 658.7px 661.0px,#700000 661.0px 663.3px,#004700 663.3px 665.6px,#520000 665.6px 667.9px,#3d0000 667.9px 670.2px,#140000 670.2px 672.5px,#330000 672.5px 674.8px,#1f0000 674.8px 677.1px,#8f0000 677.1px 679.4px,#990000 679.4px 681.7px,#a30000 681.7px 684.0px,#660000 684.0px 686.3px,#8f0000 686.3px 688.6px,#290000 688.6px 690.8px,#330000 690.8px 693.1px,#5c0000 693.1px 695.4px,#7a0000 695.4px 697.7px,#520000 697.7px 700.0px,#000a00 700.0px 702.3px,#1f0000 702.3px 704.6px,#b80000 704.6px 706.9px,#001f00 706.9px 709.2px,#a30000 709.2px 711.5px,#700000 711.5px 713.8px,#290000 713.8px 716.1px,#520000 716.1px 718.4px,#140000 718.4px 720.7px,#002900 720.7px 723.0px,#5c0000 723.0px 725.3px,#8f0000 725.3px 727.6px,#7a0000 727.6px 729.9px,#003300 729.9px 732.2px,#140000 732.2px 734.5px,#ff0000 734.5px 736.8px,#470000 736.8px 739.0px,#001f00 739.0px 741.3px,#ff0000 741.3px 743.6px,#ad0000 743.6px 745.9px,#5c0000 745.9px 748.2px,#3d0000 748.2px 750.5px,#8f0000 750.5px 752.8px,#520000 752.8px 755.1px,#330000 755.1px 757.4px,#140000 757.4px 759.7px,#d60000 759.7px 762.0px)"></div><div class="r" style="top:668.00px;background:linear-gradient(90deg,#002900 0.0px 2.3px,#005c00 2.3px 4.6px,#003300 4.6px 6.9px,#000000 6.9px 9.2px,#009900 9.2px 11.5px,#006600 11.5px 13.8px,#007a00 13.8px 16.1px,#001400 16.1px 18.4px,#001f00 18.4px 20.7px,#1f0000 20.7px 23.0px,#000a00 23.0px 27.5px,#005200 27.5px 32.1px,#005c00 32.1px 34.4px,#005200 34.4px 36.7px,#00cc00 36.7px 39.0px,#005200 39.0px 41.3px,#003300 41.3px 43.6px,#470000 43.6px 45.9px,#0a0000 45.9px 48.2px,#003d00 48.2px 50.5px,#005200 50.5px 52.8px,#006600 52.8px 55.1px,#005200 55.1px 57.4px,#000a00 57.4px 59.7px,#001f00 59.7px 62.0px,#002900 62.0px 64.3px,#008500 64.3px 66.6px,#003300 66.6px 68.9px,#001400 68.9px 71.2px,#004700 71.2px 73.4px,#001f00 73.4px 75.7px,#005200 75.7px 78.0px,#006600 78.0px 80.3px,#007000 80.3px 82.6px,#004700 82.6px 84.9px,#007a00 84.9px 87.2px,#006600 87.2px 89.5px,#00b800 89.5px 91.8px,#005200 91.8px 94.1px,#001f00 94.1px 96.4px,#000a00 96.4px 98.7px,#005c00 98.7px 101.0px,#002900 101.0px 103.3px,#007a00 103.3px 105.6px,#003d00 105.6px 107.9px,#008500 107.9px 112.5px,#007000 112.5px 114.8px,#330000 114.8px 117.1px,#003d00 117.1px 119.3px,#009900 119.3px 123.9px,#000a00 123.9px 126.2px,#005c00 126.2px 130.8px,#1f0000 130.8px 133.1px,#003d00 133.1px 137.7px,#005200 137.7px 140.0px,#008f00 140.0px 142.3px,#005c00 142.3px 144.6px,#003300 144.6px 146.9px,#006600 146.9px 149.2px,#330000 149.2px 151.5px,#004700 151.5px 153.8px,#003300 153.8px 156.1px,#001f00 156.1px 158.4px,#007000 158.4px 160.7px,#004700 160.7px 165.3px,#007000 165.3px 167.5px,#00ad00 167.5px 169.8px,#003300 169.8px 172.1px,#003d00 172.1px 174.4px,#002900 174.4px 176.7px,#003300 176.7px 179.0px,#001f00 179.0px 181.3px,#008f00 181.3px 185.9px,#002900 185.9px 188.2px,#000a00 188.2px 190.5px,#008500 190.5px 192.8px,#008f00 192.8px 195.1px,#005c00 195.1px 197.4px,#003300 197.4px 199.7px,#005c00 199.7px 202.0px,#004700 202.0px 204.3px,#003300 204.3px 206.6px,#001f00 206.6px 208.9px,#003d00 208.9px 211.2px,#007000 211.2px 213.5px,#520000 213.5px 215.7px,#001400 215.7px 218.0px,#007a00 218.0px 222.6px,#00ad00 222.6px 224.9px,#003300 224.9px 227.2px,#007000 227.2px 229.5px,#005c00 229.5px 231.8px,#003300 231.8px 234.1px,#008500 234.1px 236.4px,#001400 236.4px 238.7px,#005200 238.7px 241.0px,#00e000 241.0px 243.3px,#006600 243.3px 245.6px,#005200 245.6px 247.9px,#005c00 247.9px 250.2px,#000000 250.2px 252.5px,#005c00 252.5px 254.8px,#004700 254.8px 257.1px,#005c00 257.1px 259.4px,#000000 259.4px 261.7px,#005200 261.7px 263.9px,#008f00 263.9px 266.2px,#003d00 266.2px 268.5px,#001f00 268.5px 270.8px,#00a300 270.8px 273.1px,#003d00 273.1px 275.4px,#000a00 275.4px 277.7px,#004700 277.7px 280.0px,#002900 280.0px 282.3px,#008500 282.3px 284.6px,#002900 284.6px 286.9px,#003d00 286.9px 289.2px,#002900 289.2px 291.5px,#001f00 291.5px 293.8px,#007000 293.8px 296.1px,#005c00 296.1px 298.4px,#007a00 298.4px 300.7px,#000a00 300.7px 305.3px,#290000 305.3px 307.6px,#5c0000 307.6px 309.8px,#140000 309.8px 312.1px,#00a300 312.1px 314.4px,#008f00 314.4px 316.7px,#008500 316.7px 319.0px,#007a00 319.0px 321.3px,#006600 321.3px 323.6px,#00d600 323.6px 325.9px,#004700 325.9px 328.2px,#007000 328.2px 330.5px,#005200 330.5px 332.8px,#1f0000 332.8px 335.1px,#002900 335.1px 337.4px,#001f00 337.4px 339.7px,#005200 339.7px 344.3px,#001400 344.3px 346.6px,#005200 346.6px 348.9px,#003300 348.9px 351.2px,#001f00 351.2px 353.5px,#00d600 353.5px 355.8px,#002900 355.8px 358.0px,#007a00 358.0px 360.3px,#008500 360.3px 362.6px,#005200 362.6px 364.9px,#005c00 364.9px 367.2px,#002900 367.2px 369.5px,#330000 369.5px 371.8px,#000000 371.8px 374.1px,#005c00 374.1px 376.4px,#004700 376.4px 378.7px,#005c00 378.7px 381.0px,#ff0000 381.0px 383.3px,#700000 383.3px 385.6px,#cc0000 385.6px 387.9px,#000a00 387.9px 390.2px,#330000 390.2px 392.5px,#1f0000 392.5px 394.8px,#470000 394.8px 397.1px,#700000 397.1px 399.4px,#850000 399.4px 401.7px,#700000 401.7px 404.0px,#7a0000 404.0px 406.2px,#000a00 406.2px 408.5px,#520000 408.5px 413.1px,#a30000 413.1px 415.4px,#470000 415.4px 417.7px,#8f0000 417.7px 420.0px,#3d0000 420.0px 422.3px,#0a0000 422.3px 424.6px,#850000 424.6px 426.9px,#990000 426.9px 429.2px,#7a0000 429.2px 431.5px,#520000 431.5px 433.8px,#b80000 433.8px 436.1px,#ad0000 436.1px 438.4px,#003300 438.4px 440.7px,#3d0000 440.7px 443.0px,#8f0000 443.0px 445.3px,#7a0000 445.3px 447.6px,#e00000 447.6px 449.9px,#3d0000 449.9px 452.2px,#470000 452.2px 454.4px,#700000 454.4px 456.7px,#290000 456.7px 459.0px,#850000 459.0px 461.3px,#e00000 461.3px 463.6px,#8f0000 463.6px 465.9px,#5c0000 465.9px 468.2px,#330000 468.2px 470.5px,#000a00 470.5px 472.8px,#8f0000 472.8px 475.1px,#3d0000 475.1px 477.4px,#004700 477.4px 479.7px,#3d0000 479.7px 482.0px,#140000 482.0px 484.3px,#700000 484.3px 486.6px,#0a0000 486.6px 488.9px,#700000 488.9px 491.2px,#5c0000 491.2px 493.5px,#eb0000 493.5px 495.8px,#140000 495.8px 498.1px,#700000 498.1px 500.3px,#8f0000 500.3px 502.6px,#520000 502.6px 504.9px,#290000 504.9px 507.2px,#000000 507.2px 509.5px,#b80000 509.5px 511.8px,#005c00 511.8px 514.1px,#470000 514.1px 516.4px,#520000 516.4px 518.7px,#140000 518.7px 521.0px,#700000 521.0px 523.3px,#990000 523.3px 525.6px,#1f0000 525.6px 527.9px,#ff0000 527.9px 530.2px,#ad0000 530.2px 532.5px,#000a00 532.5px 534.8px,#850000 534.8px 537.1px,#660000 537.1px 539.4px,#000000 539.4px 541.7px,#002900 541.7px 544.0px,#470000 544.0px 546.3px,#700000 546.3px 548.5px,#850000 548.5px 550.8px,#660000 550.8px 553.1px,#520000 553.1px 555.4px,#a30000 555.4px 557.7px,#5c0000 557.7px 560.0px,#700000 560.0px 562.3px,#000000 562.3px 564.6px,#7a0000 564.6px 566.9px,#c20000 566.9px 569.2px,#5c0000 569.2px 571.5px,#a30000 571.5px 573.8px,#5c0000 573.8px 576.1px,#000000 576.1px 578.4px,#7a0000 578.4px 580.7px,#290000 580.7px 583.0px,#330000 583.0px 587.6px,#c20000 587.6px 589.9px,#0a0000 589.9px 592.2px,#850000 592.2px 594.5px,#5c0000 594.5px 596.7px,#a30000 596.7px 599.0px,#5c0000 599.0px 601.3px,#520000 601.3px 605.9px,#700000 605.9px 608.2px,#eb0000 608.2px 610.5px,#ad0000 610.5px 612.8px,#7a0000 612.8px 615.1px,#8f0000 615.1px 617.4px,#cc0000 617.4px 619.7px,#000a00 619.7px 624.3px,#001f00 624.3px 626.6px,#990000 626.6px 628.9px,#000000 628.9px 631.2px,#e00000 631.2px 633.5px,#7a0000 633.5px 635.8px,#5c0000 635.8px 638.1px,#c20000 638.1px 640.4px,#0a0000 640.4px 642.7px,#990000 642.7px 644.9px,#cc0000 644.9px 647.2px,#700000 647.2px 649.5px,#1f0000 649.5px 651.8px,#000a00 651.8px 654.1px,#990000 654.1px 656.4px,#003300 656.4px 658.7px,#e00000 658.7px 661.0px,#520000 661.0px 663.3px,#000000 663.3px 665.6px,#a30000 665.6px 667.9px,#001400 667.9px 672.5px,#660000 672.5px 674.8px,#850000 674.8px 677.1px,#5c0000 677.1px 679.4px,#990000 679.4px 681.7px,#eb0000 681.7px 684.0px,#520000 684.0px 686.3px,#660000 686.3px 688.6px,#470000 688.6px 690.8px,#000a00 690.8px 693.1px,#470000 693.1px 697.7px,#8f0000 697.7px 700.0px,#700000 700.0px 702.3px,#001f00 702.3px 704.6px,#660000 704.6px 706.9px,#5c0000 706.9px 709.2px,#e00000 709.2px 711.5px,#700000 711.5px 713.8px,#a30000 713.8px 716.1px,#470000 716.1px 718.4px,#330000 718.4px 720.7px,#000000 720.7px 723.0px,#3d0000 723.0px 725.3px,#8f0000 725.3px 727.6px,#3d0000 727.6px 729.9px,#1f0000 729.9px 732.2px,#850000 732.2px 734.5px,#a30000 734.5px 736.8px,#290000 736.8px 741.3px,#ff0000 741.3px 743.6px,#290000 743.6px 745.9px,#660000 745.9px 748.2px,#ad0000 748.2px 750.5px,#c20000 750.5px 752.8px,#7a0000 752.8px 755.1px,#1f0000 755.1px 757.4px,#290000 757.4px 759.7px,#520000 759.7px 762.0px)"></div><div class="r" style="top:693.33px;background:linear-gradient(90deg,#1f0000 0.0px 2.3px,#002900 2.3px 6.9px,#005200 6.9px 9.2px,#006600 9.2px 11.5px,#005200 11.5px 13.8px,#0a0000 13.8px 16.1px,#002900 16.1px 18.4px,#007a00 18.4px 20.7px,#000000 20.7px 23.0px,#140000 23.0px 25.2px,#004700 25.2px 27.5px,#1f0000 27.5px 29.8px,#00a300 29.8px 32.1px,#140000 32.1px 34.4px,#004700 34.4px 36.7px,#140000 36.7px 39.0px,#1f0000 39.0px 41.3px,#290000 41.3px 43.6px,#000a00 43.6px 45.9px,#3d0000 45.9px 48.2px,#005c00 48.2px 50.5px,#001f00 50.5px 52.8px,#1f0000 52.8px 55.1px,#0a0000 55.1px 57.4px,#008f00 57.4px 59.7px,#330000 59.7px 62.0px,#003d00 62.0px 64.3px,#007000 64.3px 66.6px,#140000 66.6px 68.9px,#1f0000 68.9px 71.2px,#007a00 71.2px 73.4px,#520000 73.4px 75.7px,#007000 75.7px 78.0px,#00ad00 78.0px 80.3px,#009900 80.3px 82.6px,#008500 82.6px 84.9px,#00eb00 84.9px 87.2px,#00c200 87.2px 89.5px,#009900 89.5px 91.8px,#007a00 91.8px 94.1px,#008500 94.1px 96.4px,#007000 96.4px 98.7px,#004700 98.7px 101.0px,#007000 101.0px 103.3px,#009900 103.3px 105.6px,#008f00 105.6px 107.9px,#00b800 107.9px 110.2px,#006600 110.2px 112.5px,#004700 112.5px 114.8px,#008f00 114.8px 117.1px,#005c00 117.1px 119.3px,#00f500 119.3px 121.6px,#009900 121.6px 123.9px,#003300 123.9px 126.2px,#008500 126.2px 128.5px,#007a00 128.5px 130.8px,#005c00 130.8px 133.1px,#003300 133.1px 135.4px,#007000 135.4px 137.7px,#005200 137.7px 140.0px,#00eb00 140.0px 142.3px,#007a00 142.3px 146.9px,#00eb00 146.9px 149.2px,#007000 149.2px 151.5px,#00b800 151.5px 153.8px,#00ad00 153.8px 156.1px,#007a00 156.1px 158.4px,#005c00 158.4px 160.7px,#007000 160.7px 163.0px,#005c00 163.0px 165.3px,#003300 165.3px 167.5px,#004700 167.5px 172.1px,#008f00 172.1px 174.4px,#006600 174.4px 176.7px,#003300 176.7px 179.0px,#005c00 179.0px 181.3px,#008500 181.3px 183.6px,#006600 183.6px 185.9px,#001f00 185.9px 190.5px,#005c00 190.5px 192.8px,#006600 192.8px 195.1px,#007000 195.1px 197.4px,#006600 197.4px 199.7px,#00ad00 199.7px 202.0px,#005200 202.0px 204.3px,#003300 204.3px 206.6px,#1f0000 206.6px 208.9px,#001f00 208.9px 211.2px,#005c00 211.2px 213.5px,#0a0000 213.5px 215.7px,#007000 215.7px 218.0px,#00c200 218.0px 220.3px,#009900 220.3px 222.6px,#007000 222.6px 224.9px,#008500 224.9px 227.2px,#003300 227.2px 229.5px,#005c00 229.5px 231.8px,#000000 231.8px 234.1px,#006600 234.1px 236.4px,#1f0000 236.4px 238.7px,#006600 238.7px 241.0px,#00a300 241.0px 243.3px,#008500 243.3px 245.6px,#005c00 245.6px 247.9px,#003d00 247.9px 250.2px,#007a00 250.2px 252.5px,#004700 252.5px 254.8px,#520000 254.8px 257.1px,#0a0000 257.1px 259.4px,#003d00 259.4px 261.7px,#005200 261.7px 263.9px,#006600 263.9px 266.2px,#008f00 266.2px 268.5px,#001f00 268.5px 270.8px,#003300 270.8px 273.1px,#008500 273.1px 275.4px,#0a0000 275.4px 277.7px,#004700 277.7px 280.0px,#007000 280.0px 282.3px,#001f00 282.3px 284.6px,#007000 284.6px 286.9px,#002900 286.9px 289.2px,#004700 289.2px 291.5px,#005200 291.5px 293.8px,#00a300 293.8px 296.1px,#003d00 296.1px 298.4px,#007000 298.4px 300.7px,#000a00 300.7px 303.0px,#002900 303.0px 305.3px,#001f00 305.3px 307.6px,#000000 307.6px 309.8px,#470000 309.8px 312.1px,#004700 312.1px 314.4px,#009900 314.4px 316.7px,#007000 316.7px 319.0px,#005200 319.0px 321.3px,#009900 321.3px 325.9px,#005200 325.9px 330.5px,#007a00 330.5px 332.8px,#7a0000 332.8px 335.1px,#007a00 335.1px 337.4px,#002900 337.4px 339.7px,#008f00 339.7px 342.0px,#001f00 342.0px 344.3px,#000000 344.3px 346.6px,#004700 346.6px 348.9px,#007000 348.9px 351.2px,#005c00 351.2px 353.5px,#007a00 353.5px 355.8px,#0a0000 355.8px 358.0px,#00a300 358.0px 360.3px,#008f00 360.3px 362.6px,#006600 362.6px 364.9px,#005200 364.9px 367.2px,#470000 367.2px 369.5px,#660000 369.5px 371.8px,#001400 371.8px 374.1px,#008500 374.1px 376.4px,#007000 376.4px 378.7px,#005200 378.7px 381.0px,#660000 381.0px 383.3px,#990000 383.3px 385.6px,#e00000 385.6px 387.9px,#004700 387.9px 390.2px,#1f0000 390.2px 392.5px,#004700 392.5px 394.8px,#850000 394.8px 397.1px,#003d00 397.1px 399.4px,#eb0000 399.4px 401.7px,#520000 401.7px 404.0px,#7a0000 404.0px 406.2px,#990000 406.2px 408.5px,#660000 408.5px 410.8px,#b80000 410.8px 413.1px,#8f0000 413.1px 415.4px,#007a00 415.4px 417.7px,#5c0000 417.7px 420.0px,#7a0000 420.0px 424.6px,#000a00 424.6px 426.9px,#990000 426.9px 429.2px,#140000 429.2px 431.5px,#520000 431.5px 436.1px,#5c0000 436.1px 438.4px,#000a00 438.4px 440.7px,#330000 440.7px 443.0px,#5c0000 443.0px 445.3px,#290000 445.3px 447.6px,#a30000 447.6px 449.9px,#660000 449.9px 452.2px,#001f00 452.2px 454.4px,#ad0000 454.4px 459.0px,#5c0000 459.0px 461.3px,#850000 461.3px 463.6px,#290000 463.6px 465.9px,#1f0000 465.9px 468.2px,#290000 468.2px 470.5px,#005200 470.5px 472.8px,#cc0000 472.8px 475.1px,#330000 475.1px 477.4px,#290000 477.4px 479.7px,#5c0000 479.7px 482.0px,#000000 482.0px 484.3px,#e00000 484.3px 486.6px,#002900 486.6px 488.9px,#140000 488.9px 491.2px,#a30000 491.2px 493.5px,#7a0000 493.5px 498.1px,#ad0000 498.1px 500.3px,#004700 500.3px 502.6px,#700000 502.6px 504.9px,#140000 504.9px 509.5px,#990000 509.5px 511.8px,#002900 511.8px 514.1px,#8f0000 514.1px 516.4px,#520000 516.4px 518.7px,#002900 518.7px 521.0px,#1f0000 521.0px 523.3px,#850000 523.3px 525.6px,#660000 525.6px 527.9px,#8f0000 527.9px 530.2px,#7a0000 530.2px 532.5px,#ad0000 532.5px 534.8px,#290000 534.8px 537.1px,#520000 537.1px 539.4px,#470000 539.4px 541.7px,#00a300 541.7px 544.0px,#000a00 544.0px 546.3px,#700000 546.3px 548.5px,#ad0000 548.5px 550.8px,#3d0000 550.8px 553.1px,#290000 553.1px 555.4px,#001400 555.4px 557.7px,#000a00 557.7px 560.0px,#850000 560.0px 562.3px,#330000 562.3px 564.6px,#520000 564.6px 566.9px,#660000 566.9px 569.2px,#002900 569.2px 571.5px,#330000 571.5px 573.8px,#001400 573.8px 576.1px,#004700 576.1px 578.4px,#330000 578.4px 580.7px,#290000 580.7px 583.0px,#8f0000 583.0px 585.3px,#330000 585.3px 587.6px,#ff0000 587.6px 589.9px,#5c0000 589.9px 592.2px,#3d0000 592.2px 594.5px,#002900 594.5px 596.7px,#8f0000 596.7px 599.0px,#1f0000 599.0px 601.3px,#5c0000 601.3px 603.6px,#660000 603.6px 605.9px,#5c0000 605.9px 608.2px,#f50000 608.2px 610.5px,#290000 610.5px 612.8px,#330000 612.8px 615.1px,#7a0000 615.1px 617.4px,#b80000 617.4px 619.7px,#005200 619.7px 622.0px,#001400 622.0px 624.3px,#850000 624.3px 626.6px,#000000 626.6px 628.9px,#001400 628.9px 631.2px,#b80000 631.2px 633.5px,#330000 633.5px 635.8px,#990000 635.8px 638.1px,#660000 638.1px 642.7px,#ad0000 642.7px 644.9px,#7a0000 644.9px 647.2px,#5c0000 647.2px 651.8px,#290000 651.8px 654.1px,#ad0000 654.1px 656.4px,#140000 656.4px 658.7px,#ff0000 658.7px 661.0px,#8f0000 661.0px 663.3px,#520000 663.3px 665.6px,#ad0000 665.6px 667.9px,#290000 667.9px 670.2px,#003300 670.2px 672.5px,#5c0000 672.5px 674.8px,#520000 674.8px 677.1px,#3d0000 677.1px 679.4px,#520000 679.4px 681.7px,#330000 681.7px 684.0px,#001f00 684.0px 686.3px,#140000 686.3px 688.6px,#330000 688.6px 690.8px,#8f0000 690.8px 693.1px,#520000 693.1px 695.4px,#3d0000 695.4px 697.7px,#000000 697.7px 700.0px,#000a00 700.0px 702.3px,#290000 702.3px 704.6px,#0a0000 704.6px 706.9px,#470000 706.9px 709.2px,#520000 709.2px 711.5px,#a30000 711.5px 713.8px,#850000 713.8px 716.1px,#330000 716.1px 718.4px,#1f0000 718.4px 720.7px,#001f00 720.7px 723.0px,#8f0000 723.0px 725.3px,#000000 725.3px 727.6px,#8f0000 727.6px 729.9px,#290000 729.9px 732.2px,#1f0000 732.2px 736.8px,#990000 736.8px 739.0px,#330000 739.0px 741.3px,#cc0000 741.3px 743.6px,#700000 743.6px 745.9px,#290000 745.9px 748.2px,#330000 748.2px 750.5px,#3d0000 750.5px 752.8px,#003300 752.8px 755.1px,#a30000 755.1px 757.4px,#005200 757.4px 759.7px,#5c0000 759.7px 762.0px)"></div><div class="r" style="top:718.67px;background:linear-gradient(90deg,#000000 0.0px 2.3px,#330000 2.3px 4.6px,#0a0000 4.6px 6.9px,#005c00 6.9px 9.2px,#009900 9.2px 11.5px,#000000 11.5px 13.8px,#007a00 13.8px 16.1px,#290000 16.1px 18.4px,#005200 18.4px 20.7px,#470000 20.7px 23.0px,#290000 23.0px 25.2px,#001400 25.2px 27.5px,#000000 27.5px 29.8px,#001f00 29.8px 32.1px,#003d00 32.1px 34.4px,#001400 34.4px 36.7px,#005200 36.7px 39.0px,#0a0000 39.0px 41.3px,#290000 41.3px 43.6px,#7a0000 43.6px 45.9px,#0a0000 45.9px 48.2px,#003300 48.2px 50.5px,#002900 50.5px 52.8px,#000a00 52.8px 55.1px,#008500 55.1px 57.4px,#001f00 57.4px 59.7px,#005c00 59.7px 62.0px,#006600 62.0px 64.3px,#003300 64.3px 66.6px,#000000 66.6px 68.9px,#700000 68.9px 71.2px,#003300 71.2px 73.4px,#660000 73.4px 75.7px,#00b800 75.7px 78.0px,#00c200 78.0px 82.6px,#00cc00 82.6px 84.9px,#00d600 84.9px 87.2px,#005200 87.2px 89.5px,#00ff00 89.5px 91.8px,#007a00 91.8px 94.1px,#00c200 94.1px 96.4px,#005200 96.4px 98.7px,#00ad00 98.7px 101.0px,#00e000 101.0px 103.3px,#003300 103.3px 105.6px,#00b800 105.6px 107.9px,#008500 107.9px 110.2px,#002900 110.2px 112.5px,#00b800 112.5px 114.8px,#007000 114.8px 117.1px,#00cc00 117.1px 119.3px,#00f500 119.3px 123.9px,#001f00 123.9px 126.2px,#007000 126.2px 128.5px,#00cc00 128.5px 130.8px,#004700 130.8px 133.1px,#007000 133.1px 137.7px,#006600 137.7px 140.0px,#00ff00 140.0px 142.3px,#008f00 142.3px 144.6px,#007a00 144.6px 146.9px,#00e000 146.9px 149.2px,#003300 149.2px 151.5px,#00d600 151.5px 153.8px,#008500 153.8px 156.1px,#005c00 156.1px 158.4px,#008500 158.4px 160.7px,#002900 160.7px 163.0px,#00d600 163.0px 165.3px,#006600 165.3px 167.5px,#00ad00 167.5px 169.8px,#003d00 169.8px 172.1px,#003300 172.1px 174.4px,#004700 174.4px 176.7px,#002900 176.7px 179.0px,#003d00 179.0px 181.3px,#005200 181.3px 183.6px,#001400 183.6px 185.9px,#000a00 185.9px 188.2px,#0a0000 188.2px 190.5px,#005200 190.5px 192.8px,#002900 192.8px 195.1px,#007a00 195.1px 197.4px,#0a0000 197.4px 199.7px,#008f00 199.7px 202.0px,#007000 202.0px 204.3px,#005c00 204.3px 206.6px,#001400 206.6px 208.9px,#1f0000 208.9px 211.2px,#002900 211.2px 213.5px,#3d0000 213.5px 215.7px,#003d00 215.7px 218.0px,#00b800 218.0px 220.3px,#008500 220.3px 222.6px,#009900 222.6px 224.9px,#005c00 224.9px 227.2px,#005200 227.2px 229.5px,#001400 229.5px 231.8px,#003300 231.8px 234.1px,#003d00 234.1px 236.4px,#001f00 236.4px 238.7px,#003300 238.7px 241.0px,#00ff00 241.0px 243.3px,#007000 243.3px 245.6px,#003300 245.6px 247.9px,#004700 247.9px 250.2px,#009900 250.2px 252.5px,#000a00 252.5px 254.8px,#000000 254.8px 257.1px,#002900 257.1px 259.4px,#006600 259.4px 261.7px,#004700 261.7px 263.9px,#005c00 263.9px 266.2px,#007a00 266.2px 268.5px,#003300 268.5px 270.8px,#005c00 270.8px 273.1px,#007000 273.1px 275.4px,#001400 275.4px 277.7px,#008f00 277.7px 280.0px,#003d00 280.0px 282.3px,#004700 282.3px 284.6px,#003d00 284.6px 286.9px,#004700 286.9px 289.2px,#005c00 289.2px 291.5px,#000a00 291.5px 293.8px,#006600 293.8px 296.1px,#005200 296.1px 298.4px,#007000 298.4px 300.7px,#140000 300.7px 303.0px,#001400 303.0px 305.3px,#0a0000 305.3px 307.6px,#5c0000 307.6px 309.8px,#000000 309.8px 312.1px,#001f00 312.1px 314.4px,#005c00 314.4px 316.7px,#003d00 316.7px 319.0px,#008500 319.0px 321.3px,#001400 321.3px 323.6px,#00ad00 323.6px 325.9px,#001f00 325.9px 328.2px,#004700 328.2px 330.5px,#008500 330.5px 332.8px,#0a0000 332.8px 335.1px,#006600 335.1px 337.4px,#003d00 337.4px 339.7px,#007000 339.7px 342.0px,#000000 342.0px 346.6px,#005c00 346.6px 348.9px,#002900 348.9px 351.2px,#005c00 351.2px 353.5px,#003300 353.5px 355.8px,#001400 355.8px 358.0px,#007000 358.0px 360.3px,#00cc00 360.3px 362.6px,#002900 362.6px 364.9px,#003d00 364.9px 367.2px,#470000 367.2px 369.5px,#003300 369.5px 371.8px,#0a0000 371.8px 374.1px,#005c00 374.1px 376.4px,#007a00 376.4px 378.7px,#009900 378.7px 381.0px,#8f0000 381.0px 383.3px,#0a0000 383.3px 385.6px,#700000 385.6px 387.9px,#330000 387.9px 390.2px,#660000 390.2px 392.5px,#290000 392.5px 394.8px,#001400 394.8px 397.1px,#290000 397.1px 399.4px,#660000 399.4px 401.7px,#0a0000 401.7px 404.0px,#7a0000 404.0px 406.2px,#000a00 406.2px 408.5px,#006600 408.5px 410.8px,#5c0000 410.8px 413.1px,#e00000 413.1px 415.4px,#0a0000 415.4px 417.7px,#850000 417.7px 420.0px,#290000 420.0px 422.3px,#000a00 422.3px 424.6px,#990000 424.6px 426.9px,#1f0000 426.9px 429.2px,#001f00 429.2px 431.5px,#520000 431.5px 433.8px,#5c0000 433.8px 436.1px,#8f0000 436.1px 438.4px,#3d0000 438.4px 440.7px,#140000 440.7px 443.0px,#660000 443.0px 445.3px,#850000 445.3px 447.6px,#ad0000 447.6px 449.9px,#330000 449.9px 452.2px,#002900 452.2px 454.4px,#7a0000 454.4px 456.7px,#1f0000 456.7px 459.0px,#5c0000 459.0px 461.3px,#990000 461.3px 463.6px,#660000 463.6px 465.9px,#3d0000 465.9px 468.2px,#001f00 468.2px 470.5px,#660000 470.5px 472.8px,#b80000 472.8px 475.1px,#990000 475.1px 477.4px,#004700 477.4px 479.7px,#850000 479.7px 482.0px,#140000 482.0px 484.3px,#7a0000 484.3px 486.6px,#700000 486.6px 488.9px,#003300 488.9px 491.2px,#5c0000 491.2px 495.8px,#000a00 495.8px 498.1px,#1f0000 498.1px 500.3px,#3d0000 500.3px 502.6px,#290000 502.6px 504.9px,#7a0000 504.9px 507.2px,#000000 507.2px 509.5px,#520000 509.5px 511.8px,#003300 511.8px 514.1px,#3d0000 514.1px 516.4px,#470000 516.4px 518.7px,#a30000 518.7px 521.0px,#000000 521.0px 523.3px,#990000 523.3px 525.6px,#0a0000 525.6px 527.9px,#d60000 527.9px 530.2px,#a30000 530.2px 532.5px,#470000 532.5px 534.8px,#700000 534.8px 537.1px,#3d0000 537.1px 539.4px,#003300 539.4px 541.7px,#008f00 541.7px 544.0px,#660000 544.0px 546.3px,#5c0000 546.3px 548.5px,#b80000 548.5px 550.8px,#700000 550.8px 553.1px,#7a0000 553.1px 555.4px,#330000 555.4px 557.7px,#700000 557.7px 560.0px,#f50000 560.0px 562.3px,#000a00 562.3px 564.6px,#3d0000 564.6px 566.9px,#850000 566.9px 569.2px,#001400 569.2px 571.5px,#5c0000 571.5px 573.8px,#850000 573.8px 576.1px,#7a0000 576.1px 578.4px,#1f0000 578.4px 580.7px,#520000 580.7px 585.3px,#c20000 585.3px 587.6px,#5c0000 587.6px 589.9px,#140000 589.9px 592.2px,#990000 592.2px 594.5px,#003300 594.5px 596.7px,#700000 596.7px 599.0px,#520000 599.0px 601.3px,#7a0000 601.3px 603.6px,#a30000 603.6px 605.9px,#660000 605.9px 608.2px,#001400 608.2px 610.5px,#001f00 610.5px 612.8px,#000000 612.8px 615.1px,#3d0000 615.1px 617.4px,#a30000 617.4px 619.7px,#8f0000 619.7px 622.0px,#000a00 622.0px 624.3px,#660000 624.3px 626.6px,#a30000 626.6px 628.9px,#005c00 628.9px 631.2px,#700000 631.2px 633.5px,#3d0000 633.5px 635.8px,#1f0000 635.8px 638.1px,#330000 638.1px 640.4px,#a30000 640.4px 642.7px,#3d0000 642.7px 644.9px,#700000 644.9px 647.2px,#7a0000 647.2px 649.5px,#5c0000 649.5px 651.8px,#001400 651.8px 654.1px,#140000 654.1px 656.4px,#850000 656.4px 658.7px,#5c0000 658.7px 661.0px,#b80000 661.0px 663.3px,#1f0000 663.3px 665.6px,#3d0000 665.6px 667.9px,#000a00 667.9px 672.5px,#ad0000 672.5px 674.8px,#850000 674.8px 677.1px,#330000 677.1px 679.4px,#660000 679.4px 681.7px,#330000 681.7px 684.0px,#850000 684.0px 686.3px,#990000 686.3px 688.6px,#520000 688.6px 690.8px,#330000 690.8px 693.1px,#001400 693.1px 695.4px,#330000 695.4px 697.7px,#001400 697.7px 700.0px,#330000 700.0px 702.3px,#cc0000 702.3px 704.6px,#5c0000 704.6px 706.9px,#0a0000 706.9px 709.2px,#a30000 709.2px 711.5px,#990000 711.5px 713.8px,#3d0000 713.8px 718.4px,#290000 718.4px 720.7px,#140000 720.7px 723.0px,#290000 723.0px 725.3px,#660000 725.3px 727.6px,#0a0000 727.6px 729.9px,#290000 729.9px 732.2px,#5c0000 732.2px 734.5px,#330000 734.5px 736.8px,#660000 736.8px 739.0px,#290000 739.0px 741.3px,#8f0000 741.3px 743.6px,#000000 743.6px 745.9px,#001f00 745.9px 748.2px,#8f0000 748.2px 750.5px,#3d0000 750.5px 752.8px,#ad0000 752.8px 755.1px,#470000 755.1px 757.4px,#0a0000 757.4px 759.7px,#850000 759.7px 762.0px)"></div><div class="r" style="top:744.00px;background:linear-gradient(90deg,#002900 0.0px 2.3px,#140000 2.3px 4.6px,#005c00 4.6px 6.9px,#001400 6.9px 9.2px,#00ad00 9.2px 11.5px,#001400 11.5px 13.8px,#140000 13.8px 18.4px,#001f00 18.4px 20.7px,#cc0000 20.7px 23.0px,#002900 23.0px 25.2px,#005200 25.2px 27.5px,#003300 27.5px 29.8px,#005c00 29.8px 32.1px,#1f0000 32.1px 34.4px,#002900 34.4px 36.7px,#003d00 36.7px 39.0px,#005200 39.0px 41.3px,#005c00 41.3px 43.6px,#520000 43.6px 45.9px,#000000 45.9px 48.2px,#3d0000 48.2px 50.5px,#0a0000 50.5px 52.8px,#3d0000 52.8px 55.1px,#000000 55.1px 57.4px,#004700 57.4px 59.7px,#850000 59.7px 62.0px,#005c00 62.0px 64.3px,#003300 64.3px 66.6px,#3d0000 66.6px 68.9px,#003300 68.9px 71.2px,#004700 71.2px 73.4px,#1f0000 73.4px 75.7px,#003300 75.7px 78.0px,#00c200 78.0px 80.3px,#007a00 80.3px 82.6px,#00cc00 82.6px 84.9px,#00b800 84.9px 87.2px,#002900 87.2px 89.5px,#00a300 89.5px 91.8px,#007000 91.8px 94.1px,#008f00 94.1px 101.0px,#002900 101.0px 103.3px,#004700 103.3px 105.6px,#003d00 105.6px 107.9px,#00cc00 107.9px 110.2px,#007000 110.2px 114.8px,#006600 114.8px 117.1px,#00ad00 117.1px 119.3px,#00b800 119.3px 121.6px,#00cc00 121.6px 123.9px,#000a00 123.9px 126.2px,#008f00 126.2px 128.5px,#009900 128.5px 130.8px,#001f00 130.8px 133.1px,#000a00 133.1px 135.4px,#005c00 135.4px 137.7px,#005200 137.7px 140.0px,#008500 140.0px 142.3px,#009900 142.3px 144.6px,#00b800 144.6px 146.9px,#00c200 146.9px 149.2px,#007000 149.2px 151.5px,#005200 151.5px 153.8px,#007000 153.8px 156.1px,#007a00 156.1px 160.7px,#005200 160.7px 163.0px,#004700 163.0px 165.3px,#003300 165.3px 167.5px,#007a00 167.5px 169.8px,#000a00 169.8px 172.1px,#001f00 172.1px 174.4px,#000a00 174.4px 176.7px,#000000 176.7px 179.0px,#008500 179.0px 181.3px,#003d00 181.3px 183.6px,#005c00 183.6px 185.9px,#000a00 185.9px 188.2px,#0a0000 188.2px 190.5px,#005c00 190.5px 192.8px,#004700 192.8px 195.1px,#003d00 195.1px 197.4px,#003300 197.4px 199.7px,#003d00 199.7px 202.0px,#006600 202.0px 206.6px,#001400 206.6px 211.2px,#000a00 211.2px 213.5px,#003300 213.5px 215.7px,#002900 215.7px 218.0px,#009900 218.0px 220.3px,#007000 220.3px 222.6px,#00e000 222.6px 224.9px,#005200 224.9px 227.2px,#006600 227.2px 229.5px,#002900 229.5px 231.8px,#1f0000 231.8px 234.1px,#000a00 234.1px 236.4px,#0a0000 236.4px 238.7px,#003d00 238.7px 241.0px,#00c200 241.0px 243.3px,#007000 243.3px 245.6px,#003300 245.6px 247.9px,#005200 247.9px 250.2px,#005c00 250.2px 252.5px,#0a0000 252.5px 254.8px,#1f0000 254.8px 257.1px,#001400 257.1px 259.4px,#002900 259.4px 261.7px,#006600 261.7px 263.9px,#007000 263.9px 266.2px,#005200 266.2px 268.5px,#000000 268.5px 270.8px,#005c00 270.8px 273.1px,#008500 273.1px 275.4px,#003d00 275.4px 277.7px,#007000 277.7px 280.0px,#001f00 280.0px 282.3px,#007a00 282.3px 284.6px,#001400 284.6px 286.9px,#007a00 286.9px 289.2px,#001400 289.2px 291.5px,#002900 291.5px 293.8px,#008500 293.8px 296.1px,#004700 296.1px 298.4px,#008f00 298.4px 300.7px,#003d00 300.7px 303.0px,#003300 303.0px 305.3px,#002900 305.3px 307.6px,#000000 307.6px 309.8px,#0a0000 309.8px 312.1px,#005c00 312.1px 314.4px,#007a00 314.4px 316.7px,#00a300 316.7px 319.0px,#008f00 319.0px 321.3px,#004700 321.3px 323.6px,#00a300 323.6px 325.9px,#004700 325.9px 328.2px,#00c200 328.2px 330.5px,#003300 330.5px 332.8px,#850000 332.8px 335.1px,#006600 335.1px 337.4px,#002900 337.4px 339.7px,#004700 339.7px 342.0px,#003d00 342.0px 344.3px,#140000 344.3px 346.6px,#001400 346.6px 348.9px,#007a00 348.9px 351.2px,#003300 351.2px 353.5px,#007a00 353.5px 355.8px,#000a00 355.8px 358.0px,#006600 358.0px 360.3px,#008f00 360.3px 362.6px,#001400 362.6px 367.2px,#004700 367.2px 369.5px,#700000 369.5px 371.8px,#001f00 371.8px 374.1px,#004700 374.1px 378.7px,#003300 378.7px 381.0px,#140000 381.0px 383.3px,#a30000 383.3px 385.6px,#eb0000 385.6px 387.9px,#007000 387.9px 390.2px,#0a0000 390.2px 392.5px,#1f0000 392.5px 394.8px,#001400 394.8px 399.4px,#cc0000 399.4px 401.7px,#8f0000 401.7px 404.0px,#5c0000 404.0px 406.2px,#000000 406.2px 408.5px,#001f00 408.5px 410.8px,#850000 410.8px 413.1px,#8f0000 413.1px 415.4px,#290000 415.4px 417.7px,#e00000 417.7px 420.0px,#8f0000 420.0px 422.3px,#3d0000 422.3px 424.6px,#5c0000 424.6px 426.9px,#990000 426.9px 429.2px,#0a0000 429.2px 431.5px,#1f0000 431.5px 433.8px,#eb0000 433.8px 436.1px,#b80000 436.1px 438.4px,#470000 438.4px 440.7px,#0a0000 440.7px 443.0px,#140000 443.0px 445.3px,#330000 445.3px 447.6px,#990000 447.6px 449.9px,#3d0000 449.9px 452.2px,#1f0000 452.2px 454.4px,#850000 454.4px 456.7px,#660000 456.7px 459.0px,#520000 459.0px 461.3px,#5c0000 461.3px 463.6px,#330000 463.6px 465.9px,#3d0000 465.9px 468.2px,#5c0000 468.2px 470.5px,#000000 470.5px 472.8px,#520000 472.8px 475.1px,#8f0000 475.1px 477.4px,#000a00 477.4px 479.7px,#660000 479.7px 482.0px,#0a0000 482.0px 484.3px,#660000 484.3px 486.6px,#002900 486.6px 488.9px,#001f00 488.9px 491.2px,#520000 491.2px 493.5px,#cc0000 493.5px 495.8px,#001400 495.8px 498.1px,#660000 498.1px 500.3px,#006600 500.3px 502.6px,#a30000 502.6px 504.9px,#001400 504.9px 507.2px,#5c0000 507.2px 509.5px,#700000 509.5px 511.8px,#003d00 511.8px 514.1px,#0a0000 514.1px 516.4px,#005200 516.4px 518.7px,#000a00 518.7px 521.0px,#850000 521.0px 523.3px,#520000 523.3px 525.6px,#1f0000 525.6px 527.9px,#850000 527.9px 530.2px,#d60000 530.2px 532.5px,#1f0000 532.5px 534.8px,#7a0000 534.8px 537.1px,#140000 537.1px 539.4px,#290000 539.4px 541.7px,#004700 541.7px 544.0px,#000000 544.0px 546.3px,#140000 546.3px 548.5px,#8f0000 548.5px 550.8px,#000a00 550.8px 553.1px,#5c0000 553.1px 555.4px,#290000 555.4px 557.7px,#5c0000 557.7px 560.0px,#850000 560.0px 562.3px,#001400 562.3px 564.6px,#850000 564.6px 566.9px,#990000 566.9px 569.2px,#006600 569.2px 571.5px,#a30000 571.5px 573.8px,#004700 573.8px 576.1px,#000000 576.1px 578.4px,#520000 578.4px 580.7px,#7a0000 580.7px 583.0px,#660000 583.0px 587.6px,#cc0000 587.6px 589.9px,#003d00 589.9px 592.2px,#a30000 592.2px 594.5px,#b80000 594.5px 596.7px,#5c0000 596.7px 599.0px,#330000 599.0px 601.3px,#850000 601.3px 603.6px,#290000 603.6px 608.2px,#e00000 608.2px 610.5px,#1f0000 610.5px 612.8px,#470000 612.8px 615.1px,#001400 615.1px 617.4px,#3d0000 617.4px 619.7px,#140000 619.7px 622.0px,#3d0000 622.0px 624.3px,#0a0000 624.3px 626.6px,#b80000 626.6px 628.9px,#660000 628.9px 631.2px,#8f0000 631.2px 633.5px,#850000 633.5px 635.8px,#290000 635.8px 638.1px,#8f0000 638.1px 640.4px,#000a00 640.4px 642.7px,#1f0000 642.7px 644.9px,#5c0000 644.9px 647.2px,#3d0000 647.2px 649.5px,#000000 649.5px 651.8px,#5c0000 651.8px 654.1px,#ff0000 654.1px 656.4px,#290000 656.4px 658.7px,#cc0000 658.7px 661.0px,#470000 661.0px 663.3px,#008500 663.3px 665.6px,#520000 665.6px 667.9px,#006600 667.9px 670.2px,#003d00 670.2px 672.5px,#3d0000 672.5px 674.8px,#005c00 674.8px 677.1px,#8f0000 677.1px 679.4px,#b80000 679.4px 681.7px,#ad0000 681.7px 684.0px,#850000 684.0px 686.3px,#ad0000 686.3px 688.6px,#290000 688.6px 690.8px,#003300 690.8px 693.1px,#290000 693.1px 695.4px,#330000 695.4px 697.7px,#cc0000 697.7px 700.0px,#330000 700.0px 702.3px,#700000 702.3px 704.6px,#850000 704.6px 706.9px,#3d0000 706.9px 709.2px,#cc0000 709.2px 711.5px,#850000 711.5px 713.8px,#660000 713.8px 716.1px,#470000 716.1px 718.4px,#005200 718.4px 720.7px,#290000 720.7px 723.0px,#000000 723.0px 725.3px,#660000 725.3px 727.6px,#3d0000 727.6px 729.9px,#700000 729.9px 732.2px,#8f0000 732.2px 736.8px,#7a0000 736.8px 739.0px,#a30000 739.0px 741.3px,#d60000 741.3px 743.6px,#a30000 743.6px 745.9px,#1f0000 745.9px 748.2px,#850000 748.2px 750.5px,#b80000 750.5px 752.8px,#850000 752.8px 755.1px,#470000 755.1px 757.4px,#002900 757.4px 759.7px,#470000 759.7px 762.0px)"></div><div class="r" style="top:769.33px;background:linear-gradient(90deg,#002900 0.0px 2.3px,#000a00 2.3px 4.6px,#001400 4.6px 6.9px,#002900 6.9px 9.2px,#005200 9.2px 11.5px,#007a00 11.5px 13.8px,#006600 13.8px 16.1px,#002900 16.1px 18.4px,#001400 18.4px 20.7px,#470000 20.7px 23.0px,#003d00 23.0px 25.2px,#001f00 25.2px 27.5px,#004700 27.5px 29.8px,#005200 29.8px 32.1px,#001f00 32.1px 34.4px,#1f0000 34.4px 36.7px,#005200 36.7px 39.0px,#003300 39.0px 41.3px,#004700 41.3px 43.6px,#3d0000 43.6px 45.9px,#140000 45.9px 48.2px,#001400 48.2px 50.5px,#001f00 50.5px 52.8px,#140000 52.8px 55.1px,#001f00 55.1px 57.4px,#008f00 57.4px 59.7px,#140000 59.7px 62.0px,#004700 62.0px 64.3px,#007a00 64.3px 66.6px,#002900 66.6px 68.9px,#470000 68.9px 71.2px,#005200 71.2px 73.4px,#001f00 73.4px 75.7px,#001400 75.7px 78.0px,#002900 78.0px 82.6px,#003300 82.6px 84.9px,#007a00 84.9px 87.2px,#000000 87.2px 89.5px,#007a00 89.5px 94.1px,#004700 94.1px 96.4px,#002900 96.4px 98.7px,#1f0000 98.7px 101.0px,#001400 101.0px 103.3px,#003300 103.3px 105.6px,#002900 105.6px 107.9px,#004700 107.9px 110.2px,#008500 110.2px 112.5px,#007a00 112.5px 114.8px,#000a00 114.8px 117.1px,#007000 117.1px 119.3px,#008f00 119.3px 121.6px,#008500 121.6px 123.9px,#140000 123.9px 126.2px,#007a00 126.2px 128.5px,#000a00 128.5px 130.8px,#1f0000 130.8px 133.1px,#001f00 133.1px 140.0px,#009900 140.0px 142.3px,#003d00 142.3px 144.6px,#00b800 144.6px 146.9px,#008f00 146.9px 149.2px,#520000 149.2px 151.5px,#005c00 151.5px 153.8px,#000000 153.8px 156.1px,#002900 156.1px 160.7px,#003d00 160.7px 163.0px,#004700 163.0px 165.3px,#003300 165.3px 167.5px,#006600 167.5px 169.8px,#003d00 169.8px 172.1px,#005200 172.1px 174.4px,#003300 174.4px 176.7px,#000a00 176.7px 179.0px,#001400 179.0px 181.3px,#007a00 181.3px 183.6px,#008500 183.6px 185.9px,#0a0000 185.9px 188.2px,#000a00 188.2px 190.5px,#002900 190.5px 192.8px,#005200 192.8px 195.1px,#006600 195.1px 197.4px,#003300 197.4px 199.7px,#008f00 199.7px 204.3px,#5c0000 204.3px 206.6px,#008f00 206.6px 208.9px,#000a00 208.9px 211.2px,#003d00 211.2px 213.5px,#990000 213.5px 215.7px,#004700 215.7px 218.0px,#009900 218.0px 220.3px,#005c00 220.3px 222.6px,#00b800 222.6px 224.9px,#005200 224.9px 227.2px,#004700 227.2px 229.5px,#003d00 229.5px 231.8px,#0a0000 231.8px 234.1px,#005c00 234.1px 236.4px,#001400 236.4px 238.7px,#006600 238.7px 241.0px,#00cc00 241.0px 243.3px,#003300 243.3px 245.6px,#0a0000 245.6px 247.9px,#004700 247.9px 250.2px,#002900 250.2px 252.5px,#000000 252.5px 254.8px,#140000 254.8px 257.1px,#005200 257.1px 259.4px,#003300 259.4px 261.7px,#005200 261.7px 268.5px,#000a00 268.5px 270.8px,#007000 270.8px 273.1px,#005c00 273.1px 275.4px,#330000 275.4px 277.7px,#008f00 277.7px 280.0px,#005200 280.0px 282.3px,#004700 282.3px 284.6px,#000000 284.6px 286.9px,#003300 286.9px 291.5px,#002900 291.5px 293.8px,#006600 293.8px 296.1px,#000a00 296.1px 298.4px,#003d00 298.4px 300.7px,#001400 300.7px 303.0px,#0a0000 303.0px 305.3px,#001400 305.3px 307.6px,#470000 307.6px 309.8px,#001f00 309.8px 312.1px,#002900 312.1px 314.4px,#007a00 314.4px 316.7px,#00b800 316.7px 319.0px,#007a00 319.0px 321.3px,#008f00 321.3px 323.6px,#007a00 323.6px 325.9px,#000000 325.9px 328.2px,#005c00 328.2px 332.8px,#3d0000 332.8px 335.1px,#006600 335.1px 337.4px,#003d00 337.4px 339.7px,#002900 339.7px 344.3px,#003300 344.3px 348.9px,#008f00 348.9px 351.2px,#006600 351.2px 353.5px,#009900 353.5px 355.8px,#002900 355.8px 358.0px,#003300 358.0px 360.3px,#004700 360.3px 362.6px,#003300 362.6px 364.9px,#140000 364.9px 367.2px,#290000 367.2px 369.5px,#470000 369.5px 371.8px,#003d00 371.8px 376.4px,#006600 376.4px 378.7px,#008500 378.7px 381.0px,#520000 381.0px 383.3px,#7a0000 383.3px 385.6px,#a30000 385.6px 387.9px,#0a0000 387.9px 390.2px,#290000 390.2px 392.5px,#3d0000 392.5px 394.8px,#330000 394.8px 397.1px,#1f0000 397.1px 399.4px,#ff0000 399.4px 401.7px,#001400 401.7px 404.0px,#b80000 404.0px 406.2px,#330000 406.2px 408.5px,#660000 408.5px 413.1px,#8f0000 413.1px 415.4px,#140000 415.4px 417.7px,#eb0000 417.7px 420.0px,#660000 420.0px 422.3px,#003300 422.3px 424.6px,#0a0000 424.6px 426.9px,#470000 426.9px 429.2px,#000000 429.2px 431.5px,#290000 431.5px 433.8px,#850000 433.8px 436.1px,#700000 436.1px 438.4px,#000a00 438.4px 440.7px,#470000 440.7px 443.0px,#d60000 443.0px 445.3px,#470000 445.3px 447.6px,#7a0000 447.6px 449.9px,#140000 449.9px 452.2px,#290000 452.2px 454.4px,#5c0000 454.4px 456.7px,#470000 456.7px 459.0px,#140000 459.0px 461.3px,#520000 461.3px 465.9px,#001400 465.9px 468.2px,#1f0000 468.2px 470.5px,#290000 470.5px 472.8px,#470000 472.8px 475.1px,#7a0000 475.1px 477.4px,#002900 477.4px 479.7px,#470000 479.7px 482.0px,#660000 482.0px 484.3px,#470000 484.3px 486.6px,#660000 486.6px 488.9px,#290000 488.9px 491.2px,#a30000 491.2px 493.5px,#700000 493.5px 495.8px,#290000 495.8px 498.1px,#8f0000 498.1px 500.3px,#3d0000 500.3px 502.6px,#5c0000 502.6px 504.9px,#290000 504.9px 507.2px,#330000 507.2px 509.5px,#a30000 509.5px 511.8px,#003d00 511.8px 514.1px,#3d0000 514.1px 516.4px,#700000 516.4px 518.7px,#001400 518.7px 521.0px,#660000 521.0px 523.3px,#a30000 523.3px 525.6px,#001f00 525.6px 527.9px,#990000 527.9px 530.2px,#ad0000 530.2px 532.5px,#001f00 532.5px 534.8px,#140000 534.8px 537.1px,#7a0000 537.1px 539.4px,#003d00 539.4px 541.7px,#003300 541.7px 544.0px,#b80000 544.0px 546.3px,#990000 546.3px 548.5px,#700000 548.5px 553.1px,#002900 553.1px 555.4px,#290000 555.4px 557.7px,#850000 557.7px 560.0px,#7a0000 560.0px 562.3px,#140000 562.3px 564.6px,#5c0000 564.6px 566.9px,#660000 566.9px 569.2px,#004700 569.2px 571.5px,#c20000 571.5px 573.8px,#140000 573.8px 576.1px,#0a0000 576.1px 578.4px,#140000 578.4px 580.7px,#7a0000 580.7px 585.3px,#290000 585.3px 587.6px,#f50000 587.6px 589.9px,#290000 589.9px 592.2px,#470000 592.2px 594.5px,#000a00 594.5px 596.7px,#000000 596.7px 599.0px,#290000 599.0px 601.3px,#470000 601.3px 603.6px,#990000 603.6px 605.9px,#520000 605.9px 608.2px,#700000 608.2px 610.5px,#0a0000 610.5px 612.8px,#660000 612.8px 615.1px,#470000 615.1px 617.4px,#660000 617.4px 619.7px,#140000 619.7px 622.0px,#001f00 622.0px 624.3px,#0a0000 624.3px 626.6px,#520000 626.6px 628.9px,#3d0000 628.9px 631.2px,#b80000 631.2px 633.5px,#8f0000 633.5px 635.8px,#700000 635.8px 638.1px,#1f0000 638.1px 640.4px,#520000 640.4px 647.2px,#290000 647.2px 649.5px,#0a0000 649.5px 651.8px,#000000 651.8px 654.1px,#850000 654.1px 656.4px,#0a0000 656.4px 658.7px,#c20000 658.7px 661.0px,#7a0000 661.0px 663.3px,#007a00 663.3px 665.6px,#b80000 665.6px 667.9px,#005c00 667.9px 670.2px,#001400 670.2px 672.5px,#470000 672.5px 674.8px,#001f00 674.8px 677.1px,#7a0000 677.1px 679.4px,#ad0000 679.4px 681.7px,#700000 681.7px 684.0px,#8f0000 684.0px 686.3px,#330000 686.3px 688.6px,#700000 688.6px 690.8px,#470000 690.8px 693.1px,#660000 693.1px 697.7px,#990000 697.7px 700.0px,#7a0000 700.0px 702.3px,#470000 702.3px 704.6px,#660000 704.6px 706.9px,#140000 706.9px 709.2px,#850000 709.2px 711.5px,#5c0000 711.5px 713.8px,#700000 713.8px 716.1px,#7a0000 716.1px 718.4px,#002900 718.4px 720.7px,#000000 720.7px 723.0px,#290000 723.0px 725.3px,#660000 725.3px 727.6px,#0a0000 727.6px 732.2px,#3d0000 732.2px 734.5px,#c20000 734.5px 736.8px,#5c0000 736.8px 741.3px,#990000 741.3px 743.6px,#3d0000 743.6px 745.9px,#0a0000 745.9px 748.2px,#520000 748.2px 750.5px,#660000 750.5px 752.8px,#990000 752.8px 755.1px,#290000 755.1px 757.4px,#000000 757.4px 759.7px,#c20000 759.7px 762.0px)"></div><div class="r" style="top:794.67px;background:linear-gradient(90deg,#008500 0.0px 2.3px,#001f00 2.3px 6.9px,#000a00 6.9px 9.2px,#00b800 9.2px 11.5px,#004700 11.5px 13.8px,#00a300 13.8px 16.1px,#003d00 16.1px 20.7px,#000a00 20.7px 23.0px,#140000 23.0px 25.2px,#1f0000 25.2px 27.5px,#000a00 27.5px 29.8px,#007000 29.8px 32.1px,#005c00 32.1px 34.4px,#003d00 34.4px 36.7px,#00eb00 36.7px 39.0px,#005c00 39.0px 41.3px,#001400 41.3px 43.6px,#000000 43.6px 45.9px,#000a00 45.9px 48.2px,#003d00 48.2px 50.5px,#008500 50.5px 52.8px,#660000 52.8px 55.1px,#005200 55.1px 57.4px,#006600 57.4px 59.7px,#001400 59.7px 62.0px,#003d00 62.0px 66.6px,#002900 66.6px 68.9px,#1f0000 68.9px 73.4px,#000000 73.4px 75.7px,#003d00 75.7px 78.0px,#005200 78.0px 84.9px,#007000 84.9px 87.2px,#006600 87.2px 89.5px,#005c00 89.5px 91.8px,#004700 91.8px 94.1px,#008500 94.1px 96.4px,#003300 96.4px 98.7px,#001f00 98.7px 101.0px,#001400 101.0px 103.3px,#290000 103.3px 105.6px,#008500 105.6px 107.9px,#007000 107.9px 110.2px,#003300 110.2px 112.5px,#006600 112.5px 114.8px,#002900 114.8px 117.1px,#003d00 117.1px 119.3px,#009900 119.3px 121.6px,#004700 121.6px 123.9px,#000000 123.9px 126.2px,#003d00 126.2px 128.5px,#002900 128.5px 130.8px,#001f00 130.8px 133.1px,#001400 133.1px 135.4px,#0a0000 135.4px 137.7px,#004700 137.7px 140.0px,#007000 140.0px 142.3px,#007a00 142.3px 144.6px,#002900 144.6px 146.9px,#009900 146.9px 149.2px,#470000 149.2px 151.5px,#003d00 151.5px 156.1px,#005200 156.1px 158.4px,#003d00 158.4px 160.7px,#001f00 160.7px 163.0px,#005200 163.0px 165.3px,#003300 165.3px 167.5px,#005c00 167.5px 169.8px,#005200 169.8px 172.1px,#008f00 172.1px 174.4px,#005c00 174.4px 176.7px,#007a00 176.7px 179.0px,#008500 179.0px 181.3px,#00cc00 181.3px 183.6px,#001f00 183.6px 185.9px,#003d00 185.9px 188.2px,#001f00 188.2px 192.8px,#005c00 192.8px 195.1px,#008500 195.1px 197.4px,#005200 197.4px 199.7px,#008500 199.7px 202.0px,#004700 202.0px 204.3px,#003d00 204.3px 206.6px,#007000 206.6px 208.9px,#003300 208.9px 211.2px,#004700 211.2px 213.5px,#1f0000 213.5px 215.7px,#004700 215.7px 218.0px,#00b800 218.0px 220.3px,#004700 220.3px 222.6px,#00cc00 222.6px 224.9px,#003300 224.9px 227.2px,#004700 227.2px 229.5px,#003d00 229.5px 231.8px,#0a0000 231.8px 234.1px,#008500 234.1px 236.4px,#003d00 236.4px 238.7px,#000000 238.7px 241.0px,#00cc00 241.0px 243.3px,#008500 243.3px 245.6px,#000000 245.6px 247.9px,#00a300 247.9px 250.2px,#001400 250.2px 252.5px,#002900 252.5px 254.8px,#3d0000 254.8px 257.1px,#001400 257.1px 259.4px,#000a00 259.4px 261.7px,#001f00 261.7px 263.9px,#003d00 263.9px 266.2px,#006600 266.2px 268.5px,#001400 268.5px 270.8px,#008500 270.8px 273.1px,#003d00 273.1px 275.4px,#1f0000 275.4px 277.7px,#007a00 277.7px 280.0px,#009900 280.0px 282.3px,#005c00 282.3px 284.6px,#001400 284.6px 286.9px,#005200 286.9px 289.2px,#008500 289.2px 291.5px,#003300 291.5px 293.8px,#008500 293.8px 296.1px,#005c00 296.1px 300.7px,#004700 300.7px 303.0px,#001400 303.0px 305.3px,#000000 305.3px 307.6px,#470000 307.6px 309.8px,#003300 309.8px 312.1px,#004700 312.1px 314.4px,#006600 314.4px 316.7px,#00cc00 316.7px 319.0px,#00d600 319.0px 321.3px,#005200 321.3px 323.6px,#00ad00 323.6px 325.9px,#001400 325.9px 328.2px,#005200 328.2px 330.5px,#005c00 330.5px 332.8px,#850000 332.8px 335.1px,#005c00 335.1px 337.4px,#008500 337.4px 339.7px,#004700 339.7px 342.0px,#140000 342.0px 344.3px,#001400 344.3px 346.6px,#0a0000 346.6px 348.9px,#00c200 348.9px 351.2px,#008500 351.2px 353.5px,#00c200 353.5px 355.8px,#000000 355.8px 358.0px,#008500 358.0px 360.3px,#00c200 360.3px 362.6px,#001400 362.6px 364.9px,#004700 364.9px 367.2px,#1f0000 367.2px 371.8px,#003d00 371.8px 374.1px,#006600 374.1px 378.7px,#004700 378.7px 381.0px,#520000 381.0px 383.3px,#470000 383.3px 385.6px,#990000 385.6px 387.9px,#3d0000 387.9px 390.2px,#1f0000 390.2px 392.5px,#140000 392.5px 394.8px,#a30000 394.8px 397.1px,#000000 397.1px 399.4px,#d60000 399.4px 401.7px,#520000 401.7px 406.2px,#003300 406.2px 408.5px,#0a0000 408.5px 410.8px,#660000 410.8px 415.4px,#004700 415.4px 417.7px,#ad0000 417.7px 420.0px,#8f0000 420.0px 422.3px,#1f0000 422.3px 424.6px,#8f0000 424.6px 426.9px,#1f0000 426.9px 429.2px,#004700 429.2px 431.5px,#7a0000 431.5px 433.8px,#c20000 433.8px 436.1px,#520000 436.1px 438.4px,#0a0000 438.4px 440.7px,#001f00 440.7px 443.0px,#0a0000 443.0px 445.3px,#b80000 445.3px 447.6px,#660000 447.6px 449.9px,#520000 449.9px 452.2px,#001400 452.2px 454.4px,#7a0000 454.4px 456.7px,#1f0000 456.7px 459.0px,#000000 459.0px 461.3px,#7a0000 461.3px 463.6px,#1f0000 463.6px 465.9px,#290000 465.9px 468.2px,#000000 468.2px 470.5px,#140000 470.5px 472.8px,#1f0000 472.8px 475.1px,#660000 475.1px 477.4px,#000000 477.4px 479.7px,#7a0000 479.7px 482.0px,#290000 482.0px 484.3px,#004700 484.3px 486.6px,#1f0000 486.6px 488.9px,#001f00 488.9px 491.2px,#5c0000 491.2px 493.5px,#1f0000 493.5px 495.8px,#003d00 495.8px 498.1px,#470000 498.1px 500.3px,#000a00 500.3px 502.6px,#8f0000 502.6px 504.9px,#5c0000 504.9px 507.2px,#290000 507.2px 509.5px,#520000 509.5px 511.8px,#004700 511.8px 514.1px,#290000 514.1px 516.4px,#0a0000 516.4px 518.7px,#002900 518.7px 521.0px,#8f0000 521.0px 523.3px,#0a0000 523.3px 525.6px,#001f00 525.6px 527.9px,#660000 527.9px 530.2px,#7a0000 530.2px 532.5px,#001400 532.5px 534.8px,#660000 534.8px 537.1px,#8f0000 537.1px 539.4px,#1f0000 539.4px 541.7px,#005200 541.7px 544.0px,#470000 544.0px 546.3px,#005c00 546.3px 548.5px,#520000 548.5px 550.8px,#5c0000 550.8px 553.1px,#001400 553.1px 555.4px,#330000 555.4px 557.7px,#990000 557.7px 560.0px,#7a0000 560.0px 562.3px,#003d00 562.3px 564.6px,#3d0000 564.6px 566.9px,#5c0000 566.9px 569.2px,#005200 569.2px 571.5px,#c20000 571.5px 573.8px,#1f0000 573.8px 576.1px,#140000 576.1px 578.4px,#660000 578.4px 580.7px,#520000 580.7px 583.0px,#5c0000 583.0px 587.6px,#e00000 587.6px 589.9px,#002900 589.9px 592.2px,#3d0000 592.2px 594.5px,#140000 594.5px 596.7px,#700000 596.7px 599.0px,#0a0000 599.0px 601.3px,#660000 601.3px 603.6px,#290000 603.6px 608.2px,#a30000 608.2px 610.5px,#5c0000 610.5px 612.8px,#290000 612.8px 615.1px,#001400 615.1px 617.4px,#470000 617.4px 619.7px,#0a0000 619.7px 622.0px,#3d0000 622.0px 624.3px,#004700 624.3px 626.6px,#5c0000 626.6px 628.9px,#000a00 628.9px 631.2px,#700000 631.2px 633.5px,#470000 633.5px 635.8px,#5c0000 635.8px 638.1px,#330000 638.1px 640.4px,#5c0000 640.4px 642.7px,#330000 642.7px 644.9px,#3d0000 644.9px 647.2px,#5c0000 647.2px 649.5px,#003d00 649.5px 651.8px,#0a0000 651.8px 654.1px,#e00000 654.1px 656.4px,#000000 656.4px 658.7px,#5c0000 658.7px 661.0px,#470000 661.0px 663.3px,#004700 663.3px 665.6px,#5c0000 665.6px 667.9px,#000a00 667.9px 670.2px,#002900 670.2px 672.5px,#000000 672.5px 674.8px,#330000 674.8px 677.1px,#660000 677.1px 679.4px,#7a0000 679.4px 681.7px,#470000 681.7px 684.0px,#5c0000 684.0px 686.3px,#8f0000 686.3px 688.6px,#700000 688.6px 690.8px,#000a00 690.8px 693.1px,#003d00 693.1px 695.4px,#520000 695.4px 697.7px,#700000 697.7px 700.0px,#330000 700.0px 702.3px,#5c0000 702.3px 704.6px,#470000 704.6px 706.9px,#520000 706.9px 709.2px,#ad0000 709.2px 711.5px,#660000 711.5px 713.8px,#ff0000 713.8px 716.1px,#1f0000 716.1px 718.4px,#001f00 718.4px 720.7px,#003d00 720.7px 723.0px,#290000 723.0px 725.3px,#8f0000 725.3px 727.6px,#520000 727.6px 729.9px,#001400 729.9px 732.2px,#5c0000 732.2px 734.5px,#290000 734.5px 736.8px,#470000 736.8px 739.0px,#004700 739.0px 741.3px,#8f0000 741.3px 743.6px,#5c0000 743.6px 745.9px,#002900 745.9px 748.2px,#290000 748.2px 750.5px,#520000 750.5px 752.8px,#990000 752.8px 755.1px,#290000 755.1px 757.4px,#140000 757.4px 759.7px,#7a0000 759.7px 762.0px)"></div></div>
<svg width="1772" height="824" viewBox="0 0 1772 824">
<text x="8.5" y="29.7" class="pl">A</text>
<text x="1009.8" y="29.7" class="pl">B</text>

<defs><linearGradient id="cb" x1="0" y1="0" x2="0" y2="1"><stop offset="0.00" stop-color="#ff0000"/><stop offset="0.02" stop-color="#f50000"/><stop offset="0.04" stop-color="#eb0000"/><stop offset="0.06" stop-color="#e00000"/><stop offset="0.08" stop-color="#d60000"/><stop offset="0.10" stop-color="#cc0000"/><stop offset="0.12" stop-color="#c20000"/><stop offset="0.14" stop-color="#b80000"/><stop offset="0.16" stop-color="#ad0000"/><stop offset="0.18" stop-color="#a30000"/><stop offset="0.20" stop-color="#990000"/><stop offset="0.22" stop-color="#8f0000"/><stop offset="0.24" stop-color="#850000"/><stop offset="0.26" stop-color="#7a0000"/><stop offset="0.28" stop-color="#700000"/><stop offset="0.30" stop-color="#660000"/><stop offset="0.32" stop-color="#5c0000"/><stop offset="0.34" stop-color="#520000"/><stop offset="0.36" stop-color="#470000"/><stop offset="0.38" stop-color="#3d0000"/><stop offset="0.40" stop-color="#330000"/><stop offset="0.42" stop-color="#290000"/><stop offset="0.44" stop-color="#1f0000"/><stop offset="0.46" stop-color="#140000"/><stop offset="0.48" stop-color="#0a0000"/><stop offset="0.50" stop-color="#000000"/><stop offset="0.52" stop-color="#000a00"/><stop offset="0.54" stop-color="#001400"/><stop offset="0.56" stop-color="#001f00"/><stop offset="0.58" stop-color="#002900"/><stop offset="0.60" stop-color="#003300"/><stop offset="0.62" stop-color="#003d00"/><stop offset="0.64" stop-color="#004700"/><stop offset="0.66" stop-color="#005200"/><stop offset="0.68" stop-color="#005c00"/><stop offset="0.70" stop-color="#006600"/><stop offset="0.72" stop-color="#007000"/><stop offset="0.74" stop-color="#007a00"/><stop offset="0.76" stop-color="#008500"/><stop offset="0.78" stop-color="#008f00"/><stop offset="0.80" stop-color="#009900"/><stop offset="0.82" stop-color="#00a300"/><stop offset="0.84" stop-color="#00ad00"/><stop offset="0.86" stop-color="#00b800"/><stop offset="0.88" stop-color="#00c200"/><stop offset="0.90" stop-color="#00cc00"/><stop offset="0.92" stop-color="#00d600"/><stop offset="0.94" stop-color="#00e000"/><stop offset="0.96" stop-color="#00eb00"/><stop offset="0.98" stop-color="#00f500"/><stop offset="1.00" stop-color="#00ff00"/></linearGradient></defs>
<rect x="75" y="44.7" width="380.5" height="11.3" fill="#f98a82"/>
<rect x="455.5" y="44.7" width="381.5" height="11.3" fill="#02d3df"/>
<text x="841" y="54.5" class="tl">Type</text>
<rect x="896" y="43.7" width="14" height="206" fill="url(#cb)"/>
<text x="915.2" y="50.6" class="cl">3</text>
<text x="915.2" y="83.8" class="cl">2</text>
<text x="915.2" y="116.9" class="cl">1</text>
<text x="915.2" y="150.0" class="cl">0</text>
<text x="915.2" y="183.2" class="cl">−1</text>
<text x="915.2" y="216.3" class="cl">−2</text>
<text x="915.2" y="249.5" class="cl">−3</text>
<text x="929.5" y="51.8" class="tl">Type</text>
<rect x="929" y="55.5" width="15.7" height="15.8" fill="#02d3df"/>
<rect x="929" y="71.3" width="15.7" height="15.6" fill="#f98a82"/>
<text x="948.3" y="67.2" class="ll">DCM</text>
<text x="948.3" y="83" class="ll">Normal</text>
<text transform="translate(840.8 76.2) scale(1 1.16)" class="gl">PI15</text><text transform="translate(840.8 101.5) scale(1 1.16)" class="gl">MYH6</text><text transform="translate(840.8 126.8) scale(1 1.16)" class="gl">LCN10</text><text transform="translate(840.8 152.2) scale(1 1.16)" class="gl">LCN6</text><text transform="translate(840.8 177.5) scale(1 1.16)" class="gl">GNMT</text><text transform="translate(840.8 202.8) scale(1 1.16)" class="gl">TUBA3C</text><text transform="translate(840.8 228.2) scale(1 1.16)" class="gl">TUBA3E</text><text transform="translate(840.8 253.5) scale(1 1.16)" class="gl">TUBA3D</text><text transform="translate(840.8 278.8) scale(1 1.16)" class="gl">ALOX15B</text><text transform="translate(840.8 304.2) scale(1 1.16)" class="gl">RNASE2</text><text transform="translate(840.8 329.5) scale(1 1.16)" class="gl">IL1RL1</text><text transform="translate(840.8 354.8) scale(1 1.16)" class="gl">NPTX2</text><text transform="translate(840.8 380.2) scale(1 1.16)" class="gl">PPEF1</text><text transform="translate(840.8 405.5) scale(1 1.16)" class="gl">AC002546.1</text><text transform="translate(840.8 430.8) scale(1 1.16)" class="gl">AOX1</text><text transform="translate(840.8 456.2) scale(1 1.16)" class="gl">FCER1A</text><text transform="translate(840.8 481.5) scale(1 1.16)" class="gl">HAPLN1</text><text transform="translate(840.8 506.8) scale(1 1.16)" class="gl">LEFTY2</text><text transform="translate(840.8 532.2) scale(1 1.16)" class="gl">PENK</text><text transform="translate(840.8 557.5) scale(1 1.16)" class="gl">SFRP4</text><text transform="translate(840.8 582.8) scale(1 1.16)" class="gl">APCDD1L</text><text transform="translate(840.8 608.2) scale(1 1.16)" class="gl">MXRA5</text><text transform="translate(840.8 633.5) scale(1 1.16)" class="gl">FNDC1</text><text transform="translate(840.8 658.8) scale(1 1.16)" class="gl">COL22A1</text><text transform="translate(840.8 684.2) scale(1 1.16)" class="gl">SEZ6L</text><text transform="translate(840.8 709.5) scale(1 1.16)" class="gl">HBB</text><text transform="translate(840.8 734.8) scale(1 1.16)" class="gl">HBA1</text><text transform="translate(840.8 760.2) scale(1 1.16)" class="gl">HBA2</text><text transform="translate(840.8 785.5) scale(1 1.16)" class="gl">SLC1A7</text><text transform="translate(840.8 810.8) scale(1 1.16)" class="gl">AL031283.2</text>
<path d="M75.0 123.3H52.2V148.7H75.0M75.0 98.0H44.3V136.0H52.2M75.0 224.7H64.5V250.0H75.0M75.0 199.3H55.8V237.3H64.5M75.0 174.0H42.0V218.3H55.8M44.3 117.0H40.7V196.2H42.0M75.0 326.0H49.7V351.3H75.0M75.0 300.7H45.1V338.7H49.7M75.0 275.3H40.0V319.7H45.1M75.0 402.0H47.8V427.3H75.0M75.0 376.7H40.0V414.7H47.8M40.0 297.5H38.2V395.7H40.0M40.7 156.6H35.4V346.6H38.2M75.0 72.7H29.4V251.6H35.4M75.0 528.7H54.5V554.0H75.0M75.0 503.3H48.9V541.3H54.5M75.0 604.7H52.8V630.0H75.0M75.0 655.3H51.4V680.7H75.0M52.8 617.3H46.7V668.0H51.4M75.0 579.3H45.0V642.7H46.7M48.9 522.3H44.0V611.0H45.0M75.0 478.0H41.4V566.7H44.0M75.0 452.7H36.7V522.3H41.4M75.0 731.3H59.0V756.7H75.0M75.0 706.0H54.6V744.0H59.0M75.0 782.0H40.7V807.3H75.0M54.6 725.0H36.3V794.7H40.7M36.7 487.5H27.3V759.8H36.3M29.4 162.1H2.7V623.7H27.3" fill="none" stroke="#000" stroke-width="1.4"/>


<rect x="1078.0" y="124.3" width="558.0" height="597.5" fill="#fff"/>
<line x1="1180.2" x2="1180.2" y1="124.3" y2="721.8" class="gm"/><line x1="1314.2" x2="1314.2" y1="124.3" y2="721.8" class="gm"/><line x1="1448.2" x2="1448.2" y1="124.3" y2="721.8" class="gm"/><line x1="1582.2" x2="1582.2" y1="124.3" y2="721.8" class="gm"/><line x1="1078.0" x2="1636.0" y1="622.9" y2="622.9" class="gm"/><line x1="1078.0" x2="1636.0" y1="477.9" y2="477.9" class="gm"/><line x1="1078.0" x2="1636.0" y1="332.9" y2="332.9" class="gm"/><line x1="1078.0" x2="1636.0" y1="187.9" y2="187.9" class="gm"/><line x1="1113.2" x2="1113.2" y1="124.3" y2="721.8" class="gM"/><line x1="1247.2" x2="1247.2" y1="124.3" y2="721.8" class="gM"/><line x1="1381.2" x2="1381.2" y1="124.3" y2="721.8" class="gM"/><line x1="1515.2" x2="1515.2" y1="124.3" y2="721.8" class="gM"/><line x1="1078.0" x2="1636.0" y1="695.4" y2="695.4" class="gM"/><line x1="1078.0" x2="1636.0" y1="550.4" y2="550.4" class="gM"/><line x1="1078.0" x2="1636.0" y1="405.4" y2="405.4" class="gM"/><line x1="1078.0" x2="1636.0" y1="260.4" y2="260.4" class="gM"/>
<polygon points="1301.9,513.8 1293.7,525.3 1293.4,525.7 1293.1,526.0 1292.8,526.3 1292.4,526.5 1292.0,526.7 1291.6,526.9 1291.2,527.0 1279.6,530.1 1270.8,534.5 1266.6,539.5 1267.2,543.7 1267.3,544.1 1267.3,544.5 1267.2,544.9 1267.2,545.3 1267.1,545.7 1265.0,551.9 1265.6,554.4 1269.0,554.4 1269.4,554.5 1269.9,554.5 1270.3,554.6 1270.7,554.8 1271.1,555.0 1271.5,555.2 1271.8,555.5 1272.2,555.8 1272.5,556.1 1272.7,556.5 1272.9,556.9 1275.3,561.8 1275.5,562.2 1279.1,571.9 1279.2,572.3 1279.3,572.7 1279.4,573.1 1279.4,573.5 1279.3,573.9 1278.1,583.6 1278.1,584.1 1278.0,584.5 1276.3,589.6 1277.8,591.6 1282.8,593.7 1283.2,593.8 1283.5,594.1 1283.9,594.3 1284.2,594.6 1284.5,595.0 1284.8,595.3 1285.0,595.7 1285.2,596.1 1285.3,596.6 1285.4,597.0 1286.6,604.3 1286.7,604.7 1286.7,605.2 1286.6,605.6 1286.5,606.1 1286.4,606.5 1286.2,606.9 1286.0,607.3 1285.8,607.6 1285.5,608.0 1285.2,608.3 1276.8,615.6 1278.2,621.6 1281.7,629.6 1288.3,637.1 1288.4,637.3 1296.3,647.1 1304.3,655.5 1304.6,655.8 1304.8,656.2 1305.0,656.6 1305.2,657.0 1305.3,657.4 1308.4,669.4 1311.7,678.4 1313.9,681.6 1317.6,679.2 1318.0,678.9 1318.4,678.7 1318.8,678.6 1319.2,678.5 1319.7,678.4 1320.1,678.4 1320.6,678.5 1321.0,678.6 1330.7,681.0 1331.2,681.1 1331.6,681.2 1336.9,683.7 1337.3,684.0 1337.7,684.3 1338.1,684.6 1342.0,688.5 1354.0,690.7 1354.1,690.7 1366.0,693.1 1381.2,694.8 1395.1,693.7 1409.1,690.8 1421.1,687.1 1421.2,687.1 1431.4,684.2 1432.0,681.8 1432.1,681.3 1432.3,680.9 1432.5,680.5 1436.2,674.4 1436.4,674.1 1436.7,673.8 1437.0,673.5 1437.3,673.2 1437.6,673.0 1438.0,672.8 1438.4,672.6 1447.6,669.2 1453.4,665.3 1456.6,659.0 1456.8,658.6 1457.1,658.3 1457.4,657.9 1462.2,653.0 1462.5,652.8 1462.8,652.5 1463.1,652.3 1463.5,652.1 1463.9,652.0 1464.3,651.9 1472.0,649.9 1474.6,644.8 1477.8,634.1 1476.8,629.0 1476.8,628.8 1475.6,620.3 1475.6,620.2 1474.4,609.1 1474.3,608.6 1474.4,608.2 1474.4,607.7 1474.5,607.3 1474.7,606.9 1474.9,606.5 1475.1,606.1 1475.4,605.8 1481.9,598.1 1484.1,587.4 1485.2,574.2 1485.3,573.8 1485.4,573.4 1485.5,573.0 1485.7,572.6 1485.9,572.2 1486.2,571.9 1486.5,571.5 1486.8,571.2 1487.1,571.0 1487.5,570.8 1500.3,563.8 1506.4,557.6 1509.0,550.8 1504.1,542.9 1503.9,542.6 1503.7,542.2 1503.6,541.7 1503.5,541.3 1503.4,540.9 1503.4,540.5 1503.5,540.0 1503.5,539.6 1503.7,539.2 1503.8,538.8 1504.0,538.4 1508.0,531.5 1506.2,525.4 1503.7,521.5 1503.5,521.2 1503.3,520.8 1503.2,520.4 1503.1,520.0 1503.0,519.6 1503.0,519.2 1503.0,515.2 1494.1,512.3 1477.5,510.3 1477.4,510.3 1458.0,507.4 1440.7,510.3 1440.3,510.4 1439.9,510.4 1439.5,510.3 1439.1,510.3 1424.9,507.4 1413.9,509.1 1406.9,515.2 1402.3,519.5 1401.4,526.9 1404.4,536.1 1407.7,540.5 1407.9,540.8 1408.1,541.2 1408.3,541.6 1408.4,542.0 1408.5,542.4 1408.6,542.8 1408.6,543.3 1408.5,543.7 1408.5,544.1 1408.3,544.5 1404.6,555.4 1404.6,555.6 1399.8,567.7 1399.7,567.9 1396.8,574.5 1403.2,579.7 1403.6,580.0 1403.8,580.3 1404.1,580.6 1404.3,581.0 1404.5,581.4 1404.7,581.8 1404.8,582.2 1404.8,582.6 1404.9,583.0 1404.9,583.5 1404.8,583.9 1404.7,584.3 1404.6,584.7 1404.4,585.1 1404.2,585.5 1403.9,585.8 1403.6,586.1 1403.3,586.4 1398.0,591.0 1398.8,597.1 1398.9,597.5 1398.9,597.9 1398.8,598.3 1398.7,598.8 1398.6,599.2 1398.5,599.5 1398.3,599.9 1394.4,606.4 1394.0,610.1 1394.6,619.4 1394.6,619.9 1394.5,620.3 1393.3,628.7 1392.1,640.7 1392.1,640.9 1390.3,653.1 1390.3,653.4 1385.3,677.6 1385.2,678.0 1385.0,678.4 1384.8,678.8 1384.6,679.2 1384.3,679.5 1384.0,679.8 1383.7,680.1 1383.4,680.4 1383.0,680.6 1382.6,680.8 1382.2,680.9 1381.8,681.0 1381.3,681.1 1380.9,681.1 1380.5,681.0 1380.0,681.0 1379.6,680.8 1379.2,680.7 1378.8,680.5 1378.5,680.3 1378.1,680.0 1377.8,679.7 1377.5,679.4 1377.3,679.0 1377.1,678.6 1376.9,678.2 1376.8,677.8 1376.7,677.4 1376.6,677.0 1376.2,668.8 1374.4,659.3 1374.4,659.1 1372.6,647.0 1372.5,646.6 1372.0,635.0 1369.6,627.0 1369.5,626.6 1369.4,626.1 1369.4,625.7 1369.5,625.2 1370.6,617.4 1368.6,607.1 1362.2,600.8 1361.9,600.5 1361.7,600.2 1361.5,599.8 1361.3,599.4 1361.1,599.0 1361.0,598.6 1361.0,598.2 1359.8,588.5 1359.7,588.1 1359.7,587.7 1359.8,587.2 1359.9,586.8 1360.0,586.4 1364.4,575.5 1362.4,567.1 1362.3,566.8 1362.2,566.4 1362.2,566.0 1362.3,565.6 1363.1,558.5 1354.4,552.7 1354.0,552.5 1353.7,552.2 1353.4,551.9 1353.1,551.5 1352.9,551.1 1352.7,550.7 1352.6,550.3 1352.5,549.9 1352.4,549.4 1352.4,549.0 1352.5,548.6 1352.5,548.1 1355.0,537.2 1355.2,536.8 1355.3,536.4 1355.6,536.0 1355.8,535.6 1356.1,535.2 1361.5,529.4 1355.8,521.8 1355.6,521.5 1355.4,521.2 1355.3,520.8 1352.2,513.3 1346.4,510.4 1346.0,510.2 1337.5,505.1 1332.2,503.8 1326.2,506.0 1326.1,506.1 1315.1,509.7 1315.0,509.7 1301.9,513.8" fill="#000"/>
<path d="M1507.5 151.3h0M1501.5 270.2h0M1286.9 313.7h0M1327.3 334.6h0M1343.0 331.9h0M1250.8 354.6h0M1255.6 358.6h0M1265.0 352.8h0M1274.7 379.2h0M1296.0 374.7h0M1321.1 394.3h0M1333.5 406.9h0M1265.4 403.8h0M1258.7 409.6h0M1277.2 413.3h0M1297.8 410.7h0M1310.6 416.9h0M1273.2 423.8h0M1319.3 424.7h0M1347.0 423.3h0M1440.0 322.2h0M1481.1 312.0h0M1496.1 312.0h0M1478.2 322.8h0M1491.0 343.2h0M1423.8 357.9h0M1462.6 359.4h0M1493.0 357.4h0M1490.0 363.4h0M1490.2 369.2h0M1485.7 373.2h0M1431.4 375.9h0M1453.6 371.6h0M1474.9 383.8h0M1469.3 394.7h0M1487.9 395.0h0M1493.0 394.3h0M1444.2 404.3h0M1500.2 408.0h0M1414.7 414.2h0M1410.0 420.2h0M1445.1 415.6h0M1451.5 416.2h0M1446.4 420.2h0M1431.8 422.0h0M1436.9 425.6h0M1496.6 419.8h0M1484.2 422.9h0M1476.9 425.6h0M1469.7 428.4h0M1510.6 425.6h0M1421.4 429.3h0M1451.5 430.0h0M1510.0 427.3h0M1512.7 429.1h0M1503.6 436.4h0M1513.1 440.4h0M1506.4 448.2h0M1511.3 450.9h0M1510.9 469.2h0M1503.6 474.6h0M1503.6 480.1h0M1501.8 487.4h0M1507.3 498.3h0M1503.6 503.7h0M1514.6 509.2h0M1503.6 512.8h0M1509.1 525.6h0M1510.9 529.2h0M1503.6 536.5h0M1510.9 547.4h0M1503.6 547.4h0M1507.3 560.2h0M1512.7 570.0h0M1503.6 563.6h0M1508.2 561.8h0M1513.1 572.7h0M1504.6 601.9h0M1273.2 424.2h0M1310.2 420.0h0M1319.3 424.9h0M1281.1 433.3h0M1320.6 437.0h0M1258.7 449.1h0M1270.2 442.5h0M1271.4 447.9h0M1284.8 446.1h0M1278.1 454.0h0M1315.1 447.3h0M1318.7 454.0h0M1324.8 458.8h0M1326.0 463.7h0M1249.0 453.4h0M1250.8 460.0h0M1269.0 458.8h0M1267.2 467.3h0M1275.0 464.3h0M1282.9 467.3h0M1290.8 464.3h0M1258.1 467.9h0M1303.6 461.3h0M1304.2 469.8h0M1310.2 473.4h0M1315.7 468.5h0M1320.0 470.4h0M1287.8 477.0h0M1327.2 476.4h0M1332.1 481.9h0M1325.4 489.2h0M1249.0 485.5h0M1262.3 483.1h0M1271.4 483.7h0M1276.3 485.5h0M1279.9 492.8h0M1256.8 493.4h0M1304.8 483.1h0M1301.1 490.4h0M1305.4 492.8h0M1312.7 488.0h0M1313.9 483.1h0M1300.5 497.7h0M1310.2 495.2h0M1320.0 480.7h0M1259.3 502.5h0M1267.2 503.7h0M1287.2 501.9h0M1324.8 497.7h0M1322.4 502.5h0M1330.9 495.2h0M1271.4 517.1h0M1286.0 513.4h0M1300.5 512.2h0M1307.8 512.2h0M1313.9 509.8h0M1320.0 512.2h0M1327.2 514.7h0M1332.1 508.6h0M1334.5 455.2h0M1347.1 423.6h0M1358.4 444.3h0M1338.0 455.2h0M1340.5 471.0h0M1339.9 474.6h0M1344.7 472.2h0M1352.0 474.6h0M1351.4 483.1h0M1337.4 492.8h0M1342.3 498.9h0M1347.1 507.4h0M1353.2 511.0h0M1339.9 505.0h0M1338.6 512.2h0M1349.6 517.1h0M1356.8 517.1h0M1410.2 421.2h0M1421.2 429.7h0M1424.2 435.2h0M1430.9 422.4h0M1433.3 429.7h0M1432.1 433.3h0M1414.9 445.5h0M1421.8 452.8h0M1406.6 467.3h0M1410.2 464.9h0M1418.7 466.1h0M1426.0 468.5h0M1432.1 462.5h0M1424.8 474.6h0M1428.4 479.5h0M1430.9 485.5h0M1427.2 492.8h0M1422.4 498.9h0M1412.7 506.2h0M1409.0 508.6h0M1417.5 505.0h0M1399.3 517.1h0M1407.8 517.1h0M1420.0 512.2h0M1427.2 507.4h0M1432.1 498.9h0M1437.4 423.6h0M1437.4 432.1h0M1445.9 421.2h0M1450.8 431.5h0M1459.3 430.9h0M1466.6 429.7h0M1475.0 426.1h0M1483.5 423.6h0M1495.7 421.2h0M1510.2 427.3h0M1504.2 435.8h0M1512.7 440.0h0M1483.5 435.8h0M1489.6 438.2h0M1459.3 444.3h0M1466.6 441.8h0M1472.6 447.9h0M1486.0 444.3h0M1495.7 446.1h0M1505.4 449.1h0M1511.5 450.3h0M1481.1 450.3h0M1467.8 458.8h0M1477.5 456.4h0M1483.5 460.0h0M1488.4 463.7h0M1495.7 457.6h0M1454.4 462.5h0M1437.4 463.7h0M1510.2 468.5h0M1466.6 473.4h0M1475.0 475.8h0M1483.5 478.3h0M1493.3 473.4h0M1503.0 474.6h0M1507.8 479.5h0M1445.9 471.0h0M1454.4 472.2h0M1438.6 474.6h0M1442.3 480.7h0M1449.6 479.5h0M1459.3 483.1h0M1469.0 483.1h0M1481.1 488.0h0M1489.6 488.0h0M1498.1 485.5h0M1503.0 490.4h0M1507.8 497.7h0M1513.9 508.6h0M1437.4 490.4h0M1444.7 488.0h0M1453.2 492.8h0M1459.3 495.2h0M1471.4 497.7h0M1477.5 498.9h0M1486.0 501.3h0M1493.3 503.7h0M1500.5 505.0h0M1506.6 503.7h0M1441.1 502.5h0M1449.6 502.5h0M1456.8 507.4h0M1465.3 505.0h0M1471.4 509.8h0M1477.5 512.2h0M1486.0 512.2h0M1495.7 512.2h0M1503.0 514.7h0M1510.2 513.4h0M1444.7 512.2h0M1438.6 509.8h0M1453.2 515.9h0M1461.7 515.9h0M1469.0 517.1h0M1255.0 529.1h0M1259.3 535.8h0M1263.5 544.3h0M1263.5 556.4h0M1259.9 568.5h0M1257.5 591.0h0M1257.5 601.3h0M1249.0 612.8h0M1266.3 612.2h0M1277.5 613.4h0M1273.8 592.8h0M1275.0 583.1h0M1276.3 573.4h0M1271.4 561.3h0M1270.2 522.4h0M1281.1 523.6h0M1289.6 522.4h0M1513.3 572.8h0M1493.3 581.9h0M1494.5 603.7h0M1504.2 601.9h0M1486.0 618.9h0M1501.7 566.1h0M1507.8 560.0h0M1512.7 550.3h0M1510.2 530.9h0M1503.0 524.9h0M1510.2 524.9h0M1249.0 613.6h0M1265.3 613.0h0M1264.7 621.5h0M1271.4 628.2h0M1279.3 636.1h0M1287.2 644.0h0M1267.2 642.2h0M1310.2 685.8h0M1313.3 688.3h0M1330.9 684.0h0M1486.0 620.9h0M1486.0 629.4h0M1483.5 639.1h0M1484.5 656.7h0M1454.4 669.5h0M1474.4 684.6h0M1478.7 683.4h0M1489.6 682.2h0M1493.9 681.6h0M1435.6 685.2h0M1416.6 514.0h0M1506.2 496.8h0M1441.3 490.6h0M1474.2 477.4h0M1415.5 506.1h0M1475.1 490.7h0M1491.5 492.7h0M1462.0 489.1h0M1439.6 495.1h0M1426.4 506.9h0M1452.3 477.5h0M1409.3 512.2h0M1448.2 470.3h0M1475.4 473.3h0M1501.0 474.2h0M1438.7 488.3h0M1501.5 501.1h0M1451.5 500.7h0M1494.7 494.9h0M1434.6 479.8h0M1452.2 469.1h0M1482.8 473.0h0M1490.2 472.6h0M1432.8 502.7h0M1455.2 509.8h0M1505.4 481.1h0M1448.8 479.6h0M1427.5 509.3h0M1483.1 492.6h0M1474.1 500.8h0M1487.5 513.9h0M1416.8 497.1h0M1488.1 512.1h0M1440.3 471.1h0M1427.4 482.0h0M1406.8 510.7h0M1471.3 470.9h0M1455.8 466.4h0M1468.4 475.0h0M1462.2 497.7h0M1436.4 498.0h0M1439.4 469.3h0M1435.3 484.1h0M1507.9 512.8h0M1490.3 500.3h0M1480.5 507.1h0M1485.2 477.0h0M1488.5 476.0h0M1455.8 478.0h0M1467.8 495.7h0M1426.9 496.9h0M1440.0 503.1h0M1432.5 506.7h0M1446.5 493.0h0M1475.4 491.0h0M1417.4 506.8h0M1487.8 497.7h0M1501.0 504.3h0M1433.5 498.1h0M1438.1 504.0h0M1443.1 470.6h0M1498.2 500.7h0M1483.4 493.3h0M1487.7 487.1h0M1462.2 507.6h0M1479.0 507.0h0M1455.6 511.4h0M1412.1 511.0h0M1441.6 467.1h0M1469.4 487.5h0M1448.0 509.7h0M1415.4 496.5h0M1446.3 491.6h0M1455.9 469.5h0M1457.3 510.3h0M1423.2 502.0h0M1460.6 478.1h0M1428.6 510.6h0M1485.8 486.4h0M1445.4 503.3h0M1443.2 503.4h0M1498.0 513.2h0M1440.9 511.7h0M1504.1 484.8h0M1483.6 482.5h0M1303.5 511.8h0M1299.9 516.6h0M1296.9 520.2h0M1293.3 523.4h0M1291.6 529.2h0M1288.7 527.5h0M1284.4 528.2h0M1279.9 529.5h0M1277.5 531.2h0M1274.3 533.0h0M1270.2 536.5h0M1268.0 537.9h0M1266.8 542.4h0M1268.5 545.7h0M1265.5 550.5h0M1264.7 553.3h0M1269.4 554.9h0M1272.3 556.4h0M1271.9 560.2h0M1275.0 561.7h0M1277.4 567.3h0M1278.2 569.7h0M1279.3 574.4h0M1279.9 579.0h0M1278.4 583.3h0M1277.2 585.5h0M1277.0 590.4h0M1279.4 591.7h0M1283.5 591.9h0M1286.0 597.5h0M1284.8 601.1h0M1285.9 605.6h0M1283.3 607.8h0M1282.5 612.1h0M1277.2 613.4h0M1277.4 616.3h0M1279.2 619.7h0M1279.7 623.6h0M1282.2 628.1h0M1283.0 630.0h0M1287.2 635.0h0M1289.1 638.3h0M1291.3 640.0h0M1292.9 643.0h0M1297.1 645.6h0M1298.3 649.4h0M1301.7 653.1h0M1303.3 654.1h0M1305.8 660.1h0M1307.4 663.2h0M1307.5 667.2h0M1308.7 671.4h0M1309.6 674.6h0M1311.6 678.7h0M1314.0 683.6h0M1318.4 680.6h0M1319.3 678.3h0M1324.4 679.9h0M1326.9 681.4h0M1333.4 680.7h0M1335.4 682.8h0M1339.3 686.3h0M1343.9 688.3h0M1346.8 689.4h0M1351.5 690.6h0M1355.1 689.8h0M1357.8 690.8h0M1363.1 692.8h0M1365.6 692.7h0M1370.2 693.0h0M1373.0 694.4h0M1379.7 694.2h0M1381.3 693.8h0M1384.6 694.9h0M1390.4 694.1h0M1394.0 693.9h0M1397.8 691.9h0M1401.2 692.4h0M1404.9 691.1h0M1408.7 690.4h0M1413.9 689.2h0M1416.9 689.0h0M1421.4 688.5h0M1423.1 686.8h0M1428.2 685.1h0M1432.3 684.0h0M1434.0 679.6h0M1436.5 675.8h0M1437.6 673.6h0M1441.0 673.2h0M1446.0 671.8h0M1448.8 668.1h0M1452.2 666.8h0M1454.0 663.4h0M1456.3 660.9h0M1458.3 657.3h0M1461.1 652.8h0M1464.5 650.7h0M1469.0 651.5h0M1472.5 649.7h0M1475.5 645.9h0M1475.6 641.6h0M1475.3 638.6h0M1476.4 634.7h0M1477.0 631.2h0M1476.4 625.7h0M1476.1 621.9h0M1475.2 618.4h0M1474.8 614.2h0M1473.8 610.3h0M1473.2 606.4h0M1476.4 604.3h0M1481.0 598.8h0M1482.3 597.0h0M1482.1 593.6h0M1483.3 587.8h0M1484.0 585.2h0M1484.7 580.3h0M1485.5 577.9h0M1484.5 572.8h0M1488.0 570.0h0M1492.9 568.7h0M1494.3 566.0h0M1498.5 566.6h0M1501.6 562.4h0M1505.0 559.5h0M1508.7 555.9h0M1508.9 552.7h0M1508.4 548.1h0M1507.2 545.6h0M1503.8 541.5h0M1503.5 538.8h0M1506.8 535.5h0M1508.9 532.0h0M1506.8 528.3h0M1505.7 523.9h0M1503.8 521.5h0M1503.2 516.2h0M1501.1 515.9h0M1496.5 513.1h0M1492.7 513.1h0M1487.4 512.0h0M1485.8 510.6h0M1482.1 511.2h0M1476.5 510.4h0M1471.7 509.2h0M1470.5 508.4h0M1466.5 508.4h0M1461.9 507.9h0M1455.3 507.1h0M1453.3 507.3h0M1448.1 509.2h0M1444.7 508.2h0M1440.8 510.9h0M1437.0 510.7h0M1434.7 509.2h0M1428.6 507.3h0M1425.6 508.3h0M1421.8 508.4h0M1417.3 508.8h0M1413.4 509.0h0M1409.7 510.6h0M1407.4 513.6h0M1404.0 517.8h0M1402.2 522.5h0M1402.5 523.6h0M1402.4 528.3h0M1402.5 532.7h0M1403.6 533.2h0M1407.2 538.4h0M1409.7 541.8h0M1406.8 547.5h0M1405.6 550.2h0M1406.3 553.9h0M1403.7 557.7h0M1403.0 560.7h0M1401.3 565.5h0M1401.2 568.5h0M1397.0 573.0h0M1397.8 575.8h0M1401.3 579.0h0M1403.6 580.7h0M1402.6 583.9h0M1403.2 587.0h0M1398.4 589.2h0M1398.8 593.8h0M1397.9 598.1h0M1397.7 601.9h0M1394.9 606.1h0M1394.5 608.4h0M1393.7 612.2h0M1395.1 616.2h0M1395.4 620.9h0M1395.0 625.1h0M1393.3 626.8h0M1393.2 633.0h0M1392.7 636.8h0M1391.8 640.0h0M1390.9 645.4h0M1391.2 647.9h0M1389.4 652.1h0M1390.9 656.5h0M1388.3 661.2h0M1389.2 664.8h0M1387.9 668.8h0M1386.9 672.4h0M1385.0 676.9h0M1384.6 681.1h0M1379.2 681.6h0M1378.2 679.0h0M1376.9 676.0h0M1376.8 671.0h0M1375.8 668.2h0M1376.2 663.6h0M1374.5 659.7h0M1374.7 654.7h0M1372.2 651.7h0M1371.8 647.2h0M1372.5 644.1h0M1371.3 640.3h0M1370.6 636.1h0M1369.8 630.8h0M1370.4 627.6h0M1369.0 623.7h0M1370.6 620.0h0M1370.3 617.0h0M1369.0 611.8h0M1368.4 609.2h0M1367.3 606.1h0M1363.7 602.2h0M1361.9 598.9h0M1361.3 595.8h0M1359.5 591.2h0M1359.7 588.7h0M1363.2 583.5h0M1362.7 578.0h0M1364.3 576.1h0M1362.8 572.9h0M1361.4 568.2h0M1362.5 563.4h0M1363.6 561.3h0M1360.3 556.3h0M1358.5 555.2h0M1353.8 552.7h0M1352.4 549.7h0M1353.7 546.2h0M1355.4 543.1h0M1355.4 538.9h0M1357.7 535.2h0M1358.4 532.4h0M1361.0 530.0h0M1358.6 525.9h0M1356.4 523.6h0M1354.5 518.5h0M1353.1 514.6h0M1350.4 512.3h0M1346.9 512.1h0M1342.9 508.6h0M1339.6 507.0h0M1335.2 504.2h0M1332.3 504.2h0M1328.5 504.7h0M1324.1 506.9h0M1322.1 508.0h0M1317.3 509.3h0M1312.6 509.9h0M1309.3 511.6h0M1305.7 511.6h0" stroke="#000" stroke-width="9.5" stroke-linecap="round" fill="none"/>
<path d="M1102.7 239.8h0M1158.9 293.7h0M1220.6 301.3h0M1211.9 322.2h0M1200.8 333.7h0M1213.7 348.8h0M1210.2 352.5h0M1192.4 354.8h0M1218.8 360.1h0M1209.3 362.8h0M1215.2 365.6h0M1222.4 367.7h0M1194.6 366.3h0M1177.1 382.3h0M1206.1 381.6h0M1201.1 383.2h0M1200.0 399.2h0M1222.1 400.5h0M1219.2 418.3h0M1210.2 422.0h0M1216.1 424.7h0M1214.6 430.9h0M1207.3 448.6h0M1222.8 460.6h0M1185.1 472.2h0M1183.7 481.3h0M1222.8 475.5h0M1230.6 480.1h0M1215.2 482.8h0M1213.0 498.6h0M1226.1 499.5h0M1219.7 507.4h0M1222.4 510.1h0M1223.7 523.2h0M1229.7 524.1h0M1223.0 554.7h0M1229.7 560.2h0M1231.5 576.5h0M1232.5 590.4h0M1214.8 625.0h0M1241.0 371.0h0M1247.2 375.2h0M1243.8 396.1h0M1246.5 466.1h0M1239.9 471.0h0M1243.5 477.0h0M1238.6 480.7h0M1244.7 491.6h0M1239.9 496.5h0M1242.9 542.5h0M1245.9 550.9h0M1241.1 563.7h0M1237.4 577.0h0M1238.6 432.1h0M1241.6 516.9h0M1244.5 522.7h0" stroke="#00ee00" stroke-width="9.5" stroke-linecap="round" fill="none"/>
<path d="M1576.8 216.5h0M1524.6 237.9h0M1606.1 254.3h0M1611.0 258.3h0M1607.4 281.8h0M1515.1 314.0h0M1521.5 323.7h0M1517.7 333.7h0M1600.7 332.4h0M1526.9 355.0h0M1560.6 356.8h0M1533.3 364.6h0M1597.4 362.5h0M1573.7 374.7h0M1559.2 378.3h0M1536.8 381.4h0M1551.3 403.8h0M1554.2 409.6h0M1521.5 418.0h0M1562.8 418.3h0M1551.0 426.2h0M1522.8 430.0h0M1551.3 426.9h0M1562.8 420.0h0M1522.4 431.3h0M1537.3 444.6h0M1524.9 449.1h0M1542.2 470.6h0M1602.9 471.9h0M1518.2 476.4h0M1560.1 477.5h0M1545.5 482.8h0M1550.1 481.9h0M1516.7 491.4h0M1527.3 490.1h0M1515.5 501.6h0M1542.2 501.0h0M1541.9 505.6h0M1523.7 510.7h0M1531.9 512.5h0M1531.9 521.0h0M1518.6 526.5h0M1525.5 526.5h0M1546.4 523.8h0M1585.6 534.7h0M1610.7 531.0h0M1547.3 544.7h0M1532.4 548.9h0M1533.7 551.1h0M1518.2 601.5h0M1523.7 606.4h0M1522.4 431.2h0M1524.8 449.1h0M1518.1 476.4h0M1516.6 491.0h0M1527.2 490.1h0M1515.7 501.3h0M1525.4 510.4h0M1531.5 512.2h0" stroke="#ee0000" stroke-width="9.5" stroke-linecap="round" fill="none"/>
<rect x="1078.0" y="124.3" width="558.0" height="597.5" fill="none" stroke="#1a1a1a" stroke-width="1.6"/>
<line x1="1113.2" x2="1113.2" y1="721.8" y2="728.0999999999999" class="tk"/><text x="1113.2" y="745" class="at" text-anchor="middle">−4</text><line x1="1247.2" x2="1247.2" y1="721.8" y2="728.0999999999999" class="tk"/><text x="1247.2" y="745" class="at" text-anchor="middle">−2</text><line x1="1381.2" x2="1381.2" y1="721.8" y2="728.0999999999999" class="tk"/><text x="1381.2" y="745" class="at" text-anchor="middle">0</text><line x1="1515.2" x2="1515.2" y1="721.8" y2="728.0999999999999" class="tk"/><text x="1515.2" y="745" class="at" text-anchor="middle">2</text><line x1="1072.5" x2="1078.0" y1="695.4" y2="695.4" class="tk"/><text x="1067" y="701.5" class="at" text-anchor="end">0</text><line x1="1072.5" x2="1078.0" y1="550.4" y2="550.4" class="tk"/><text x="1067" y="556.5" class="at" text-anchor="end">25</text><line x1="1072.5" x2="1078.0" y1="405.4" y2="405.4" class="tk"/><text x="1067" y="411.5" class="at" text-anchor="end">50</text><line x1="1072.5" x2="1078.0" y1="260.4" y2="260.4" class="tk"/><text x="1067" y="266.5" class="at" text-anchor="end">75</text>
<text x="1357" y="769.8" class="ax" text-anchor="middle">logFC</text>
<text transform="translate(1038.5 423.4) rotate(-90)" class="ax" text-anchor="middle">−log10(adj.P.Val)</text>
<text x="1669" y="374.8" class="lg">Significant</text>
<circle cx="1685.5" cy="405" r="4.6" fill="#00ee00"/>
<circle cx="1685.5" cy="439" r="4.6" fill="#000"/>
<circle cx="1685.5" cy="473" r="4.6" fill="#ee0000"/>
<text x="1714.5" y="411.3" class="li">Down</text>
<text x="1714.5" y="445.3" class="li">Not</text>
<text x="1714.5" y="479.3" class="li">Up</text>

</svg>
</body></html>
